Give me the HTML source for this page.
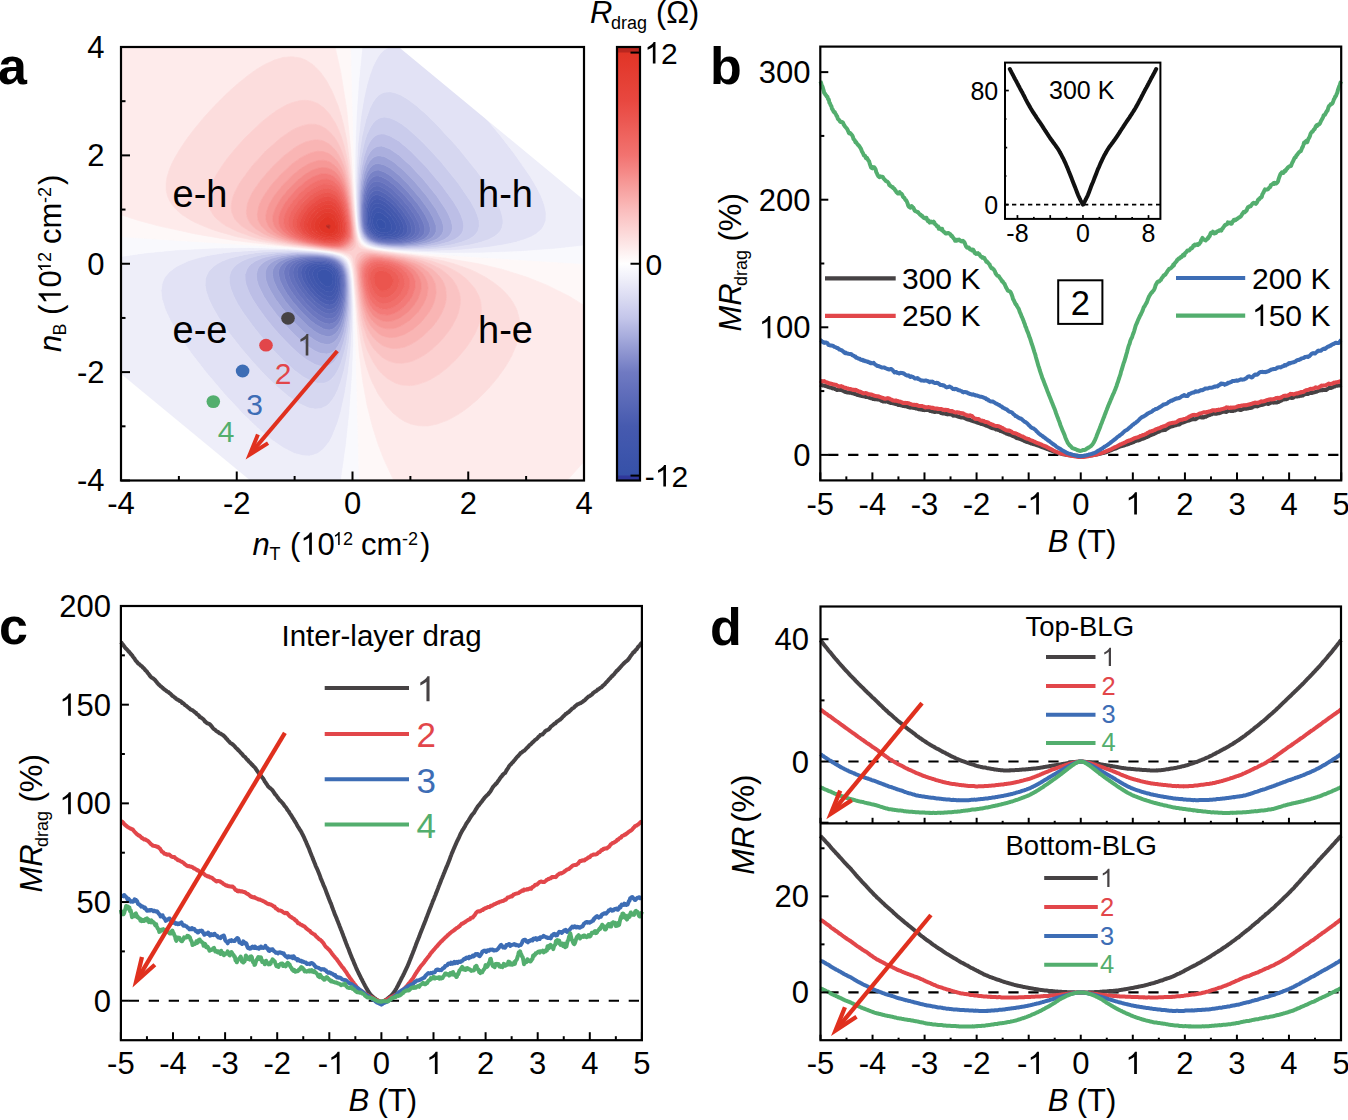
<!DOCTYPE html><html><head><meta charset="utf-8"><style>html,body{margin:0;padding:0;background:#fff;overflow:hidden;}svg{display:block;}</style></head><body>
<svg width="1348" height="1120" viewBox="0 0 1348 1120" font-family='"Liberation Sans", sans-serif'>
<defs><path id="g1" d="M763 0L583 0L583 1147C540 1106 483 1065 413 1024C343 983 280 952 223 931L223 1105C321 1151 407 1207 481 1273C555 1339 607 1403 638 1466L763 1466Z"/></defs>
<rect width="1348" height="1120" fill="#fff"/>
<g>
<path d="M381.4 228.9l3.2-.4 1.4-2.7-.7-2.7-1-1.4-2.9-2.5-2.9-.3-1.3 1.5-.6 2.7 .9 2.7 1 1.5 2 1.2z" fill="#3651a9" stroke="#3651a9" stroke-width=".7" fill-rule="evenodd"/>
<path d="M326.5 286.5l2.9 .1 2.8-2.7 .8-3.9-.1-2.7-.7-2.7-2.8-3.4-2.9-1.4-2.9-.5-2.9 .7-2.6 1.9-.7 2.7 .4 2.7 1.3 2.7 2 2.7 3.2 2.7zM378.5 231.6l2.9 .9 2.9 .3 2.9-.4 2.9-1.2 1.7-2.7 0-2.7-1.7-4.1-2.9-4.1-2.9-2.7-2.9-1.8-2.9-.8-2.8 .9-1.4 1.8-1.2 2.7-.4 2.7 .1 2.7 .8 2.7 2.1 3.5 2.3 1.9zM380.5 228.5l-2-1.2-1-1.5-.9-2.7 .6-2.7 1.3-1.5 2.9 .3 2.9 2.5 1 1.4 .7 2.7-1.4 2.7-3.2 .4z" fill="#3953aa" stroke="#3953aa" stroke-width=".7" fill-rule="evenodd"/>
<path d="M326.5 291.6l2.9 .4 2.8-1.1 2-2.8 .9-2.1 .6-3.3-.6-7.3-2.9-5.1-2.8-2.2-5.8-1.6-2.9 0-2.9 .8-3.3 1.9-1.6 2.7-.2 2.7 .6 2.7 2.8 5.4 4.6 5.3 4.1 2.8zM324.3 285.4l-3.2-2.7-2-2.7-1.3-2.7-.4-2.7 .7-2.7 2.6-1.9 2.9-.7 2.9 .5 2.9 1.4 2.8 3.4 .7 2.7 .1 2.7-.8 3.9-2.8 2.7-2.9-.1zM378.5 233.9l5.8 1.1 2.9 0 4.9-1.1 3.3-2.7 .9-2.7-.2-2.7-1-2.7-2.1-3.7-2.9-3.8-5.8-5.5-2.9-1.7-2.9-.9-2.8 .3-2.9 2.6-1.6 4.6-.6 5.4 .8 5.4 1.4 3.3 2.9 3.1 2.8 1.7zM378 231.2l-2.3-1.9-2.1-3.5-.8-2.7-.1-2.7 .4-2.7 1.2-2.7 1.4-1.8 2.8-.9 2.9 .8 2.9 1.8 2.9 2.7 2.9 4.1 1.7 4.1 0 2.7-1.7 2.7-2.9 1.2-2.9 .4-2.9-.3-2.9-.9z" fill="#3d55ac" stroke="#3d55ac" stroke-width=".7" fill-rule="evenodd"/>
<path d="M329.4 296.6l2.8-.7 2.4-2.3 2.3-5.5 .8-8.1-1-5.4-1-2.7-3.5-4.2-2.8-1.7-2.9-.9-5.8-.6-2.9 .3-5.2 1.7-2.9 2.7-1 2.7 0 2.7 1.7 5.4 3.4 5.4 4 4.7 5.8 4.6 3.8 1.6zM324.8 290.8l-4.1-2.8-4.6-5.3-2.8-5.4-.6-2.7 .2-2.7 1.6-2.7 3.3-1.9 2.9-.8 2.9 0 5.8 1.6 2.8 2.2 2.9 5.1 .6 7.3-.6 3.3-.9 2.1-2 2.8-2.8 1.1-2.9-.4zM384.3 236.8l6.1-.1 2.6-.7 4.6-2.1 2.1-2.7 .6-2.7-.4-2.7-1-2.7-3.1-5.4-6.9-8.1-4.6-3.8-2.9-1.7-2.9-.9-2.8 .1-2.9 1.8-2.9 5.7-1 6.9 .7 8.1 2.7 5.4 2.9 2.7 3.3 1.6 4.5 1.2zM378.5 233.9l-2.8-1.7-2.9-3.1-1.4-3.3-.8-5.4 .6-5.4 1.6-4.6 2.9-2.6 2.8-.3 2.9 .9 2.9 1.7 5.8 5.5 2.9 3.8 2.1 3.7 1 2.7 .2 2.7-.9 2.7-3.3 2.7-4.9 1.1-2.9 0-5.8-1.1z" fill="#4157ad" stroke="#4157ad" stroke-width=".7" fill-rule="evenodd"/>
<path d="M323.6 299l2.9 1.3 2.9 .6 2.8-.5 2.9-2.3 2.9-5.8 .8-4.2 .4-8.1-.8-5.4-1-2.7-2.3-3.6-2.9-2.5-2.8-1.5-2.9-.9-5.8-.5-7.7 .9-5.4 2.7-2.1 2.7-.7 2.7 .7 5.4 2.5 5.4 4 5.8 5.8 6.2 5.7 4.3zM327.4 296.3l-3.8-1.6-5.8-4.6-4-4.7-3.4-5.4-1.7-5.4 0-2.7 1-2.7 2.9-2.7 5.2-1.7 2.9-.3 5.8 .6 2.9 .9 2.8 1.7 3.5 4.2 1 2.7 1 5.4-.8 8.1-2.3 5.5-2.4 2.3-2.8 .7zM378.5 237l8.7 1.2 5.8-.4 4.9-1.1 4.2-2.8 1.6-2.7 .3-2.7-.4-2.7-2.3-5.4-3.5-5.4-4.8-5.8-5.3-5.1-3.4-2.5-2.9-1.6-2.9-1-2.8 0-2.9 1.4-2.9 4.1-2 7.8-.3 8.1 .7 5.4 2.3 5.4 2.3 2.7 4.7 2.8zM383 236.7l-4.5-1.2-3.3-1.6-2.9-2.7-2.7-5.4-.7-8.1 1-6.9 2.9-5.7 2.9-1.8 2.8-.1 2.9 .9 2.9 1.7 4.6 3.8 6.9 8.1 3.1 5.4 1 2.7 .4 2.7-.6 2.7-2.1 2.7-4.6 2.1-2.6 .7-6.1 .1z" fill="#4459ae" stroke="#4459ae" stroke-width=".7" fill-rule="evenodd"/>
<path d="M326.5 304.6l2.9 .5 2.8-.4 2.9-1.8 2.9-4.5 2-7.6 .7-8.1-1-8.1-1.7-4.5-2.7-3.6-3.1-2.3-5.7-2-8.7-.7-5.8 .7-5 1.6-3.8 2.7-1.7 2.7-.5 2.7 .1 2.7 1.7 5.4 4.8 8.1 6.9 8.2 6.2 5.2 5.3 2.9zM323.5 299l-5.7-4.3-5.8-6.2-4-5.8-2.5-5.4-.7-5.4 .7-2.7 2.1-2.7 5.4-2.7 7.7-.9 5.8 .5 2.9 .9 2.8 1.5 2.9 2.5 2.3 3.6 1 2.7 .8 5.4-.4 8.1-.8 4.2-2.9 5.8-2.9 2.3-2.8 .5-2.9-.6-2.9-1.3zM387.2 239.5l8.7-.6 7.1-2.2 3.3-2.8 1.3-2.7 .2-2.7-.5-2.7-2.2-5.4-3.4-5.4-4.2-5.4-5-5.5-8.2-6.7-5.8-2.5-2.8-.1-2.9 1.2-2.5 2.7-2.2 5.4-1.1 4.3-.6 6.6 .6 10.4 2.1 5.8 3.7 4.1 2.9 1.8 2.8 1.1 6 1.2zM377.6 236.7l-4.7-2.8-2.3-2.7-2.3-5.4-.7-5.4 .3-8.1 2-7.8 2.9-4.1 2.9-1.4 2.8 0 2.9 1 2.9 1.6 3.4 2.5 5.3 5.1 4.8 5.8 3.5 5.4 2.3 5.4 .4 2.7-.3 2.7-1.6 2.7-4.2 2.8-4.9 1.1-5.8 .4-8.7-1.2z" fill="#4a5db1" stroke="#4a5db1" stroke-width=".7" fill-rule="evenodd"/>
<path d="M323.6 307.8l2.9 1.1 2.9 .6 2.8-.4 2.9-1.7 2.9-3.8 2.6-7.3 1.1-8.2 0-8.1-.8-5.4-.8-2.7-2.1-4.1-2.9-3-5.7-3.1-5.8-1.2-5.8-.2-5.8 .3-5.8 1.4-4.1 1.8-3.1 2.7-1.5 2.7-.5 2.7 .8 5.4 3.9 8.1 5.8 8.2 7.4 7.8 7.6 5.7zM326 304.4l-5.3-2.9-6.2-5.2-6.9-8.2-4.8-8.1-1.7-5.4-.1-2.7 .5-2.7 1.7-2.7 3.8-2.7 5-1.6 5.8-.7 8.7 .7 5.7 2 3.1 2.3 2.7 3.6 1.7 4.5 1 8.1-.7 8.1-2 7.6-2.9 4.5-2.9 1.8-2.8 .4-2.9-.5zM381.4 239.9l5.8 .6 5.8 0 8.2-1.1 3.4-1.3 3.1-1.4 2.7-2.8 1.2-2.7 .1-2.7-1.4-5.4-2.9-5.4-5.7-8.1-5.8-6.7-5.8-5.6-5.8-4.3-5.8-2.4-2.8-.1-2.9 1-2.9 3-2.9 6.9-1.6 10.9 0 8.1 1.3 8.1 2.9 5.4 3.2 2.9 5.9 2.6zM384.5 239.4l-6-1.2-2.8-1.1-2.9-1.8-3.7-4.1-2.1-5.8-.6-10.4 .6-6.6 1.1-4.3 2.2-5.4 2.5-2.7 2.9-1.2 2.8 .1 5.8 2.5 8.2 6.7 5 5.5 4.2 5.4 3.4 5.4 2.2 5.4 .5 2.7-.2 2.7-1.3 2.7-3.3 2.8-7.1 2.2-8.7 .6z" fill="#5364b5" stroke="#5364b5" stroke-width=".7" fill-rule="evenodd"/>
<path d="M326.5 313.5l2.9 .5 2.8-.4 2.9-1.6 2.9-3.4 2.9-6.9 1.5-8.1 .5-8.2-.5-8.1-1.5-6.3-2.5-4.5-2.7-2.7-3.5-2.1-2.8-1.1-5.8-1.1-8.7-.3-5.8 .5-6.1 1.3-5.5 2.8-2.7 2.7-1.4 2.7-.4 2.7 .1 2.7 1.6 5.4 4.3 8.1 8.4 10.9 8.3 8.1 5 3.7 3.2 1.7zM322.5 307.1l-7.6-5.7-7.4-7.8-5.8-8.2-3.9-8.1-.8-5.4 .5-2.7 1.5-2.7 3.1-2.7 4.1-1.8 5.8-1.4 5.8-.3 5.8 .2 5.8 1.2 5.7 3.1 2.9 3 2.1 4.1 .8 2.7 .8 5.4 0 8.1-1.1 8.2-2.6 7.3-2.9 3.8-2.9 1.7-2.8 .4-2.9-.6-2.9-1.1zM378.5 240.2l5.8 1.1 8.7 .3 5.8-.5 8.2-1.7 5.2-2.7 2.5-2.8 1-2.7 .1-2.7-1.4-5.4-2.8-5.4-5.5-8.1-7.3-8.7-8.7-8.4-5.8-4.1-5.8-2.3-2.8-.1-2.9 1-2.9 2.7-2.9 5.9-1.9 8.5-.9 10.9 .5 8.1 2 8.1 3.2 4.4 2.9 2.3 2.9 1.5zM378.7 239.4l-5.9-2.6-3.2-2.9-2.9-5.4-1.3-8.1 0-8.1 1.6-10.9 2.9-6.9 2.9-3 2.9-1 2.8 .1 5.8 2.4 5.8 4.3 5.8 5.6 5.8 6.7 5.7 8.1 2.9 5.4 1.4 5.4-.1 2.7-1.2 2.7-2.7 2.8-3.1 1.4-3.4 1.3-8.2 1.1-5.8 0-5.8-.6z" fill="#5b6ab8" stroke="#5b6ab8" stroke-width=".7" fill-rule="evenodd"/>
<path d="M326.5 318.4l2.9 .4 2.8-.4 2.9-1.5 2.9-3.3 2.9-6.1 2.4-11.2 .7-10.9-.5-8.1-2.2-8.1-3.3-4.8-2.9-2.3-2.9-1.5-5.7-1.6-8.7-.9-8 .2-6.5 1.1-5.8 1.6-4.7 2.8-2.5 2.7-1.2 2.7-.3 5.4 .5 2.7 2.1 5.4 6.6 10.9 9.1 10.8 4.9 4.8 5.8 4.8 7.3 3.9zM323.9 312.5l-3.2-1.7-5-3.7-8.3-8.1-8.4-10.9-4.3-8.1-1.6-5.4-.1-2.7 .4-2.7 1.4-2.7 2.7-2.7 5.5-2.8 6.1-1.3 5.8-.5 8.7 .3 5.8 1.1 2.8 1.1 3.5 2.1 2.7 2.7 2.5 4.5 1.5 6.3 .5 8.1-.5 8.2-1.5 8.1-2.9 6.9-2.9 3.4-2.9 1.6-2.8 .4-2.9-.5zM384.3 242.2l8.7 .4 8.4-.5 10.9-2.7 4.5-2.7 2.3-2.8 .9-2.7 .1-2.7-1.3-5.4-4.3-8.1-5.7-8.1-9.4-10.9-8.6-8.1-6.5-4.5-5.8-2.1-2.8-.1-2.9 1.1-2.9 2.6-2.9 5.2-1 3.2-1.8 8.1-.6 5.5-.2 8.1 .4 8.1 2 8.1 1.4 2.7 2.3 2.8 3.3 2.3 2.9 1.3 7.6 1.8zM375.7 239.4l-2.9-1.5-2.9-2.3-3.2-4.4-2-8.1-.5-8.1 .9-10.9 1.9-8.5 2.9-5.9 2.9-2.7 2.9-1 2.8 .1 5.8 2.3 5.8 4.1 8.7 8.4 7.3 8.7 5.5 8.1 2.8 5.4 1.4 5.4-.1 2.7-1 2.7-2.5 2.8-5.2 2.7-8.2 1.7-5.8 .5-8.7-.3-5.8-1.1z" fill="#6370bc" stroke="#6370bc" stroke-width=".7" fill-rule="evenodd"/>
<path d="M326.5 323.8l2.9 .3 2.8-.5 2.9-1.6 2.9-3.1 2-3.7 2.7-8.1 1.8-10.8 .4-13.6-1.1-8.9-2.8-7.3-2.3-2.7-3.6-2.8-5.7-2.2-5.8-1.1-8.7-.5-8.7 .4-5.8 .8-8.3 2.6-4.2 2.8-2.3 2.7-1.3 2.7-.5 2.7 .6 5.4 3.3 8.1 3.2 5.4 5.9 8.2 9.4 10.7 5.8 5.5 5.8 4.5 2.9 1.8 4.5 1.9zM325.1 317.9l-7.3-3.9-5.8-4.8-4.9-4.8-9.1-10.8-6.6-10.9-2.1-5.4-.5-2.7 .3-5.4 1.2-2.7 2.5-2.7 4.7-2.8 5.8-1.6 6.5-1.1 8-.2 8.7 .9 5.7 1.6 2.9 1.5 2.9 2.3 3.3 4.8 2.2 8.1 .5 8.1-.7 10.9-2.4 11.2-2.9 6.1-2.9 3.3-2.9 1.5-2.8 .4-2.9-.4zM381.4 242.6l8.7 .8 8.7-.1 8.7-.9 5.8-1.5 4.3-1.5 4.1-2.7 2.2-2.8 .9-2.7 .1-2.7-1.3-5.4-4-8.1-7.6-10.9-9.3-10.8-8.4-8.1-7.1-5.5-5.8-3-2.9-.7-2.8 0-2.9 1.1-2.9 2.6-2.9 4.9-1.1 3.3-1.8 6.7-.9 6.8-.6 16.3 1.3 10.8 2.3 5.4 2.1 2.8 3.4 2.7 6.9 2.7zM383.3 242.1l-7.6-1.8-2.9-1.3-3.3-2.3-2.3-2.8-1.4-2.7-2-8.1-.4-8.1 .2-8.1 .6-5.5 1.8-8.1 1-3.2 2.9-5.2 2.9-2.6 2.9-1.1 2.8 .1 5.8 2.1 6.5 4.5 8.6 8.1 9.4 10.9 5.7 8.1 4.3 8.1 1.3 5.4-.1 2.7-.9 2.7-2.3 2.8-4.5 2.7-10.9 2.7-8.4 .5-8.7-.4z" fill="#6c77c0" stroke="#6c77c0" stroke-width=".7" fill-rule="evenodd"/>
<path d="M323.6 328.9l2.9 .8 2.9 .2 2.8-.6 2.9-1.7 2.9-3.1 2.2-3.9 2.9-8.1 2.3-13.5 .5-13.6-1-10.8-1.1-4.1-1.8-4-4-4.6-2.9-1.9-5.7-2.1-8.7-1.3-11.6-.3-8.7 .8-6.6 1.2-7.2 2.7-4 2.8-2.3 2.7-1.2 2.7-.6 2.7 .1 2.7 1.2 5.4 3.7 8.1 3.3 5.5 5.9 8.1 10.6 12.1 5.8 5.5 5.8 4.8 8.3 4.7zM325.2 323.4l-4.5-1.9-2.9-1.8-5.8-4.5-5.8-5.5-9.4-10.7-5.9-8.2-3.2-5.4-3.3-8.1-.6-5.4 .5-2.7 1.3-2.7 2.3-2.7 4.2-2.8 8.3-2.6 5.8-.8 8.7-.4 8.7 .5 5.8 1.1 5.7 2.2 3.6 2.8 2.3 2.7 2.8 7.3 1.1 8.9-.4 13.6-1.8 10.8-2.7 8.1-2 3.7-2.9 3.1-2.9 1.6-2.8 .5-2.9-.3zM378.5 242.8l8.7 1.3 8.7 .3 11.6-.8 8.4-1.5 7.3-2.7 3.8-2.7 2.1-2.8 1-2.7 .2-2.7-1.2-5.4-3.9-8.1-7.3-10.9-8.9-10.8-10.2-10.6-8.7-7.3-5.8-3.5-5.8-1.8-2.8 .2-2.9 1.2-2.9 2.6-2.9 4.8-3.5 11.7-1.7 16.3 .2 13.5 .6 5.4 1.5 5.8 2.9 5 2.9 2.6 5.8 2.9zM378.6 242.1l-6.9-2.7-3.4-2.7-2.1-2.8-2.3-5.4-1.3-10.8 .6-16.3 .9-6.8 1.8-6.7 1.1-3.3 2.9-4.9 2.9-2.6 2.9-1.1 2.8 0 2.9 .7 5.8 3 7.1 5.5 8.4 8.1 9.3 10.8 7.6 10.9 4 8.1 1.3 5.4-.1 2.7-.9 2.7-2.2 2.8-4.1 2.7-4.3 1.5-5.8 1.5-8.7 .9-8.7 .1-8.7-.8z" fill="#7882c6" stroke="#7882c6" stroke-width=".7" fill-rule="evenodd"/>
<path d="M320.7 334.8l5.8 1.7 2.9 0 2.8-.8 2.9-1.8 2.9-3.2 1.1-1.9 1.8-3.3 1.7-4.9 1.2-3.8 1.8-9.7 1.2-16.3-.6-13.5-1.1-5.4-2-5.4-1.8-2.7-2.8-2.8-3.4-1.9-5.7-2-8.7-1.3-11.6-.4-11.6 .8-10.5 2.1-6.5 2.7-3.8 2.8-2.3 2.7-1.3 2.7-.6 2.7-.1 2.7 1 5.4 3.5 8.1 8.7 13.6 11.3 13.5 12.2 11.9 5.8 4.4 4.6 2.7zM323.2 328.8l-8.3-4.7-5.8-4.8-5.8-5.5-10.6-12.1-5.9-8.1-3.3-5.5-3.7-8.1-1.2-5.4-.1-2.7 .6-2.7 1.2-2.7 2.3-2.7 4-2.8 7.2-2.7 6.6-1.2 8.7-.8 11.6 .3 8.7 1.3 5.7 2.1 2.9 1.9 4 4.6 1.8 4 1.1 4.1 1 10.8-.5 13.6-2.3 13.5-2.9 8.1-2.2 3.9-2.9 3.1-2.9 1.7-2.8 .6-2.9-.2-2.9-.8zM387.2 244.9l11.6 .4 9.2-.5 8.2-1.2 8.6-2.4 5.8-2.8 2.4-1.7 2.1-2.8 1-2.7 0-5.4-3-8.1-4.7-8.1-7.8-10.9-11.6-13.5-10.2-10.2-8.7-6.9-5.8-3.2-5.8-1.4-2.8 .3-2.9 1.3-2.9 2.8-2.9 4.8-2.9 8.2-1.8 9.7-1.1 9.8-.3 9.2 .3 10.8 .6 5.4 1.3 5.4 1.1 2.7 2.8 3.9 2.9 2.4 3.5 1.9 5.1 1.5 7.7 1.2zM375.7 242.1l-5.8-2.9-2.9-2.6-2.9-5-1.5-5.8-.6-5.4-.2-13.5 1.7-16.3 3.5-11.7 2.9-4.8 2.9-2.6 2.9-1.2 2.8-.2 5.8 1.8 5.8 3.5 8.7 7.3 10.2 10.6 8.9 10.8 7.3 10.9 3.9 8.1 1.2 5.4-.2 2.7-1 2.7-2.1 2.8-3.8 2.7-7.3 2.7-8.4 1.5-11.6 .8-8.7-.3-8.7-1.3z" fill="#8991ce" stroke="#8991ce" stroke-width=".7" fill-rule="evenodd"/>
<path d="M320.7 343.2l5.8 1.3 2.9-.2 2.8-1.1 2.9-2 2.9-3.4 2.9-5.3 2.9-8.3 2.9-15.3 1-18.1-.2-8.1-.9-8.1-1.4-5.4-1.4-3.3-3.9-4.9-4.8-2.9-8.6-2.3-8.7-.9-14.5-.3-11.8 1-11.7 2.7-6.1 2.7-3.8 2.8-2.4 2.7-1.4 2.7-.7 2.7-.2 2.7 .7 5.4 1.9 5.4 2.7 5.4 4.9 8.2 5.9 8.1 13.3 15.6 8.7 8.6 5.8 4.9 5.8 4.1 3.8 2zM319.5 334.2l-4.6-2.7-5.8-4.4-12.2-11.9-11.3-13.5-8.7-13.6-3.5-8.1-1-5.4 .1-2.7 .6-2.7 1.3-2.7 2.3-2.7 3.8-2.8 6.5-2.7 10.5-2.1 11.6-.8 11.6 .4 8.7 1.3 5.7 2 3.4 1.9 2.8 2.8 1.8 2.7 2 5.4 1.1 5.4 .6 13.5-1.2 16.3-1.8 9.7-1.2 3.8-1.7 4.9-1.8 3.3-1.1 1.9-2.9 3.2-2.9 1.8-2.8 .8-2.9 0-5.8-1.7zM381.4 244.9l11.6 1.1 11.6 0 13.6-1.2 9.5-2.1 8.5-3.3 3.7-2.7 2.2-2.8 1.1-2.7 .4-2.7-.2-2.7-1.5-5.4-5.6-10.8-9.6-13.6-11.3-13.5-10.8-11.3-11.6-9.8-8.7-4.8-5.8-.9-2.8 .5-2.9 1.6-2.9 3-2.9 4.8-2.9 8.1-3.1 16.9-.7 10.8-.1 10.9 .9 13.5 1.2 5.4 1.8 4.1 2.9 3.7 2.9 2.2 5.8 2.4 4.9 1.2zM386.2 244.8l-7.7-1.2-5.1-1.5-3.5-1.9-2.9-2.4-2.8-3.9-1.1-2.7-1.3-5.4-.6-5.4-.3-10.8 .3-9.2 1.1-9.8 1.8-9.7 2.9-8.2 2.9-4.8 2.9-2.8 2.9-1.3 2.8-.3 5.8 1.4 5.8 3.2 8.7 6.9 10.2 10.2 11.6 13.5 7.8 10.9 4.7 8.1 3 8.1 0 5.4-1 2.7-2.1 2.8-2.4 1.7-5.8 2.8-8.6 2.4-8.2 1.2-9.2 .5-11.6-.4z" fill="#9aa0d6" stroke="#9aa0d6" stroke-width=".7" fill-rule="evenodd"/>
<path d="M320.7 353.3l5.8 .8 2.9-.5 2.8-1.4 2.9-2.3 2.9-3.8 2.9-5.5 2.9-8.2 3.4-17.2 1-10.8 .4-10.8-.3-10.9-.9-8.1-1.2-5.4-2.4-5-2.6-3.2-3.2-2.3-5.8-2.4-8.6-1.6-11.6-.9-14.5 .1-14.4 1.5-11.5 2.9-6 2.7-3.9 2.8-2.5 2.7-1.6 2.7-1.3 5.4 .5 5.4 1.6 5.4 5.3 10.9 5.3 8.1 8.1 10.8 8.8 10.4 8.2 8.6 8.7 8.1 6.3 4.9 5.8 3.7 5.3 2.3zM318.7 342.3l-3.8-2-5.8-4.1-5.8-4.9-8.7-8.6-13.3-15.6-5.9-8.1-4.9-8.2-2.7-5.4-1.9-5.4-.7-5.4 .2-2.7 .7-2.7 1.4-2.7 2.4-2.7 3.8-2.8 6.1-2.7 11.7-2.7 11.8-1 14.5 .3 8.7 .9 8.6 2.3 4.8 2.9 3.9 4.9 1.4 3.3 1.4 5.4 .9 8.1 .2 8.1-1 18.1-2.9 15.3-2.9 8.3-2.9 5.3-2.9 3.4-2.9 2-2.8 1.1-2.9 .2-5.8-1.3zM378.5 245.1l11.6 1.5 11.6 .4 14.5-.7 11.5-1.5 10.5-2.7 6.2-2.7 3.9-2.7 2.3-2.8 1.3-2.7 .5-2.7 0-2.7-1.3-5.4-2.3-5.4-2.9-5.4-9.1-13.6-13.1-16.2-13.3-14.4-11.6-10.4-8.7-5.9-5.8-2.4-2.9-.6-2.9 .1-2.8 .9-2.9 1.9-2.9 3.3-2.9 5.1-2.9 8.1-2 8.8-1.3 8.2-1.2 13.5 .1 21.7 .7 8.1 1.2 5.4 2.3 5.5 3.1 3.4 2.9 2 7.1 2.7zM380.6 244.8l-4.9-1.2-5.8-2.4-2.9-2.2-2.9-3.7-1.8-4.1-1.2-5.4-.9-13.5 .1-10.9 .7-10.8 3.1-16.9 2.9-8.1 2.9-4.8 2.9-3 2.9-1.6 2.8-.5 5.8 .9 8.7 4.8 11.6 9.8 10.8 11.3 11.3 13.5 9.6 13.6 5.6 10.8 1.5 5.4 .2 2.7-.4 2.7-1.1 2.7-2.2 2.8-3.7 2.7-8.5 3.3-9.5 2.1-13.6 1.2-11.6 0-11.6-1.1z" fill="#abafde" stroke="#abafde" stroke-width=".7" fill-rule="evenodd"/>
<path d="M314.9 364.4l5.8 1.8 2.9 .3 2.9-.3 2.9-.9 2.8-1.8 2.9-2.8 2.9-4.2 2.9-6 2.9-8.4 2.9-12.6 1.3-8.9 1-10.8 .5-13.5-.2-10.9-1-10.8-1.2-5.4-2.5-5.4-2.1-2.8-3.4-2.7-6.7-2.7-8.8-1.6-14.5-1.1-17.4 .1-14.4 1.6-11.6 2.5-4.1 1.2-6.1 2.7-4.1 2.8-2.8 2.7-1.8 2.7-1.8 5.4 .1 5.4 1.2 5.4 3.3 8.2 2.9 5.4 5.2 8.1 7.8 10.8 8.8 10.9 9.8 10.8 8.1 8.1 8.2 7.3 5.8 4.4 7.9 4.6zM320.2 353.2l-5.3-2.3-5.8-3.7-6.3-4.9-8.7-8.1-8.2-8.6-8.8-10.4-8.1-10.8-5.3-8.1-5.3-10.9-1.6-5.4-.5-5.4 1.3-5.4 1.6-2.7 2.5-2.7 3.9-2.8 6-2.7 11.5-2.9 14.4-1.5 14.5-.1 11.6 .9 8.6 1.6 5.8 2.4 3.2 2.3 2.6 3.2 2.4 5 1.2 5.4 .9 8.1 .3 10.9-.4 10.8-1 10.8-3.4 17.2-2.9 8.2-2.9 5.5-2.9 3.8-2.9 2.3-2.8 1.4-2.9 .5-5.8-.8zM393 247.6l14.5 .3 14.4-.7 16.5-2.4 10-2.7 6.3-2.7 4.1-2.7 2.6-2.8 1.5-2.7 .9-5.4-.9-5.4-2-5.4-2.6-5.4-4.9-8.2-11.8-16.2-16-19-15.2-15.5-11.6-9.7-8.7-5.1-5.8-1.8-2.9-.2-2.9 .4-2.8 1.3-2.9 2.4-2.9 3.8-2.9 5.6-2.9 8.3-2.9 13.3-1.9 16.2-.7 18.9 .6 16.3 1 8.1 1.5 5.4 2.4 4.4 2.9 2.9 2.9 1.8 5.8 2.2 5.7 1.2 10.7 1.1zM377 244.8l-7.1-2.7-2.9-2-3.1-3.4-2.3-5.5-1.2-5.4-.7-8.1-.1-21.7 1.2-13.5 1.3-8.2 2-8.8 2.9-8.1 2.9-5.1 2.9-3.3 2.9-1.9 2.8-.9 2.9-.1 2.9 .6 5.8 2.4 8.7 5.9 11.6 10.4 13.3 14.4 13.1 16.2 9.1 13.6 2.9 5.4 2.3 5.4 1.3 5.4 0 2.7-.5 2.7-1.3 2.7-2.3 2.8-3.9 2.7-6.2 2.7-10.5 2.7-11.5 1.5-14.5 .7-11.6-.4-11.6-1.5z" fill="#bcbee6" stroke="#bcbee6" stroke-width=".7" fill-rule="evenodd"/>
<path d="M317.8 383.2l5.8 0 2.9-.8 2.9-1.5 2.8-2.5 2.9-3.5 2.9-4.9 2.9-6.6 3.9-13 1.9-8.8 2.3-15.5 .9-10.9 .5-13.5-.2-13.6-.7-10.8-1.6-8.1-2.2-5.4-2-2.8-3-2.7-2.7-1.4-5.8-2-14.4-2.2-20.3-.8-20.2 .8-17.4 2.5-11.4 3.1-6.4 2.7-4.5 2.8-3.2 2.7-2.2 2.7-1.6 2.7-1.4 5.4 .1 5.4 1.2 5.4 3.2 8.2 4.3 8.1 5.1 8.1 9.8 13.6 8.7 10.8 12 13.5 10.7 10.9 10.3 9.2 8.7 6.4 8.7 4.6 4.9 1.5zM314.1 364l-7.9-4.6-5.8-4.4-8.2-7.3-8.1-8.1-9.8-10.8-8.8-10.9-7.8-10.8-5.2-8.1-2.9-5.4-3.3-8.2-1.2-5.4-.1-5.4 1.8-5.4 1.8-2.7 2.8-2.7 4.1-2.8 6.1-2.7 4.1-1.2 11.6-2.5 14.4-1.6 17.4-.1 14.5 1.1 8.8 1.6 6.7 2.7 3.4 2.7 2.1 2.8 2.5 5.4 1.2 5.4 1 10.8 .2 10.9-.5 13.5-1 10.8-1.3 8.9-2.9 12.6-2.9 8.4-2.9 6-2.9 4.2-2.9 2.8-2.8 1.8-2.9 .9-2.9 .3-2.9-.3-5.8-1.8zM384.3 247.5l17.4 1.3 17.4-.1 15.9-1.2 16.8-2.7 10-2.7 6.7-2.7 4.5-2.7 3-2.8 1.9-2.7 1.5-5.4-.4-5.4-1.6-5.4-2.3-5.4-4.4-8.2-13-18.9-17.6-21.7-17.7-19-14.9-13.5-5.8-4.3-5.8-3.5-5.8-2.5-5.8-.9-2.9 .4-2.9 1-2.8 1.9-2.9 3-2.9 4.5-2.9 6.4-2.5 7.5-3.3 14.9-1.7 12.2-1.2 13.8-.5 18.7 1 21.7 1.3 8.1 2 5.5 2 2.9 2.9 2.7 2.9 1.6 5.8 2.1 8.6 1.5zM392.1 247.5l-10.7-1.1-5.7-1.2-5.8-2.2-2.9-1.8-2.9-2.9-2.4-4.4-1.5-5.4-1-8.1-.6-16.3 .7-18.9 1.9-16.2 2.9-13.3 2.9-8.3 2.9-5.6 2.9-3.8 2.9-2.4 2.8-1.3 2.9-.4 2.9 .2 5.8 1.8 8.7 5.1 11.6 9.7 15.2 15.5 16 19 11.8 16.2 4.9 8.2 2.6 5.4 2 5.4 .9 5.4-.9 5.4-1.5 2.7-2.6 2.8-4.1 2.7-6.3 2.7-10 2.7-16.5 2.4-14.4 .7-14.5-.3z" fill="#caccec" stroke="#caccec" stroke-width=".7" fill-rule="evenodd"/>
<path d="M309.1 408.1l5.8 1 5.8-.4 5.8-2.7 2.9-2.5 2.8-3.4 2.9-4.6 2.9-6.1 2.9-7.8 2.9-10.2 2.9-13.6 2.3-15.5 1.4-13.5 .9-16.3 0-16.2-.7-16.3-1.8-10.8-2.1-5.5-2.9-3.9-2.9-2.3-3.8-1.9-4.9-1.4-7.2-1.3-10.1-1-26.1-1-23.1 .9-10.8 1.1-9.5 1.5-15.9 3.9-7.1 2.7-5.2 2.8-3.9 2.7-5 5.4-2.5 5.4-.5 2.7-.2 5.4 .9 5.4 2.7 8.2 3.8 8.1 6.3 10.8 11.3 16.3 10.6 13.5 11.5 13.6 13.5 14.5 11.6 11.2 11.5 9.7 8.7 6 9.5 4.6zM316.9 383l-4.9-1.5-8.7-4.6-8.7-6.4-10.3-9.2-10.7-10.9-12-13.5-8.7-10.8-9.8-13.6-5.1-8.1-4.3-8.1-3.2-8.2-1.2-5.4-.1-5.4 1.4-5.4 1.6-2.7 2.2-2.7 3.2-2.7 4.5-2.8 6.4-2.7 11.4-3.1 17.4-2.5 20.2-.8 20.3 .8 14.4 2.2 5.8 2 2.7 1.4 3 2.7 2 2.8 2.2 5.4 1.6 8.1 .7 10.8 .2 13.6-.5 13.5-.9 10.9-2.3 15.5-1.9 8.8-3.9 13-2.9 6.6-2.9 4.9-2.9 3.5-2.8 2.5-2.9 1.5-2.9 .8-5.8 0zM381.4 247.8l20.3 1.8 23.1 .2 26.1-1.9 20-3.1 10.7-2.7 7.4-2.7 5.2-2.7 3.6-2.8 2.4-2.7 1.6-2.7 1.3-5.4-.3-5.4-2.3-8.1-3.7-8.2-4.6-8.1-7.1-10.8-7.9-10.9-19.6-24.4-22.4-24.3-10.4-10-8.6-7.5-8.7-6.4-5.8-3.5-5.8-2.5-5.8-1.3-5.8 .5-2.9 1.2-2.9 1.9-2.8 2.9-2.9 4.1-2.9 5.7-4.2 12.2-3.8 16.2-2.4 16.3-1.6 16.2-.8 16.3 0 18.9 .7 16.3 1.6 10.8 1.8 5.5 1.6 2.7 2.5 2.7 4.6 2.7 9.6 2.7zM384.3 247.5l-8.6-1.5-5.8-2.1-2.9-1.6-2.9-2.7-2-2.9-2-5.5-1.3-8.1-1-21.7 .5-18.7 1.2-13.8 1.7-12.2 3.3-14.9 2.5-7.5 2.9-6.4 2.9-4.5 2.9-3 2.8-1.9 2.9-1 2.9-.4 5.8 .9 5.8 2.5 5.8 3.5 5.8 4.3 14.9 13.5 17.7 19 17.6 21.7 13 18.9 4.4 8.2 2.3 5.4 1.6 5.4 .4 5.4-1.5 5.4-1.9 2.7-3 2.8-4.5 2.7-6.7 2.7-10 2.7-16.8 2.7-15.9 1.2-17.4 .1-17.4-1.3z" fill="#d6d7f0" stroke="#d6d7f0" stroke-width=".7" fill-rule="evenodd"/>
<path d="M294.6 453.5l8.7 2.3 5.8 .2 2.9-.4 5.8-2.2 5.8-4.3 5.8-7.4 2.8-5.2 5.8-14.7 2.9-10.1 3.9-17.9 3.5-21.7 2.4-21.7 1.4-21.6 .3-24.4-.8-21.7-1.9-13.5-1.8-5.4-1.2-2-3-3.5-4.5-2.7-7-2.1-5.7-1-11.6-1.3-17.4-1.1-17.3-.5-17.4 .2-28.9 1.9-10.4 1.2-15.9 2.7-11.2 2.7-8.4 2.7-11.6 5.5-7.3 5.4-4.4 5.4-2.5 5.4-1.2 8.1 .9 8.2 3.4 10.8 5 10.8 7.9 13.6 13 19 14.6 18.9 18.4 21.7 17.7 19 15.1 14.7 14.5 12.2 11.6 8 11.2 5.7zM307 407.3l-9.5-4.6-8.7-6-11.5-9.7-11.6-11.2-13.5-14.5-11.5-13.6-10.6-13.5-11.3-16.3-6.3-10.8-3.8-8.1-2.7-8.2-.9-5.4 .2-5.4 .5-2.7 2.5-5.4 5-5.4 3.9-2.7 5.2-2.8 7.1-2.7 15.9-3.9 9.5-1.5 10.8-1.1 23.1-.9 26.1 1 10.1 1 7.2 1.3 4.9 1.4 3.8 1.9 2.9 2.3 2.9 3.9 2.1 5.5 1.8 10.8 .7 16.3 0 16.2-.9 16.3-1.4 13.5-2.3 15.5-2.9 13.6-2.9 10.2-2.9 7.8-2.9 6.1-2.9 4.6-2.8 3.4-2.9 2.5-5.8 2.7-5.8 .4-5.8-1zM398.8 250.3l28.9 1 30.9-1.1 28.2-2.7 17.4-2.7 12.1-2.7 8.7-2.7 6.5-2.7 4.7-2.8 3.4-2.7 2.6-2.7 3-5.4 .7-2.7 .4-5.4-1.2-8.1-3.9-10.9-7.2-13.5-8.6-13.6-11.7-16.2-14.8-19-15.9-19-17.1-18.9-13.2-13.6-13.4-12.6-11.6-9.6-8.6-6.1-8.7-4.8-5.3-2.1-15.9 0-4.9 2.8-2.9 2.6-2.9 3.6-2.8 4.7-2.9 6.1-2.9 7.8-2.9 9.9-2.9 12.8-4.1 25.6-2.6 27.1-1.2 27 .2 29.9 .8 13.5 1.5 10.8 2.5 7.2 2.8 3.7 3 2.2 2.9 1.5 5.8 1.7 8.6 1.5 13 1.2zM379.5 247.5l-9.6-2.7-4.6-2.7-2.5-2.7-1.6-2.7-1.8-5.5-1.6-10.8-.7-16.3 0-18.9 .8-16.3 1.6-16.2 2.4-16.3 3.8-16.2 4.2-12.2 2.9-5.7 2.9-4.1 2.8-2.9 2.9-1.9 2.9-1.2 5.8-.5 5.8 1.3 5.8 2.5 5.8 3.5 8.7 6.4 8.6 7.5 10.4 10 22.4 24.3 19.6 24.4 7.9 10.9 7.1 10.8 4.6 8.1 3.7 8.2 2.3 8.1 .3 5.4-1.3 5.4-1.6 2.7-2.4 2.7-3.6 2.8-5.2 2.7-7.4 2.7-10.7 2.7-20 3.1-26.1 1.9-23.1-.2-20.3-1.8z" fill="#e2e2f5" stroke="#e2e2f5" stroke-width=".7" fill-rule="evenodd"/>
<path d="M141.3 478.7l1.6 1.8 198.2 0 5-35.2 3.5-33 2.7-37.5 1.3-32.5-.1-35.2-1.3-27.1-1-8.1-1.3-5.4-2.4-5.5-2.2-2.7-4-2.7-3.3-1.2-5.8-1.6-11.5-1.6-31.9-2.5-40.5-1.2-34.7 .5-37.6 1.9-31 3-24 3.6 0 198.4 19.5 22.9zM294.3 453.4l-11.2-5.7-11.6-8-14.5-12.2-15.1-14.7-17.7-19-18.4-21.7-14.6-18.9-13-19-7.9-13.6-5-10.8-3.4-10.8-.9-8.2 1.2-8.1 2.5-5.4 4.4-5.4 7.3-5.4 11.6-5.5 8.4-2.7 11.2-2.7 15.9-2.7 10.4-1.2 28.9-1.9 17.4-.2 17.3 .5 17.4 1.1 11.6 1.3 5.7 1 7 2.1 4.5 2.7 3 3.5 1.2 2 1.8 5.4 1.9 13.5 .8 21.7-.3 24.4-1.4 21.6-2.4 21.7-3.5 21.7-3.9 17.9-2.9 10.1-5.8 14.7-2.8 5.2-5.8 7.4-5.8 4.3-5.8 2.2-2.9 .4-5.8-.2-8.7-2.3zM433.5 253l37.6 .2 40.6-1.3 37.6-2.4 34.7-3.7 0-184.7-11.7-14.1-167.2 0 5.3 2.1 8.7 4.8 8.6 6.1 11.6 9.6 11.6 10.8 11.6 11.8 25.1 28 13.5 16.2 12.6 16.3 17 24.3 6.4 10.9 4.1 8.1 3.1 8.1 1.8 8.2-.2 8.1-1.9 5.4-1.8 2.7-2.6 2.7-3.4 2.7-4.7 2.8-6.5 2.7-8.7 2.7-12.1 2.7-17.4 2.7-28.2 2.7-30.9 1.1-28.9-1-14.5-1.3-8.6-1.5-5.8-1.7-2.9-1.5-2.9-2.1-2.9-3.8-1.8-4.5-1.6-8.1-1-10.8-.6-16.3-.1-18.9 1.7-35.3 3.4-30.4 2.9-16.8 2.9-12.8 2.9-9.9 2.9-7.8 2.9-6.1 2.8-4.7 2.9-3.6 2.9-2.6 4.9-2.8-27.1 0-2.8 27.1-2.1 27.1-1.4 27.1-.8 27.1 .1 29.8 .8 24.4 1.2 16.2 .9 5.4 1.5 5.5 1.7 3.5 2.9 3.3 5.8 3.2 5.8 1.6 8.6 1.4 14.5 1.5 32.8 1.7z" fill="#eeeef9" stroke="#eeeef9" stroke-width=".7" fill-rule="evenodd"/>
<path d="M123.9 480.5l19 0-21.9-25.6 0 25.6zM343.8 480.5l15.4 0-3.1-127.3-2.1-59.6-1-13.6-1.4-10.8-2-6.6-2.7-4.3-3.5-2.7-7.7-2.7-9.2-1.6-14.5-1.7-66.6-4.9-124.4-7.9 0 19.7 24-3.6 31-3 37.6-1.9 34.7-.5 40.5 1.2 31.9 2.5 11.5 1.6 5.8 1.6 3.3 1.2 4 2.7 2.2 2.7 2.4 5.5 1.3 5.4 1 8.1 1.3 27.1 .1 35.2-1.3 32.5-2.7 37.5-3.5 33-5 35.2zM575.3 263.9l8.7 .6 0-18.7-28.9 3.2-34.8 2.5-37.6 1.5-34.7 .3-34.7-1.2-26.1-2-14.4-2.5-5.8-2.2-2.9-1.9-2.9-3.3-1.7-3.5-2-8.2-1.6-18.9-.9-29.8 .2-32.6 1.2-32.5 2.2-32.5 3.5-35.2-11.6 0 3 121.9 2 46.1 1.4 13.5 1.4 7.1 1.3 3.8 1.6 2.6 2.8 2.8 5.5 2.7 6.2 1.6 23.1 2.9 60.8 4.6 113.4 7.2zM584 61.1l0-14.1-11.7 0 11.3 13.5z" fill="#f9f9fd" stroke="#f9f9fd" stroke-width=".7" fill-rule="evenodd"/>
<path d="M361.2 480.5l32.8 0-6.8-13.6-8.7-21.5-5.7-17.7-5.8-22.8-4.4-24.6-3.4-27.1-5.9-78.6-2-10.8-2.6-5.5-3-2.7-4.8-2-11.5-2.5-82.1-9-19.6-2.7-32.4-5.5-37.2-8.1-19.8-5.4-17.3-5.6 0 22 124.4 7.9 66.6 4.9 14.5 1.7 9.2 1.6 7.7 2.7 3.5 2.7 2.7 4.3 2 6.6 1.4 10.8 1 13.6 2.1 59.6 3.1 127.3zM569.5 480.5l14.5 0 0-19-16.9 19zM584 305.4l0-40.9-127.3-8.1-63.7-4.9-14.5-1.9-8.6-2-5.8-2.8-2.9-2.7-2.6-5.4-1.3-5.5-1.4-10.8-.9-13.5-1.8-51.5-2.7-108.4-15.4 0 5.8 25.9 5.8 36.7 4 40.4 4.9 73.1 2.1 13.6 2.2 5.4 1.3 1.9 2.9 2.3 2.4 1.2 9.2 2.4 11.5 1.7 59.2 6.7 32.2 5.5 23 5.4 25.7 8.1 20.2 8.1 16.8 8.2 18.3 10.8z" fill="#fef8f8" stroke="#fef8f8" stroke-width=".7" fill-rule="evenodd"/>
<path d="M393 478.8l1 1.7 173.1 0 16.9-19 0-156.1-14.7-9.1-21.8-10.9-20.2-8.1-25.7-8.1-23-5.4-32.2-5.5-59.2-6.7-11.5-1.7-9.2-2.4-2.4-1.2-2.9-2.3-1.3-1.9-2.2-5.4-2.1-13.6-4.9-73.1-4-40.4-5.8-36.7-5.8-25.9-214.1 0 0 167.8 17.3 5.6 19.8 5.4 37.2 8.1 32.4 5.5 19.6 2.7 82.1 9 11.5 2.5 5.8 2.8 2.9 3.3 1.7 4.1 2 10.8 5.9 78.6 3.4 27.1 4.4 24.6 5.8 22.8 5.7 17.7 5.8 14.9 8.2 17.5zM409.8 423.6l-5.2-2.2-5.8-3.6-5.8-4.8-5.8-6.2-8.7-12.3-5.7-11.1-2.9-6.9-2.9-8.3-2.9-10.5-2.9-14.2-2.9-21.3-4.8-53-1.6-8.2-1.1-2.7-2.3-2.7-6.4-2.7-9.9-2-50.4-6.1-27.7-4.5-17.3-3.6-19.5-5.5-7.9-2.7-12.9-5.4-5.3-2.7-8.6-5.4-3.4-2.7-5.5-5.4-3.8-5.5-2.4-5.4-1.3-5.4 0-8.1 .9-5.5 2.5-8.1 3.6-8.1 6.2-10.8 7.3-10.9 6.6-8.8 10.6-12.9 9.9-10.8 11.4-11.5 11.6-10.6 11.5-9.3 8.7-6.1 8.7-5.1 8.7-3.9 8.7-2.6 8.6-.8 8.7 1.3 5.8 2.3 5.8 3.7 2.9 2.4 5.8 6.1 5.8 8.2 5.7 10.7 5.8 14.2 2.9 9.2 2.9 11.1 2.9 14.3 3.8 28.7 5 59.6 2 10.9 1 2.7 2.7 4.1 2 1.3 3.8 1.5 8.7 1.8 37.3 4.8 17.4 2.7 13.2 2.7 10.3 2.8 15.5 5.4 6.1 2.7 10.1 5.4 8.3 5.4 6.8 5.4 5.6 5.5 4.5 5.4 3.4 5.4 2.6 5.4 2.3 8.1 .7 8.2-.7 8.1-2.8 10.8-4.6 10.9-6.2 10.8-7.7 10.8-9.3 11.1-10.6 10.6-9.7 8.2-8.6 6.2-11.6 6.5-11.6 4.2-8.7 1.6-8.6-.1-8.7-1.9z" fill="#feebeb" stroke="#feebeb" stroke-width=".7" fill-rule="evenodd"/>
<path d="M410.4 423.9l8.7 1.9 8.6 .1 8.7-1.6 11.6-4.2 11.6-6.5 8.6-6.2 9.7-8.2 10.6-10.6 9.3-11.1 7.7-10.8 6.2-10.8 4.6-10.9 2.8-10.8 .7-8.1-.7-8.2-2.3-8.1-2.6-5.4-3.4-5.4-4.5-5.4-5.6-5.5-6.8-5.4-8.3-5.4-10.1-5.4-6.1-2.7-15.5-5.4-10.3-2.8-13.2-2.7-17.4-2.7-37.3-4.8-8.7-1.8-3.8-1.5-2-1.3-2.7-4.1-1-2.7-2-10.9-5-59.6-3.8-28.7-2.9-14.3-2.9-11.1-2.9-9.2-5.8-14.2-5.7-10.7-5.8-8.2-5.8-6.1-2.9-2.4-5.8-3.7-5.8-2.3-8.7-1.3-8.7 .8-8.6 2.6-8.7 3.9-8.7 5.1-8.7 6.1-11.5 9.3-11.6 10.6-11.4 11.5-9.9 10.8-10.6 12.9-6.6 8.8-7.3 10.9-6.2 10.8-3.6 8.1-2.5 8.1-.9 5.5 0 8.1 1.3 5.4 2.4 5.4 3.8 5.5 5.5 5.4 3.4 2.7 8.6 5.4 5.3 2.7 12.9 5.4 7.9 2.7 19.5 5.5 17.3 3.6 27.7 4.5 50.4 6.1 9.9 2 6.4 2.7 2.3 2.7 1.1 2.7 1.6 8.2 4.8 53 2.9 21.3 2.9 14.2 2.9 10.5 2.9 8.3 2.9 6.9 5.7 11.1 8.7 12.3 5.8 6.2 5.8 4.8 5.8 3.6 5.2 2.2zM395.3 383l-8.1-4.6-5.8-5.2-2.9-3.2-5.7-8.4-5.8-12.2-2.9-8.8-3.7-17.2-2.1-15.4-4-41.5-1.2-8.2-1.1-2.7-2.4-1.9-5.8-1.5-14.4-2.3-46.3-6.3-21.4-4.2-9.9-2.7-15.2-5.5-10.7-5.4-4.1-2.7-6.3-5.4-2.2-2.7-3.2-5.4-1.6-5.5-.3-5.4 .6-5.4 1.5-5.4 2.1-5.4 4.2-8.2 5.2-8.1 5.8-8.1 6.6-8.1 9.6-10.9 16.8-16.2 8-6.6 8.7-6.2 8.6-4.9 5.8-2.5 8.7-2.2 5.8-.2 5.8 .9 5.8 2.4 5.8 4 5.8 6.2 5.7 8.8 2.9 5.8 2.9 7.2 2.9 9 3.7 16.2 3.1 21.7 4.6 48.7 1.8 10.9 1.3 4.2 .9 1.2 2 1.3 8.7 2 34.4 4.8 15.7 2.7 11.4 2.7 15.3 5.5 10.2 5.4 4.1 2.7 6.5 5.4 7.1 8.1 4.4 8.2 1.7 5.4 .8 8.1-.9 8.1-2.3 8.2-3.6 8.1-4.8 8.1-5.9 8.1-7.3 8.5-8.7 8.4-8.7 6.8-8.7 5.3-5.8 2.7-8.6 2.7-5.8 .8-8.7-.6-5.8-1.7z" fill="#fcdddd" stroke="#fcdddd" stroke-width=".7" fill-rule="evenodd"/>
<path d="M395.9 383.3l5.8 1.7 8.7 .6 5.8-.8 8.6-2.7 5.8-2.7 8.7-5.3 8.7-6.8 8.7-8.4 7.3-8.5 5.9-8.1 4.8-8.1 3.6-8.1 2.3-8.2 .9-8.1-.8-8.1-1.7-5.4-4.4-8.2-7.1-8.1-6.5-5.4-4.1-2.7-10.2-5.4-15.3-5.5-11.4-2.7-15.7-2.7-34.4-4.8-8.7-2-2-1.3-.9-1.2-1.3-4.2-1.8-10.9-4.6-48.7-3.1-21.7-3.7-16.2-2.9-9-2.9-7.2-2.9-5.8-5.7-8.8-5.8-6.2-5.8-4-5.8-2.4-5.8-.9-5.8 .2-8.7 2.2-5.8 2.5-8.6 4.9-8.7 6.2-8 6.6-16.8 16.2-9.6 10.9-6.6 8.1-5.8 8.1-5.2 8.1-4.2 8.2-2.1 5.4-1.5 5.4-.6 5.4 .3 5.4 1.6 5.5 3.2 5.4 2.2 2.7 6.3 5.4 4.1 2.7 10.7 5.4 15.2 5.5 9.9 2.7 21.4 4.2 46.3 6.3 14.4 2.3 5.8 1.5 2.4 1.9 1.1 2.7 1.2 8.2 4 41.5 2.1 15.4 3.7 17.2 2.9 8.8 5.8 12.2 5.7 8.4 2.9 3.2 5.8 5.2 8.1 4.6zM389.5 361.3l-5.2-2.6-2.9-2-5.7-5.5-2.9-3.7-2.9-4.7-2.9-6-3.6-10.7-2.2-9.3-2.2-15.1-3.7-37.9 .4-5.5 .9-2.7 1.7-2.1 2.9-1.4 2.9-.3 5.8 .2 26.9 3.6 15.1 2.7 10.5 2.7 7.7 2.8 10.6 5.4 3.9 2.7 6 5.4 2.3 2.7 3.6 5.4 3.1 8.2 .8 5.4-.2 5.4-1.7 8.1-2.1 5.4-4.2 8.2-3.6 5.4-6.4 7.9-5.4 5.6-6.2 5.5-5.8 4.2-5.7 3.4-5.8 2.7-5.8 1.7-5.8 .8-5.8-.3-5.8-1.4zM336.3 250.2l-44.6-6.2-17.3-3.7-12.3-3.6-12.6-5.5-8.4-5.4-5.3-5.4-1.8-2.7-2.2-5.4-.4-2.7 0-5.5 1-5.4 1.9-5.4 4.1-8.1 3.4-5.4 10.1-13.6 13.8-15.1 14.5-12.8 11.5-7.9 5.8-2.9 5.8-2.1 5.8-1.2 5.8 .1 5.8 1.5 5.8 3.2 5.7 5.5 2.9 3.8 2.9 4.7 2.9 6.1 2.9 7.9 2.9 10.7 2.9 16.3 5.8 55.4 .1 5.4-.7 2.7-2.5 2.7-5.6 1-8.7-.8z" fill="#fcd0d0" stroke="#fcd0d0" stroke-width=".7" fill-rule="evenodd"/>
<path d="M390.1 361.6l5.8 1.4 5.8 .3 5.8-.8 5.8-1.7 5.8-2.7 5.7-3.4 5.8-4.2 6.2-5.5 5.4-5.6 6.4-7.9 3.6-5.4 4.2-8.2 2.1-5.4 1.7-8.1 .2-5.4-.8-5.4-3.1-8.2-3.6-5.4-2.3-2.7-6-5.4-3.9-2.7-10.6-5.4-7.7-2.8-10.5-2.7-15.1-2.7-26.9-3.6-5.8-.2-2.9 .3-2.9 1.4-1.7 2.1-.9 2.7-.4 5.5 3.7 37.9 2.2 15.1 2.2 9.3 3.6 10.7 2.9 6 2.9 4.7 2.9 3.7 5.7 5.5 2.9 2 5.2 2.6zM388.8 347.7l-4.5-1.4-2.9-1.5-5.7-4.6-2.9-3.2-2.9-4.2-2.9-5.6-2.9-7.9-2.9-12.2-1.2-8.1-1.7-13.8-1.4-18.7 .2-2.7 1.2-4.4 2.9-3.6 2.9-1.7 2.9-.6 5.8 0 17 2.1 15 2.7 10.3 2.7 7.2 2.8 9.7 5.4 6.1 5.4 4.1 5.4 1.5 2.7 1.9 5.4 .8 8.2-.6 5.4-1.5 5.4-2.3 5.4-3 5.4-3.8 5.5-4.6 5.5-8.7 8.2-5.7 4.2-5.8 3.3-5.8 2.4-5.8 1.3-5.8 .2-2.9-.4zM338 250.4l8.7 .8 5.6-1 2.5-2.7 .7-2.7-.1-5.4-5.8-55.4-2.9-16.3-2.9-10.7-2.9-7.9-2.9-6.1-2.9-4.7-2.9-3.8-5.7-5.5-5.8-3.2-5.8-1.5-5.8-.1-5.8 1.2-5.8 2.1-5.8 2.9-11.5 7.9-14.5 12.8-13.8 15.1-10.1 13.6-3.4 5.4-4.1 8.1-1.9 5.4-1 5.4 0 5.5 .4 2.7 2.2 5.4 1.8 2.7 5.3 5.4 8.4 5.4 12.6 5.5 12.3 3.6 17.3 3.7 44.6 6.2zM320.6 247.5l-18.8-2.7-13.9-2.7-10.1-2.7-7.8-2.7-6.2-2.8-8.6-5.4-5.2-5.4-2.7-5.4-1-5.4 1.1-8.2 1.9-5.4 2.7-5.4 3.3-5.4 5.8-8.1 10.4-12.1 11.6-11.2 11.5-8.8 5.8-3.4 5.8-2.6 8.7-1.9 5.8 .4 2.9 .8 5.8 3.1 5.7 5.5 2.9 4.1 3.6 7.1 2.2 5.5 2.9 10.2 2.2 11.4 1.8 13.5 3.5 35.3-.2 5.4-.9 2.7-2.4 2.7-4 2-2.9 .4-5.8-.3-17.3-2.1z" fill="#fac3c3" stroke="#fac3c3" stroke-width=".7" fill-rule="evenodd"/>
<path d="M390.1 348.1l2.9 .4 5.8-.2 5.8-1.3 5.8-2.4 5.8-3.3 5.7-4.2 8.7-8.2 4.6-5.5 3.8-5.5 3-5.4 2.3-5.4 1.5-5.4 .6-5.4-.8-8.2-1.9-5.4-1.5-2.7-4.1-5.4-6.1-5.4-9.7-5.4-7.2-2.8-10.3-2.7-15-2.7-17-2.1-5.8 0-2.9 .6-2.9 1.7-2.9 3.6-1.2 4.4-.2 2.7 1.4 18.7 1.7 13.8 1.2 8.1 2.9 12.2 2.9 7.9 2.9 5.6 2.9 4.2 2.9 3.2 5.7 4.6 2.9 1.5 4.5 1.4zM386 336.9l-4.6-1.5-2.9-1.7-5.7-5.2-2.9-3.9-2.9-5.4-3.9-12.1-1.9-9.2-1.6-12.5-1.3-13.5 .1-5.4 .6-2.7 2.2-4.3 2.9-2.7 2.9-1.4 2.9-.5 5.8 0 14.4 2 14.5 3.1 11.1 3.8 5.2 2.7 7 5.4 4.3 5.4 2.6 5.4 .8 2.7 .5 8.2-1.8 8.1-2.2 5.4-3.2 5.4-7 8.9-8.6 7.8-8.7 5.2-8.7 2.8-5.8 .4-2.9-.4zM320.7 247.5l17.3 2.1 5.8 .3 2.9-.4 4-2 2.4-2.7 .9-2.7 .2-5.4-3.5-35.3-1.8-13.5-2.2-11.4-2.9-10.2-2.2-5.5-3.6-7.1-2.9-4.1-5.7-5.5-5.8-3.1-2.9-.8-5.8-.4-8.7 1.9-5.8 2.6-5.8 3.4-11.5 8.8-11.6 11.2-10.4 12.1-5.8 8.1-3.3 5.4-2.7 5.4-1.9 5.4-1.1 8.2 1 5.4 2.7 5.4 5.2 5.4 8.6 5.4 6.2 2.8 7.8 2.7 10.1 2.7 13.9 2.7 18.8 2.7zM325.3 247.5l-18.5-2.7-13.6-2.7-9.6-2.7-7.2-2.7-5.5-2.8-4.3-2.7-5.6-5.4-2.9-5.4-.8-5.4 1.3-8.1 2.1-5.5 3-5.4 7.5-10.8 9-10.2 11.5-10.8 8.7-6.3 8.7-4.5 5.8-1.7 2.9-.4 5.8 .3 5.8 2.2 5.7 4.7 2.9 3.6 2.9 4.9 2.9 6.8 3.7 14.1 2.1 12.1 3.2 28.5 .3 10.9-.7 2.7-2.8 3.8-2.9 1.8-2.9 .9-2.9 .3-14.4-1.3z" fill="#f9b5b4" stroke="#f9b5b4" stroke-width=".7" fill-rule="evenodd"/>
<path d="M387.2 337.2l2.9 .4 5.8-.4 8.7-2.8 8.7-5.2 8.6-7.8 7-8.9 3.2-5.4 2.2-5.4 1.8-8.1-.5-8.2-.8-2.7-2.6-5.4-4.3-5.4-7-5.4-5.2-2.7-11.1-3.8-14.5-3.1-14.4-2-5.8 0-2.9 .5-2.9 1.4-2.9 2.7-2.2 4.3-.6 2.7-.1 5.4 1.3 13.5 1.6 12.5 1.9 9.2 3.9 12.1 2.9 5.4 2.9 3.9 5.7 5.2 2.9 1.7 4.6 1.5zM386.9 328.8l-5.5-1.3-2.9-1.4-2.8-2-2.9-2.7-2.9-3.9-2.9-5.5-2.9-8.6-2.9-15.3-1.2-10.8-.2-8.1 1.3-5.4 1.7-2.8 3-2.7 4.1-1.6 2.9-.4 5.7 .2 12.9 1.8 11.1 2.7 7.3 2.8 5.1 2.7 6.6 5.4 3.8 5.4 2.1 5.4 .7 5.4-1.2 8.2-3.5 8.1-5.6 8.1-7.4 7.4-8.7 5.7-5.8 2.3-2.9 .7-5.8 .2zM326.5 247.6l14.4 1.3 2.9-.3 2.9-.9 2.9-1.8 2.8-3.8 .7-2.7-.3-10.9-3.2-28.5-2.1-12.1-3.7-14.1-2.9-6.8-2.9-4.9-2.9-3.6-5.7-4.7-5.8-2.2-5.8-.3-2.9 .4-5.8 1.7-8.7 4.5-8.7 6.3-11.5 10.8-9 10.2-7.5 10.8-3 5.4-2.1 5.5-1.3 8.1 .8 5.4 2.9 5.4 5.6 5.4 4.3 2.7 5.5 2.8 7.2 2.7 9.6 2.7 13.6 2.7 18.5 2.7zM330.5 247.5l-19-2.7-13.5-2.7-9.4-2.7-6.8-2.7-5.1-2.8-3.8-2.7-2.8-2.7-1.9-2.7-2.1-5.4-.3-2.7 .5-5.4 3-8.2 5.1-8.5 8.2-10.4 9.1-9.3 8.7-7.1 8.7-5.3 8.7-3 5.8-.3 5.8 1.5 5.7 4.1 2.9 3.3 2.9 4.6 2.9 6.6 2.9 10 2 11.1 3.5 29.8 .1 5.5-.5 2.7-1.1 2.7-2.3 2.7-4.6 2.6-5.8 .6-5.8-.3z" fill="#f8a6a5" stroke="#f8a6a5" stroke-width=".7" fill-rule="evenodd"/>
<path d="M387.2 328.8l5.8-.2 2.9-.7 5.8-2.3 8.7-5.7 7.4-7.4 5.6-8.1 3.5-8.1 1.2-8.2-.7-5.4-2.1-5.4-3.8-5.4-6.6-5.4-5.1-2.7-7.3-2.8-11.1-2.7-12.9-1.8-5.7-.2-2.9 .4-4.1 1.6-3 2.7-1.7 2.8-1.3 5.4 .2 8.1 1.2 10.8 2.9 15.3 2.9 8.6 2.9 5.5 2.9 3.9 2.9 2.7 2.8 2 2.9 1.4 5.5 1.3zM381.3 320.6l-5.6-3-2.9-2.7-2.9-3.9-2.9-5.8-2-6.2-2.7-13.6-1.1-10.8 .3-5.4 .7-2.7 1.3-2.7 2.4-2.8 4-2.4 2.9-.7 8.6 .2 8.7 1.5 8.7 2.2 8.7 3.7 5.6 3.7 2.7 2.7 3.5 5.4 1.7 5.4 .3 2.7-.5 5.4-2.8 8.2-4.7 7.3-5.8 6.2-7.6 5.4-6.9 2.9-5.8 .8-5.8-.9zM332.2 247.7l5.8 .3 5.8-.6 4.6-2.6 2.3-2.7 1.1-2.7 .5-2.7-.1-5.5-3.5-29.8-2-11.1-2.9-10-2.9-6.6-2.9-4.6-2.9-3.3-5.7-4.1-5.8-1.5-5.8 .3-8.7 3-8.7 5.3-8.7 7.1-9.1 9.3-8.2 10.4-5.1 8.5-3 8.2-.5 5.4 .3 2.7 2.1 5.4 1.9 2.7 2.8 2.7 3.8 2.7 5.1 2.8 6.8 2.7 9.4 2.7 13.5 2.7 19 2.7zM316 244.8l-13.6-2.7-9.3-2.7-6.5-2.7-4.8-2.8-3.4-2.7-2.5-2.7-1.6-2.7-1.6-5.4 .4-5.4 2.9-8.1 4.8-8.2 8-9.9 8.7-8.5 7.6-6 6.9-4 5.8-2.1 2.9-.6 5.8 .1 5.7 2.1 2.9 2.2 2.9 3.1 2.9 4.4 2.9 6.6 2.9 10.2 2.7 16 1.8 16.2 0 8.2-.7 2.7-1.5 2.7-2.9 2.7-2.3 1.3-2.9 .8-8.7 .1-14.4-1.9z" fill="#f69896" stroke="#f69896" stroke-width=".7" fill-rule="evenodd"/>
<path d="M381.4 320.7l5.8 .9 5.8-.8 6.9-2.9 7.6-5.4 5.8-6.2 4.7-7.3 2.8-8.2 .5-5.4-.3-2.7-1.7-5.4-3.5-5.4-2.7-2.7-5.6-3.7-8.7-3.7-8.7-2.2-8.7-1.5-8.6-.2-2.9 .7-4 2.4-2.4 2.8-1.3 2.7-.7 2.7-.3 5.4 1.1 10.8 2.7 13.6 2 6.2 2.9 5.8 2.9 3.9 2.9 2.7 5.6 3zM377 312.5l-4.2-3.6-2.9-4.1-3.5-8.5-2.3-9.8-1-9.2 0-5.4 1.4-5.4 2.5-3.4 2.9-2.2 2.9-1 5.7-.4 11.6 1.7 8.3 2.6 5.6 2.7 3.9 2.7 2.7 2.7 2 2.7 2.2 5.4 .4 2.7-.2 5.4-2.8 8.2-3.5 5.4-4.1 4.6-4.2 3.5-4.5 2.8-5.8 2.1-2.9 .4-5.8-.5-2.9-1.1zM317.8 245.1l14.4 1.9 8.7-.1 2.9-.8 2.3-1.3 2.9-2.7 1.5-2.7 .7-2.7 0-8.2-1.8-16.2-2.7-16-2.9-10.2-2.9-6.6-2.9-4.4-2.9-3.1-2.9-2.2-5.7-2.1-5.8-.1-2.9 .6-5.8 2.1-6.9 4-7.6 6-8.7 8.5-8 9.9-4.8 8.2-2.9 8.1-.4 5.4 1.6 5.4 1.6 2.7 2.5 2.7 3.4 2.7 4.8 2.8 6.5 2.7 9.3 2.7 13.6 2.7zM320.5 244.8l-14-2.7-9.2-2.7-6.4-2.7-4.5-2.8-3.2-2.7-2.2-2.7-1.4-2.7-.8-2.7-.1-5.4 1.5-5.4 4.2-8.2 6-8.1 7.6-8.1 8.2-6.9 6.4-4 8.1-3 5.8-.3 5.7 1.8 2.9 1.9 2.9 3 2.9 4.4 2.9 6.6 2.9 10.6 1.3 7.6 1.9 13.5 .6 10.8-.9 4.5-2.3 3.7-3.5 2.7-2.9 1-2.9 .5-5.8-.1-11.5-1.4z" fill="#f48987" stroke="#f48987" stroke-width=".7" fill-rule="evenodd"/>
<path d="M378.5 313.5l2.9 1.1 5.8 .5 2.9-.4 5.8-2.1 4.5-2.8 4.2-3.5 4.1-4.6 3.5-5.4 2.8-8.2 .2-5.4-.4-2.7-2.2-5.4-2-2.7-2.7-2.7-3.9-2.7-5.6-2.7-8.3-2.6-11.6-1.7-5.7 .4-2.9 1-2.9 2.2-2.5 3.4-1.4 5.4 0 5.4 1 9.2 2.3 9.8 3.5 8.5 2.9 4.1 4.2 3.6zM377.4 307.1l-1.7-1.1-3.9-4.3-1.9-3.2-2.9-7.9-1.6-7.9-.5-8.1 1-5.4 1.1-2.4 2.9-3 2.9-1.5 5.7-1 5.8 .6 5.8 1.3 8.5 3.3 4.1 2.7 2.8 2.7 3.3 5.4 .7 2.7 .2 5.4-.5 2.7-2.1 5.5-2.5 3.9-3.6 4.2-3.2 2.7-4.8 2.9-5.8 1.8-2.9 .1-2.9-.4-2.9-1zM320.7 244.8l11.5 1.4 5.8 .1 2.9-.5 2.9-1 3.5-2.7 2.3-3.7 .9-4.5-.6-10.8-1.9-13.5-1.3-7.6-2.9-10.6-2.9-6.6-2.9-4.4-2.9-3-2.9-1.9-5.7-1.8-5.8 .3-8.1 3-6.4 4-8.2 6.9-7.6 8.1-6 8.1-4.2 8.2-1.5 5.4 .1 5.4 .8 2.7 1.4 2.7 2.2 2.7 3.2 2.7 4.5 2.8 6.4 2.7 9.2 2.7 14 2.7zM325.4 244.8l-14.8-2.7-9.4-2.7-6.3-2.7-4.4-2.8-3-2.7-2-2.7-1.2-2.7-.6-5.4 1.1-5.4 4-8.1 5.8-8 5.8-6.2 8.7-7.2 5.8-3.5 5.8-2.3 5.8-.6 5.7 1.4 2.9 1.9 2.9 2.9 3.4 5.3 2.4 5.8 2.9 11.3 2.3 15.4 .7 8.1-.7 5.5-1.2 2.7-4 3.9-2.9 1.5-2.9 .6-5.8 .1-5.7-.6z" fill="#f37a78" stroke="#f37a78" stroke-width=".7" fill-rule="evenodd"/>
<path d="M378.5 307.8l2.9 1 2.9 .4 2.9-.1 5.8-1.8 4.8-2.9 3.2-2.7 3.6-4.2 2.5-3.9 2.1-5.5 .5-2.7-.2-5.4-.7-2.7-3.3-5.4-2.8-2.7-4.1-2.7-8.5-3.3-5.8-1.3-5.8-.6-5.7 1-2.9 1.5-2.9 3-1.1 2.4-1 5.4 .5 8.1 1.6 7.9 2.9 7.9 1.9 3.2 3.9 4.3 1.7 1.1zM377.7 301.7l-2-1.4-2.9-3.3-2.9-5.6-2.3-8.7-.4-8.1 1.6-5.4 2.2-2.7 4.7-2.5 5.7-.3 8.7 1.9 7.2 3.6 3.1 2.7 2.1 2.7 1.2 2.7 .9 5.4-.3 2.7-2 5.4-3.5 5.2-3.1 3-4.3 2.7-4.2 1.5-2.9 .3-2.9-.2-2.9-1.1zM326.5 244.9l5.7 .6 5.8-.1 2.9-.6 2.9-1.5 4-3.9 1.2-2.7 .7-5.5-.7-8.1-2.3-15.4-2.9-11.3-2.4-5.8-3.4-5.3-2.9-2.9-2.9-1.9-5.7-1.4-5.8 .6-5.8 2.3-5.8 3.5-8.7 7.2-5.8 6.2-5.8 8-4 8.1-1.1 5.4 .6 5.4 1.2 2.7 2 2.7 3 2.7 4.4 2.8 6.3 2.7 9.4 2.7 14.8 2.7zM314.7 242.1l-9.7-2.7-6.4-2.7-4.3-2.8-2.8-2.7-1.9-2.7-1-2.7-.4-2.7 .7-5.4 2.1-5.4 3.6-6 5.8-7.1 6.1-5.9 5.5-4.1 5.8-3.3 5.8-1.8 5.8 .1 2.8 .9 2.9 1.8 2.9 2.9 2.9 4.4 1.9 4.5 1.8 5.4 2.4 10.9 1.4 10.8 0 8.1-1.7 4.9-2.9 3.1-2.9 1.6-2.9 .9-2.9 .3-5.7-.2-14.5-2.4z" fill="#f16f6b" stroke="#f16f6b" stroke-width=".7" fill-rule="evenodd"/>
<path d="M378.5 302.2l2.9 1.1 2.9 .2 2.9-.3 4.2-1.5 4.3-2.7 3.1-3 3.5-5.2 2-5.4 .3-2.7-.9-5.4-1.2-2.7-2.1-2.7-3.1-2.7-7.2-3.6-8.7-1.9-5.7 .3-4.7 2.5-2.2 2.7-1.6 5.4 .4 8.1 2.3 8.7 2.9 5.6 2.9 3.3 2 1.4zM378.3 296.3l-3.1-2.7-3.2-5.5-2-8.1 .1-5.4 1-2.7 1.7-2.6 2.9-1.9 2.8-.8 5.8 .3 6.6 2.3 3.9 2.7 2.3 2.7 1.4 2.7 .6 2.7-.3 4.6-1.3 3.5-1.6 2.7-2.9 3.1-2.9 2-2.9 1.3-2.9 .5-2.9-.2-2.9-1.1zM314.9 242.1l14.5 2.4 5.7 .2 2.9-.3 2.9-.9 2.9-1.6 2.9-3.1 1.7-4.9 0-8.1-1.4-10.8-2.4-10.9-1.8-5.4-1.9-4.5-2.9-4.4-2.9-2.9-2.9-1.8-2.8-.9-5.8-.1-5.8 1.8-5.8 3.3-5.5 4.1-6.1 5.9-5.8 7.1-3.6 6-2.1 5.4-.7 5.4 .4 2.7 1 2.7 1.9 2.7 2.8 2.7 4.3 2.8 6.4 2.7 9.7 2.7zM319 242.1l-10.3-2.7-6.5-2.7-4.3-2.8-2.7-2.7-1.7-2.7-.9-2.7 0-5.4 1.7-5.4 3.2-5.6 5.8-7.3 5.8-5.5 5.8-4.2 5.8-2.8 5.8-1.2 2.9 .2 2.8 .8 2.9 1.7 2.9 2.9 2.9 4.7 1.2 2.7 1.9 5.5 2.7 12.7 .9 8.9-.3 5.4-.8 2.8-2.7 3.6-2.9 2-2.9 1-5.8 .5-11.5-1.4z" fill="#ef6662" stroke="#ef6662" stroke-width=".7" fill-rule="evenodd"/>
<path d="M378.5 296.4l2.9 1.1 2.9 .2 2.9-.5 2.9-1.3 2.9-2 2.9-3.1 1.6-2.7 1.3-3.5 .3-4.6-.6-2.7-1.4-2.7-2.3-2.7-3.9-2.7-6.6-2.3-5.8-.3-2.8 .8-2.9 1.9-1.7 2.6-1 2.7-.1 5.4 2 8.1 3.2 5.5 3.1 2.7zM381.3 290.8l-2.8-1.4-2.8-3.4-1.2-3.3-.5-5.4 .7-2.7 1-1.6 2.8-1.9 2.9-.5 5.6 1.3 3.1 2.2 2.3 3.2 .7 2.7-.2 2.7-1 2.7-2 2.7-2.7 2-2.1 .7-3.7 .1zM320.7 242.4l11.5 1.4 5.8-.5 2.9-1 2.9-2 2.7-3.6 .8-2.8 .3-5.4-.9-8.9-2.7-12.7-1.9-5.5-1.2-2.7-2.9-4.7-2.9-2.9-2.9-1.7-2.8-.8-2.9-.2-5.8 1.2-5.8 2.8-5.8 4.2-5.8 5.5-5.8 7.3-3.2 5.6-1.7 5.4 0 5.4 .9 2.7 1.7 2.7 2.7 2.7 4.3 2.8 6.5 2.7 10.3 2.7zM323.8 242.1l-11.3-2.7-6.8-2.7-4.3-2.8-2.7-2.7-1.6-2.7-.8-2.7-.1-2.7 1.2-5.4 2.8-5.4 3.9-5.4 5-5.2 5.8-4.6 5.8-3.1 5.8-1.4 2.9 .1 2.8 .8 2.9 1.7 2.9 3 2.9 4.9 2.9 8.2 1.4 6.4 1.3 8.1 .1 5.4-1.6 5.5-2.1 2.7-2 1.5-2.9 1.3-2.9 .6-8.6-.4z" fill="#ed5e58" stroke="#ed5e58" stroke-width=".7" fill-rule="evenodd"/>
<path d="M381.4 290.9l3.7-.1 2.1-.7 2.7-2 2-2.7 1-2.7 .2-2.7-.7-2.7-2.3-3.2-3.1-2.2-5.6-1.3-2.9 .5-2.8 1.9-1 1.6-.7 2.7 .5 5.4 1.2 3.3 2.8 3.4 2.8 1.4zM326.5 242.4l8.6 .4 2.9-.6 2.9-1.3 2-1.5 2.1-2.7 1.6-5.5-.1-5.4-1.3-8.1-1.4-6.4-2.9-8.2-2.9-4.9-2.9-3-2.9-1.7-2.8-.8-2.9-.1-5.8 1.4-5.8 3.1-5.8 4.6-5 5.2-3.9 5.4-2.8 5.4-1.2 5.4 .1 2.7 .8 2.7 1.6 2.7 2.7 2.7 4.3 2.8 6.8 2.7 11.3 2.7zM316.5 239.4l-7.2-2.7-4.4-2.8-2.7-2.7-1.6-2.7-.7-2.7 0-2.7 1.5-5.4 3.1-5.4 4.4-5.4 3.1-3 5.8-4.2 5.8-2.6 2.9-.5 2.9 0 2.8 .8 2.9 1.8 2.9 3.1 3.6 7.3 2.2 7.2 1.1 6.3 .5 5.4-.7 5.4-1.2 2.8-2.5 2.7-3 1.5-2.9 .8-5.7 .1-11.6-2.1z" fill="#eb554e" stroke="#eb554e" stroke-width=".7" fill-rule="evenodd"/>
<path d="M317.8 239.7l11.6 2.1 5.7-.1 2.9-.8 3-1.5 2.5-2.7 1.2-2.8 .7-5.4-.5-5.4-1.1-6.3-2.2-7.2-3.6-7.3-2.9-3.1-2.9-1.8-2.8-.8-2.9 0-2.9 .5-5.8 2.6-5.8 4.2-3.1 3-4.4 5.4-3.1 5.4-1.5 5.4 0 2.7 .7 2.7 1.6 2.7 2.7 2.7 4.4 2.8 7.2 2.7zM320.9 239.4l-7.9-2.7-4.7-2.8-2.7-2.7-1.6-2.7-.6-2.7 .1-2.7 .7-2.7 2.6-5.4 2.3-3.2 4.8-4.9 6.8-4.7 5.8-1.8 2.9 .1 2.8 .8 2.9 1.8 2.9 3.3 1.7 3.2 2.1 5.4 1.9 8.1 .3 8.1-.7 2.7-1.6 2.8-3.7 2.9-5.8 1.1-8.6-.8z" fill="#e94c45" stroke="#e94c45" stroke-width=".7" fill-rule="evenodd"/>
<path d="M323.6 239.9l8.6 .8 5.8-1.1 3.7-2.9 1.6-2.8 .7-2.7-.3-8.1-1.9-8.1-2.1-5.4-1.7-3.2-2.9-3.3-2.9-1.8-2.8-.8-2.9-.1-5.8 1.8-6.8 4.7-4.8 4.9-2.3 3.2-2.6 5.4-.7 2.7-.1 2.7 .6 2.7 1.6 2.7 2.7 2.7 4.7 2.8 7.9 2.7zM327.4 239.4l-10.5-2.7-5-2.8-2.9-2.7-1.5-2.7-.6-2.7 .2-2.7 2.1-5.4 2.8-4.1 2.9-3.1 4.8-3.6 3.9-1.9 2.9-.7 2.9 0 2.8 .8 2.9 2 2.9 3.7 3 6.9 1.2 5.4 .5 5.4-1.2 5.4-2 2.8-4.4 2.4-5.7 .4z" fill="#e7463d" stroke="#e7463d" stroke-width=".7" fill-rule="evenodd"/>
<path d="M329.4 239.5l5.7-.4 4.4-2.4 2-2.8 1.2-5.4-.5-5.4-1.2-5.4-3-6.9-2.9-3.7-2.9-2-2.8-.8-2.9 0-2.9 .7-3.9 1.9-4.8 3.6-2.9 3.1-2.8 4.1-2.1 5.4-.2 2.7 .6 2.7 1.5 2.7 2.9 2.7 5 2.8 10.5 2.7zM321.6 236.7l-5.9-2.8-3.1-2.7-1.6-2.7-.5-2.7 .3-2.7 2.4-5.4 4.6-5.1 5.8-3.6 2.9-.8 2.9 0 2.8 .9 2.9 2.2 2.9 4.3 1.8 4.8 1.1 5-.2 5.8-1.3 2.7-1.4 1.7-2.9 1.7-5.7 .7-5.8-.8z" fill="#e64137" stroke="#e64137" stroke-width=".7" fill-rule="evenodd"/>
<path d="M323.6 237.2l5.8 .8 5.7-.7 2.9-1.7 1.4-1.7 1.3-2.7 .2-5.8-1.1-5-1.8-4.8-2.9-4.3-2.9-2.2-2.8-.9-2.9 0-2.9 .8-5.8 3.6-4.6 5.1-2.4 5.4-.3 2.7 .5 2.7 1.6 2.7 3.1 2.7 5.9 2.8zM320.2 233.9l-3.6-2.7-1.8-2.7-.5-2.7 .4-2.7 1.2-2.7 1.9-2.7 2.9-2.7 2.9-1.7 2.9-1 2.9 0 2.8 1.1 2.9 2.6 2.9 5.8 .9 6.7-.9 3.5-1.4 1.9-1.5 1.1-2.9 1.1-2.8 .2-2.9-.3-5.8-1.9z" fill="#e43d32" stroke="#e43d32" stroke-width=".7" fill-rule="evenodd"/>
<path d="M320.7 234.1l5.8 1.9 2.9 .3 2.8-.2 2.9-1.1 1.5-1.1 1.4-1.9 .9-3.5-.9-6.7-2.9-5.8-2.9-2.6-2.8-1.1-2.9 0-2.9 1-2.9 1.7-2.9 2.7-1.9 2.7-1.2 2.7-.4 2.7 .5 2.7 1.8 2.7 3.6 2.7zM329.1 233.9l-2.6-.4-5-2.3-2.2-2.7-.5-2.7 .6-2.7 1.7-2.7 2.5-2.1 2.9-1.2 2.9-.1 2.8 1.4 2.9 3.9 .9 3.5 0 2.7-.9 2.8-2.9 2.1-2.8 .6z" fill="#e2392c" stroke="#e2392c" stroke-width=".7" fill-rule="evenodd"/>
<path d="M329.4 234l2.8-.6 2.9-2.1 .9-2.8 0-2.7-.9-3.5-2.9-3.9-2.8-1.4-2.9 .1-2.9 1.2-2.5 2.1-1.7 2.7-.6 2.7 .5 2.7 2.2 2.7 5 2.3 2.6 .4zM328.9 228.5l-2.4-1.7 0-1.4 2.9-.5 .6 .9-.6 2.8z" fill="#e13426" stroke="#e13426" stroke-width=".7" fill-rule="evenodd"/>
<path d="M329.4 228.6l.6-2.8-.6-.9-2.9 .5 0 1.4 2.4 1.7z" fill="#b92620" stroke="#b92620" stroke-width=".7" fill-rule="evenodd"/>
</g>
<polygon points="397.5,46 585,46 585,201" fill="#fff"/>
<polygon points="120,373 120,481.5 251.5,481.5" fill="#fff"/>
<rect x="121" y="47" width="463" height="433.5" fill="none" stroke="#000" stroke-width="2.2"/>
<line x1="121" y1="480.5" x2="121" y2="471.5" stroke="#000" stroke-width="2"/>
<line x1="236.75" y1="480.5" x2="236.75" y2="471.5" stroke="#000" stroke-width="2"/>
<line x1="352.5" y1="480.5" x2="352.5" y2="471.5" stroke="#000" stroke-width="2"/>
<line x1="468.25" y1="480.5" x2="468.25" y2="471.5" stroke="#000" stroke-width="2"/>
<line x1="584" y1="480.5" x2="584" y2="471.5" stroke="#000" stroke-width="2"/>
<line x1="178.88" y1="480.5" x2="178.88" y2="476" stroke="#000" stroke-width="2"/>
<line x1="294.62" y1="480.5" x2="294.62" y2="476" stroke="#000" stroke-width="2"/>
<line x1="410.38" y1="480.5" x2="410.38" y2="476" stroke="#000" stroke-width="2"/>
<line x1="526.12" y1="480.5" x2="526.12" y2="476" stroke="#000" stroke-width="2"/>
<line x1="121" y1="47" x2="130" y2="47" stroke="#000" stroke-width="2"/>
<line x1="121" y1="155.38" x2="130" y2="155.38" stroke="#000" stroke-width="2"/>
<line x1="121" y1="263.75" x2="130" y2="263.75" stroke="#000" stroke-width="2"/>
<line x1="121" y1="372.12" x2="130" y2="372.12" stroke="#000" stroke-width="2"/>
<line x1="121" y1="480.5" x2="130" y2="480.5" stroke="#000" stroke-width="2"/>
<line x1="121" y1="101.19" x2="125.5" y2="101.19" stroke="#000" stroke-width="2"/>
<line x1="121" y1="209.56" x2="125.5" y2="209.56" stroke="#000" stroke-width="2"/>
<line x1="121" y1="317.94" x2="125.5" y2="317.94" stroke="#000" stroke-width="2"/>
<line x1="121" y1="426.31" x2="125.5" y2="426.31" stroke="#000" stroke-width="2"/>
<text x="121" y="513.5" font-size="31" text-anchor="middle">-4</text>
<text x="236.75" y="513.5" font-size="31" text-anchor="middle">-2</text>
<text x="352.5" y="513.5" font-size="31" text-anchor="middle">0</text>
<text x="468.25" y="513.5" font-size="31" text-anchor="middle">2</text>
<text x="584" y="513.5" font-size="31" text-anchor="middle">4</text>
<text x="104.5" y="57.8" font-size="31" text-anchor="end">4</text>
<text x="104.5" y="166.18" font-size="31" text-anchor="end">2</text>
<text x="104.5" y="274.55" font-size="31" text-anchor="end">0</text>
<text x="104.5" y="382.93" font-size="31" text-anchor="end">-2</text>
<text x="104.5" y="491.3" font-size="31" text-anchor="end">-4</text>
<text x="252.5" y="554.8" font-size="31" font-style="italic">n</text>
<text x="269.5" y="560" font-size="18">T</text>
<text x="290" y="554.8" font-size="31">(</text>
<use href="#g1" transform="translate(300.32 554.8) scale(0.01514 -0.01514)"/>
<text x="317.56" y="554.8" font-size="31">0</text>
<use href="#g1" transform="translate(333 545) scale(0.00879 -0.00879)"/>
<text x="343.01" y="545" font-size="18">2</text>
<text x="361" y="554.8" font-size="31">cm</text>
<text x="402" y="545" font-size="18">-2</text>
<text x="420" y="554.8" font-size="31">)</text>
<g transform="translate(60.8 352) rotate(-90)">
<text x="0" y="0" font-size="31" font-style="italic">n</text>
<text x="16.5" y="5.5" font-size="18">B</text>
<text x="37" y="0" font-size="31">(</text>
<use href="#g1" transform="translate(47.32 0) scale(0.01514 -0.01514)"/>
<text x="64.56" y="0" font-size="31">0</text>
<use href="#g1" transform="translate(80 -10) scale(0.00879 -0.00879)"/>
<text x="90.01" y="-10" font-size="18">2</text>
<text x="108" y="0" font-size="31">cm</text>
<text x="149" y="-10" font-size="18">-2</text>
<text x="167" y="0" font-size="31">)</text>
</g>
<text x="172.5" y="207" font-size="38">e-h</text>
<text x="478" y="207" font-size="38">h-h</text>
<text x="172.5" y="342.5" font-size="38">e-e</text>
<text x="478" y="342.5" font-size="38">h-e</text>
<ellipse cx="288" cy="318.3" rx="6.8" ry="6.4" fill="#464244"/>
<ellipse cx="266" cy="345.2" rx="6.8" ry="6.4" fill="#e2464a"/>
<ellipse cx="242.6" cy="371" rx="6.8" ry="6.4" fill="#3d6db5"/>
<ellipse cx="213.3" cy="401.6" rx="6.8" ry="6.4" fill="#53ae6e"/>
<use href="#g1" transform="translate(297.16 355.5) scale(0.01465 -0.01465)" fill="#464244"/>
<text x="283" y="384" font-size="30" text-anchor="middle" fill="#e2464a">2</text>
<text x="254.5" y="415" font-size="30" text-anchor="middle" fill="#3d6db5">3</text>
<text x="226" y="441.5" font-size="30" text-anchor="middle" fill="#53ae6e">4</text>
<line x1="337.3" y1="351" x2="251.07" y2="452.93" stroke="#e0301e" stroke-width="4"/>
<polyline points="257.91,434.56 249.78,454.46 268.06,443.14" fill="none" stroke="#e0301e" stroke-width="4" stroke-linejoin="miter" stroke-miterlimit="10"/>
<defs><linearGradient id="cbg" x1="0" y1="0" x2="0" y2="1">
<stop offset="0.0000" stop-color="#e03223"/>
<stop offset="0.0208" stop-color="#e13628"/>
<stop offset="0.0417" stop-color="#e3392d"/>
<stop offset="0.0625" stop-color="#e43d32"/>
<stop offset="0.0833" stop-color="#e54136"/>
<stop offset="0.1042" stop-color="#e7443b"/>
<stop offset="0.1250" stop-color="#e84840"/>
<stop offset="0.1458" stop-color="#ea4f48"/>
<stop offset="0.1667" stop-color="#eb5650"/>
<stop offset="0.1875" stop-color="#ed5e58"/>
<stop offset="0.2083" stop-color="#ef6560"/>
<stop offset="0.2292" stop-color="#f06c68"/>
<stop offset="0.2500" stop-color="#f27370"/>
<stop offset="0.2708" stop-color="#f37f7d"/>
<stop offset="0.2917" stop-color="#f58b89"/>
<stop offset="0.3125" stop-color="#f69896"/>
<stop offset="0.3333" stop-color="#f7a4a3"/>
<stop offset="0.3542" stop-color="#f9b0af"/>
<stop offset="0.3750" stop-color="#fabcbc"/>
<stop offset="0.3958" stop-color="#fbc7c7"/>
<stop offset="0.4167" stop-color="#fcd2d2"/>
<stop offset="0.4375" stop-color="#fcdddd"/>
<stop offset="0.4583" stop-color="#fde8e8"/>
<stop offset="0.4792" stop-color="#fef4f4"/>
<stop offset="0.5000" stop-color="#ffffff"/>
<stop offset="0.5208" stop-color="#f5f5fc"/>
<stop offset="0.5417" stop-color="#ececf8"/>
<stop offset="0.5625" stop-color="#e2e2f5"/>
<stop offset="0.5833" stop-color="#d8d9f1"/>
<stop offset="0.6042" stop-color="#cecfee"/>
<stop offset="0.6250" stop-color="#c4c6ea"/>
<stop offset="0.6458" stop-color="#b6b9e3"/>
<stop offset="0.6667" stop-color="#a8addd"/>
<stop offset="0.6875" stop-color="#9aa0d6"/>
<stop offset="0.7083" stop-color="#8c93cf"/>
<stop offset="0.7292" stop-color="#7e87c9"/>
<stop offset="0.7500" stop-color="#707ac2"/>
<stop offset="0.7708" stop-color="#6975bf"/>
<stop offset="0.7917" stop-color="#626fbc"/>
<stop offset="0.8125" stop-color="#5b6ab8"/>
<stop offset="0.8333" stop-color="#5465b5"/>
<stop offset="0.8542" stop-color="#4d5fb2"/>
<stop offset="0.8750" stop-color="#465aaf"/>
<stop offset="0.8958" stop-color="#4358ae"/>
<stop offset="0.9167" stop-color="#4057ad"/>
<stop offset="0.9375" stop-color="#3d55ac"/>
<stop offset="0.9583" stop-color="#3a53aa"/>
<stop offset="0.9792" stop-color="#3752a9"/>
<stop offset="1.0000" stop-color="#3450a8"/>
</linearGradient></defs>
<rect x="617" y="47" width="23" height="433.5" fill="url(#cbg)"/>
<rect x="617" y="47" width="23" height="5.5" fill="#b9261f"/>
<rect x="617" y="475.5" width="23" height="5" fill="#30389b"/>
<rect x="617" y="47" width="23" height="433.5" fill="none" stroke="#000" stroke-width="2.2"/>
<line x1="640" y1="52.6" x2="630.5" y2="52.6" stroke="#000" stroke-width="2"/>
<line x1="640" y1="263.75" x2="630.5" y2="263.75" stroke="#000" stroke-width="2"/>
<line x1="640" y1="475.6" x2="630.5" y2="475.6" stroke="#000" stroke-width="2"/>
<use href="#g1" transform="translate(644.3 63.5) scale(0.01465 -0.01465)"/>
<text x="660.98" y="63.5" font-size="30">2</text>
<text x="645.5" y="274.5" font-size="30">0</text>
<text x="644.8" y="486.5" font-size="30">-</text>
<use href="#g1" transform="translate(654.79 486.5) scale(0.01465 -0.01465)"/>
<text x="671.47" y="486.5" font-size="30">2</text>
<text x="590" y="23.2" font-size="31" font-style="italic">R</text>
<text x="611" y="29" font-size="18">drag</text>
<text x="656" y="23.2" font-size="30.5">(Ω)</text>
<text x="-2" y="84.3" font-size="52" font-weight="bold">a</text>
<line x1="820.3" y1="454.88" x2="1341.2" y2="454.88" stroke="#000" stroke-width="2.1" stroke-dasharray="10.3 9.7" stroke-dashoffset="12.2"/>
<path d="M820.3 384.5l0.7 0.4 0.6 0 0.7 0.2 0.6 0.4 0.7 0.1 0.6-0.1 0.7 0.3 0.6 0.2 0.7 0.1 0.6 0.3 0.7 0.3 0.6 0.3 0.7 0.1 0.6 0.2 0.7 0.2 0.6 0.2 0.7 0.2 0.6 0.2 0.7 0.3 0.6-0.1 0.7-0.1 0.6 0.6 0.7 0.4 0.6 0.2 0.7 0.4 0.6 0.3 0.7-0.3 0.6-0.4 0.7 0.3 0.6 0.2 0.7-0.1 0.6 0.1 0.7 0.4 0.6 0.1 0.7 0.3 0.6 0.5 0.7 0.2 0.6 0.5 0.7 0.2 0.6-0.1 0.7 0.4 0.6 0.2 0.7-0.1 0.6 0.1 0.7 0.2 0.7 0 0.6 0 0.7 0.1 0.6 0.3 0.7 0 0.6 0.3 0.7 0.2 0.6 0.4 0.7-0.1 0.6 0.3 0.7 0.3 0.6 0.3 0.7 0 0.6 0.3 0.7 0.3 0.6 0.1 0.7 0.1 0.6 0.2 0.7 0.2 0.6-0.1 0.7 0.3 0.6 0.1 0.7-0.1 0.6 0.3 0.7 0.4 0.6-0.2 0.7 0.1 0.6 0.2 0.7 0.2 0.6 0.3 0.7 0.3 0.6 0.2 0.7 0.2 0.6 0.1 0.7 0.2 0.6 0.3 0.7-0.1 0.6 0.2 0.7 0.3 0.6-0.1 0.7-0.1 0.6 0.2 0.7 0.2 0.7 0 0.6 0.2 0.7 0.2 0.6 0.1 0.7 0.6 0.6 0.2 0.7 0.2 0.6 0.3 0.7 0.3 0.6-0.1 0.7 0 0.6 0.2 0.7-0.2 0.6 0 0.7 0 0.6 0.4 0.7 0.4 0.6 0 0.7 0.4 0.6 0.3 0.7 0 0.6-0.1 0.7 0.3 0.6 0.1 0.7 0.1 0.6 0.3 0.7 0 0.6 0.4 0.7 0.1 0.6-0.1 0.7 0.3 0.6 0.6 0.7-0.1 0.6-0.2 0.7 0.6 0.6 0.1 0.7-0.3 0.6 0.3 0.7 0.6 0.6 0.1 0.7-0.2 0.6 0.3 0.7 0 0.6 0.1 0.7 0.2 0.7 0.3 0.6 0.2 0.7 0.2 0.6 0.3 0.7 0.2 0.6-0.2 0.7 0 0.6 0.2 0.7-0.1 0.6 0 0.7 0.4 0.6 0 0.7 0.1 0.6 0.4 0.7-0.1 0.6 0.2 0.7 0.4 0.6 0.3 0.7 0 0.6 0 0.7 0.2 0.6-0.1 0.7 0.3 0.6 0.1 0.7 0.2 0.6 0 0.7 0.2 0.6-0.2 0.7 0 0.6 0.1 0.7-0.2 0.6 0 0.7 0.2 0.6 0.2 0.7 0.3 0.6 0.4 0.7 0.1 0.6 0 0.7 0.4 0.6-0.1 0.7 0.3 0.6 0.2 0.7 0.1 0.6-0.4 0.7 0.2 0.7 0 0.6 0.1 0.7-0.2 0.6 0.1 0.7 0.4 0.6 0.3 0.7-0.1 0.6 0.8 0.7 0.2 0.6 0.1 0.7-0.2 0.6 0 0.7 0.3 0.6 0.1 0.7 0.3 0.6 0.2 0.7 0.2 0.6-0.4 0.7 0.3 0.6-0.4 0.7 0 0.6 0.4 0.7 0.1 0.6 0.1 0.7 0.4 0.6 0.7 0.7-0.3 0.6 0.3 0.7 0.1 0.6 0.1 0.7 0 0.6 0.5 0.7 0.1 0.6 0.1 0.7 0.4 0.6 0.2 0.7 0.1 0.6 0.2 0.7 0.1 0.6 0 0.7 0 0.6 0.2 0.7 0.2 0.6 0.3 0.7 0.2 0.7 0.6 0.6 0 0.7 0.4 0.6 0.2 0.7 0.1 0.6-0.1 0.7 0.4 0.6 0.4 0.7 0 0.6 0.2 0.7 0.5 0.6 0.1 0.7 0 0.6 0.5 0.7 0.2 0.6 0.1 0.7 0.3 0.6 0.4 0.7-0.3 0.6 0.4 0.7 0.4 0.6 0.2 0.7 0 0.6 0.5 0.7 0.1 0.6 0.1 0.7 0.2 0.6 0.3 0.7 0.2 0.6 0.3 0.7 0.3 0.6 0.3 0.7 0 0.6 0.4 0.7 0.3 0.6 0 0.7 0.5 0.6 0.5 0.7 0.2 0.6 0.3 0.7 0.3 0.6 0 0.7 0 0.7 0.4 0.6 0.1 0.7 0.2 0.6 0.6 0.7 0 0.6 0.2 0.7 0.3 0.6 0.1 0.7 0 0.6 0.8 0.7 0.1 0.6 0.1 0.7 0.4 0.6 0.3 0.7 0 0.6 0.5 0.7 0.3 0.6 0.2 0.7 0.3 0.6 0.5 0.7 0.2 0.6 0.4 0.7 0.2 0.6 0.2 0.7 0.1 0.6 0.2 0.7 0.2 0.6 0.4 0.7 0.3 0.6 0.2 0.7 0.3 0.6 0.4 0.7 0.2 0.6 0.4 0.7 0.5 0.6 0.2 0.7 0.3 0.6 0.1 0.7 0.2 0.6 0.2 0.7 0.2 0.6 0.3 0.7 0.2 0.6 0.3 0.7 0.4 0.7 0.3 0.6 0.3 0.7 0.4 0.6 0.2 0.7 0.3 0.6 0.1 0.7 0.3 0.6 0.1 0.7 0.3 0.6 0.2 0.7 0.3 0.6 0.3 0.7 0.2 0.6 0.2 0.7 0.2 0.6 0.2 0.7 0.1 0.6 0.1 0.7 0.2 0.6 0.3 0.7 0.2 0.6 0.3 0.7 0.2 0.6 0.2 0.7 0.2 0.6 0.3 0.7 0.3 0.6 0.2 0.7 0.4 0.6 0.1 0.7 0.3 0.6 0.1 0.7 0.3 0.6 0.2 0.7 0.3 0.6 0.2 0.7 0.3 0.6 0.3 0.7 0.2 0.6 0.2 0.7 0.3 0.6 0.3 0.7 0.1 0.6 0.4 0.7 0.2 0.7 0.3 0.6 0.2 0.7 0.3 0.6 0.2 0.7 0.2 0.6 0.2 0.7 0.2 0.6 0.2 0.7 0.2 0.6 0.2 0.7 0.1 0.6 0.1 0.7 0.3 0.6 0.1 0.7 0.1 0.6 0.2 0.7 0.3 0.6 0.1 0.7 0 0.6 0.2 0.7 0.1 0.6 0.1 0.7 0.1 0.6 0.1 0.7 0.1 0.6 0.1 0.7 0.1 0.6 0.1 0.7 0 0.6 0.1 0.7 0.1 0.6 0 0.7 0 0.6 0.1 0.7 0.1 0.6 0.1 0.7 0.1 0.6 0.1 0.7 0 0.6 0 0.7 0 0.6 0.1 0.7 0 0.7 0 0.6-0.1 0.7 0.1 0.6-0.1 0.7-0.1 0.6 0 0.7-0.1 0.6 0 0.7 0 0.6 0 0.7 0 0.6-0.1 0.7 0 0.6-0.2 0.7 0 0.6-0.1 0.7-0.1 0.6-0.1 0.7-0.1 0.6-0.1 0.7-0.1 0.6-0.1 0.7-0.1 0.6-0.1 0.7-0.2 0.6-0.1 0.7-0.1 0.6-0.1 0.7-0.2 0.6-0.1 0.7-0.3 0.6-0.1 0.7-0.2 0.6-0.1 0.7-0.2 0.6-0.1 0.7-0.1 0.6-0.2 0.7-0.2 0.6-0.1 0.7-0.3 0.6-0.3 0.7-0.3 0.6-0.3 0.7-0.3 0.7-0.2 0.6-0.2 0.7-0.4 0.6-0.2 0.7-0.3 0.6-0.3 0.7-0.2 0.6-0.1 0.7-0.2 0.6-0.3 0.7-0.3 0.6-0.3 0.7-0.4 0.6-0.3 0.7-0.3 0.6-0.2 0.7-0.3 0.6-0.1 0.7-0.1 0.6-0.3 0.7-0.1 0.6-0.1 0.7-0.3 0.6-0.2 0.7-0.2 0.6-0.2 0.7-0.2 0.6-0.2 0.7-0.2 0.6-0.3 0.7-0.3 0.6-0.4 0.7-0.1 0.6-0.2 0.7-0.2 0.6-0.3 0.7-0.2 0.6-0.5 0.7-0.3 0.6-0.2 0.7-0.3 0.6-0.2 0.7 0 0.6-0.1 0.7-0.2 0.7-0.2 0.6-0.3 0.7-0.4 0.6-0.3 0.7-0.3 0.6 0 0.7-0.3 0.6-0.2 0.7-0.2 0.6-0.4 0.7-0.4 0.6-0.1 0.7-0.2 0.6-0.5 0.7 0 0.6-0.5 0.7-0.4 0.6-0.5 0.7 0 0.6-0.3 0.7-0.4 0.6-0.1 0.7-0.2 0.6-0.4 0.7-0.4 0.6-0.1 0.7-0.5 0.6-0.3 0.7-0.4 0.6-0.2 0.7-0.1 0.6-0.3 0.7-0.7 0.6 0 0.7-0.2 0.6-0.6 0.7 0.1 0.6 0.2 0.7-0.2 0.6-0.1 0.7 0 0.6-0.5 0.7-0.6 0.6-0.2 0.7-0.4 0.7-0.6 0.6-0.3 0.7-0.3 0.6-0.5 0.7-0.3 0.6 0.2 0.7-0.2 0.6-0.1 0.7-0.4 0.6-0.2 0.7-0.2 0.6-0.1 0.7-0.4 0.6 0 0.7 0 0.6-0.3 0.7 0 0.6-0.2 0.7-0.6 0.6-0.4 0.7-0.4 0.6-0.4 0.7-0.2 0.6 0.1 0.7-0.2 0.6-0.4 0.7-0.4 0.6-0.1 0.7-0.3 0.6-0.1 0.7-0.3 0.6-0.1 0.7-0.1 0.6-0.2 0.7-0.6 0.6 0 0.7-0.3 0.6-0.6 0.7 0.2 0.6 0.4 0.7 0 0.6 0 0.7-0.3 0.7-0.6 0.6-0.4 0.7-0.5 0.6-0.2 0.7 0 0.6-0.2 0.7-0.1 0.6 0.4 0.7 0 0.6-0.3 0.7 0.4 0.6-0.2 0.7-0.5 0.6-0.1 0.7 0.1 0.6-0.6 0.7-0.1 0.6-0.4 0.7-0.4 0.6-0.1 0.7-0.1 0.6-0.4 0.7-0.2 0.6-0.1 0.7-0.4 0.6-0.6 0.7 0 0.6 0.2 0.7 0.1 0.6 0 0.7-0.1 0.6 0.1 0.7-0.2 0.6-0.1 0.7-0.2 0.6 0 0.7-0.3 0.6-0.2 0.7-0.4 0.6-0.2 0.7-0.2 0.6-0.3 0.7 0 0.6 0.1 0.7 0.1 0.7 0.1 0.6 0 0.7-0.5 0.6-0.5 0.7-0.2 0.6 0 0.7-0.5 0.6 0.6 0.7 0.3 0.6-0.3 0.7 0 0.6 0.2 0.7-0.4 0.6-0.2 0.7 0 0.6-0.3 0.7-0.3 0.6-0.2 0.7-0.2 0.6 0 0.7 0.2 0.6 0.2 0.7 0.2 0.6 0.1 0.7-0.4 0.6-0.3 0.7-0.3 0.6-0.3 0.7-0.1 0.6 0.1 0.7 0 0.6 0 0.7-0.2 0.6-0.4 0.7 0.2 0.6-0.2 0.7-0.1 0.6-0.2 0.7 0.1 0.6-0.1 0.7-0.2 0.6-0.7 0.7-0.2 0.6-0.4 0.7-0.4 0.7 0.2 0.6 0 0.7 0 0.6 0.2 0.7-0.3 0.6-0.5 0.7 0 0.6-0.3 0.7-0.2 0.6-0.2 0.7 0.1 0.6-0.3 0.7 0.1 0.6-0.5 0.7-0.1 0.6-0.5 0.7 0.1 0.6-0.3 0.7 0 0.6 0.3 0.7 0.2 0.6-0.4 0.7-0.3 0.6-0.2 0.7-0.5 0.6-0.4 0.7 0.1 0.6 0.1 0.7 0.3 0.6-0.1 0.7 0 0.6-0.2 0.7 0.2 0.6-0.1 0.7-0.2 0.6-0.3 0.7-0.1 0.6-0.6 0.7-0.1 0.6-0.5 0.7 0 0.6-0.5 0.7-0.5 0.6-0.6 0.7 0.3 0.7-0.4 0.6 0.3 0.7 0 0.6-0.1 0.7-0.3 0.6-0.3 0.7-0.6 0.6-0.1 0.7-0.3 0.6 0.1 0.7 0.1 0.6 0.2 0.7-0.1 0.6-0.1 0.7-0.5 0.6-0.5 0.7-0.2 0.6-0.4 0.7 0.1 0.6 0.2 0.7-0.1 0.6-0.2 0.7 0.1 0.6-0.4 0.7 0 0.6-0.1 0.7 0 0.6-0.3 0.7 0.1 0.6-0.6 0.7-0.3 0.6-0.4 0.7-0.3 0.6-0.1 0.7 0 0.6 0.1 0.7 0 0.6-0.3 0.7-0.5 0.6-0.1 0.7-0.3 0.6-0.1 0.7 0.2 0.7-0.1 0.6-0.3 0.7-0.2 0.6 0 0.7-0.4 0.6-0.1 0.7 0 0.6-0.4 0.7-0.2 0.6-0.4 0.7-0.2 0.6 0 0.7-0.2 0.6-0.3 0.7 0.2 0.6-0.1 0.7-0.4 0.6 0.2 0.7 0 0.6 0.1 0.7-0.4 0.6 0.2 0.7-0.4 0.6-0.5 0.7-0.5 0.6-0.3 0.7-0.4 0.6-0.1 0.7 0.3 0.6-0.4 0.7 0 0.6-0.5 0.7-0.2 0.6-0.4 0.7 0 0.6-0.4 0.7-0.2 0.6-0.3 0.7 0 0.6 0.1 0.7-0.2 0.6 0.1 0.7-0.1 0.6-0.4 0.7-0.5" fill="none" stroke="#464244" stroke-width="4" stroke-linejoin="round"/>
<path d="M820.3 380.6l0.7 0.6 0.6-0.1 0.7 0.1 0.6 0.1 0.7 0 0.6-0.2 0.7 0.6 0.6 0.2 0.7 0.2 0.6 0.3 0.7 0.4 0.6 0 0.7 0.4 0.6 0.1 0.7 0.2 0.6 0 0.7 0.4 0.6 0.1 0.7 0.2 0.6 0.1 0.7 0.1 0.6 0.2 0.7 0.2 0.6-0.1 0.7 0.5 0.6 0.5 0.7 0.3 0.6 0.2 0.7 0.4 0.6-0.2 0.7-0.2 0.6-0.1 0.7 0.3 0.6 0.2 0.7 0.3 0.6 0.4 0.7 0.3 0.6 0.2 0.7-0.1 0.6 0.4 0.7 0.2 0.6 0.2 0.7 0.1 0.6 0.4 0.7-0.1 0.7 0.3 0.6-0.1 0.7 0.2 0.6 0.4 0.7 0.3 0.6-0.3 0.7 0.3 0.6 0.2 0.7-0.4 0.6 0.2 0.7 0.4 0.6 0.3 0.7 0.2 0.6 0.6 0.7 0.2 0.6 0.2 0.7-0.1 0.6 0.5 0.7 0.3 0.6 0.6 0.7-0.1 0.6 0.3 0.7-0.2 0.6-0.1 0.7-0.1 0.6 0.3 0.7 0.2 0.6 0.6 0.7 0.3 0.6-0.2 0.7 0.1 0.6 0.1 0.7 0 0.6 0.2 0.7 0.3 0.6 0.2 0.7 0.4 0.6 0.1 0.7 0.2 0.6 0.3 0.7 0 0.6 0.1 0.7 0 0.7 0.1 0.6 0.2 0.7 0.4 0.6 0.1 0.7 0.4 0.6 0.1 0.7 0.3 0.6 0.1 0.7 0.3 0.6 0.4 0.7 0.1 0.6 0 0.7-0.1 0.6 0 0.7-0.5 0.6 0.1 0.7 0.3 0.6 0 0.7 0.4 0.6 0.4 0.7 0.3 0.6 0.1 0.7 0.7 0.6-0.1 0.7 0.3 0.6 0.1 0.7 0 0.6-0.3 0.7 0.3 0.6 0.2 0.7 0.1 0.6 0.4 0.7 0.1 0.6 0.1 0.7 0.1 0.6 0.2 0.7 0.2 0.6 0.5 0.7 0.4 0.6 0 0.7 0 0.6-0.2 0.7 0.1 0.6 0 0.7 0.1 0.7 0 0.6 0.3 0.7 0 0.6 0.3 0.7 0.2 0.6 0.4 0.7 0.2 0.6 0.2 0.7 0.2 0.6-0.1 0.7 0.3 0.6-0.2 0.7 0.2 0.6-0.2 0.7 0.4 0.6-0.1 0.7 0.5 0.6 0.2 0.7 0.2 0.6 0 0.7 0.1 0.6-0.1 0.7-0.1 0.6 0.2 0.7 0.2 0.6 0.3 0.7 0.3 0.6 0.5 0.7 0 0.6-0.1 0.7 0 0.6 0 0.7-0.4 0.6 0.2 0.7 0.2 0.6 0.1 0.7 0.2 0.6 0.3 0.7 0 0.6-0.2 0.7 0.5 0.6 0.1 0.7 0.2 0.6 0.1 0.7 0 0.7 0 0.6 0.3 0.7-0.1 0.6 0.3 0.7 0 0.6-0.2 0.7 0 0.6 0.1 0.7 0.4 0.6 0.3 0.7 0 0.6 0.1 0.7 0.4 0.6-0.3 0.7-0.2 0.6 0.3 0.7 0.2 0.6-0.2 0.7 0.5 0.6 0.4 0.7 0.2 0.6-0.2 0.7 0.5 0.6-0.4 0.7 0.2 0.6 0.3 0.7 0.6 0.6 0 0.7 0.2 0.6 0.2 0.7-0.2 0.6-0.1 0.7 0 0.6 0.3 0.7 0.1 0.6 0.3 0.7 0 0.6 0.1 0.7 0.4 0.6-0.1 0.7-0.1 0.6 0.4 0.7 0.7 0.6-0.1 0.7 0.5 0.7 0.4 0.6 0.4 0.7-0.3 0.6 0.4 0.7 0.4 0.6-0.3 0.7-0.4 0.6 0.3 0.7 0.2 0.6 0.1 0.7 1 0.6 0.5 0.7 0.5 0.6 0.4 0.7 0.6 0.6-0.2 0.7 0.2 0.6 0.1 0.7-0.1 0.6 0.1 0.7 0.5 0.6 0.5 0.7 0.3 0.6 0.3 0.7 0.1 0.6-0.1 0.7 0.2 0.6 0.2 0.7 0.5 0.6 0.4 0.7 0 0.6 0 0.7 0.3 0.6 0.2 0.7 0.1 0.6 0.7 0.7 0.3 0.6 0.3 0.7 0.2 0.6 0.3 0.7 0.1 0.6 0.5 0.7 0.3 0.7 0.3 0.6 0.2 0.7 0.2 0.6 0.1 0.7-0.1 0.6 0 0.7 0.2 0.6 0.1 0.7 0.4 0.6 0.2 0.7 0.3 0.6 0.4 0.7 0.3 0.6 0.1 0.7 0.7 0.6 0.4 0.7 0.2 0.6 0.5 0.7 0.5 0.6 0.1 0.7 0.1 0.6 0.2 0.7-0.2 0.6 0.2 0.7 0.1 0.6 0.3 0.7 0.3 0.6 0.6 0.7 0.5 0.6 0.4 0.7 0.2 0.6 0.2 0.7 0.1 0.6 0 0.7 0.3 0.6 0.2 0.7 0.4 0.6 0.3 0.7 0.4 0.6 0.3 0.7 0.3 0.6 0.3 0.7 0.3 0.6 0.2 0.7 0.2 0.7 0.4 0.6 0.4 0.7 0.4 0.6 0.4 0.7 0.3 0.6 0.1 0.7 0.3 0.6 0.1 0.7 0.1 0.6 0.4 0.7 0.4 0.6 0.3 0.7 0.2 0.6 0.3 0.7 0.2 0.6 0.3 0.7 0.2 0.6 0.5 0.7 0.2 0.6 0.3 0.7 0.3 0.6 0.2 0.7 0.3 0.6 0.2 0.7 0.3 0.6 0.3 0.7 0.2 0.6 0.2 0.7 0.4 0.6 0.4 0.7 0.2 0.6 0.4 0.7 0.2 0.6 0.3 0.7 0.1 0.6 0.3 0.7 0.4 0.6 0.4 0.7 0.3 0.6 0.4 0.7 0.4 0.6 0.2 0.7 0.3 0.6 0.4 0.7 0.3 0.7 0.4 0.6 0.4 0.7 0.3 0.6 0.3 0.7 0.3 0.6 0.2 0.7 0.3 0.6 0.2 0.7 0.2 0.6 0.3 0.7 0.3 0.6 0.2 0.7 0.2 0.6 0.2 0.7 0.2 0.6 0.1 0.7 0.2 0.6 0.1 0.7 0.2 0.6 0.1 0.7 0.2 0.6 0.2 0.7 0.2 0.6 0.1 0.7 0.2 0.6 0.1 0.7 0.2 0.6 0 0.7 0.1 0.6 0.1 0.7 0.1 0.6 0.1 0.7 0.2 0.6 0 0.7 0.1 0.6 0.2 0.7 0.1 0.6 0.1 0.7 0.2 0.6 0.1 0.7 0 0.6 0.1 0.7 0 0.7 0 0.6 0 0.7-0.1 0.6-0.1 0.7 0 0.6 0 0.7-0.1 0.6-0.1 0.7 0 0.6-0.2 0.7-0.1 0.6-0.1 0.7-0.1 0.6-0.2 0.7-0.1 0.6-0.1 0.7-0.2 0.6 0 0.7-0.2 0.6-0.1 0.7-0.2 0.6-0.1 0.7-0.1 0.6-0.1 0.7-0.2 0.6-0.2 0.7-0.2 0.6-0.3 0.7-0.2 0.6-0.2 0.7-0.1 0.6-0.3 0.7-0.1 0.6-0.2 0.7-0.3 0.6-0.2 0.7-0.3 0.6-0.2 0.7-0.3 0.6-0.3 0.7-0.2 0.6-0.3 0.7-0.2 0.6-0.3 0.7-0.2 0.7-0.3 0.6-0.3 0.7-0.3 0.6-0.4 0.7-0.4 0.6-0.3 0.7-0.4 0.6-0.3 0.7-0.3 0.6-0.2 0.7-0.3 0.6-0.4 0.7-0.3 0.6-0.4 0.7-0.4 0.6-0.3 0.7-0.2 0.6-0.4 0.7-0.2 0.6-0.3 0.7-0.3 0.6-0.3 0.7-0.2 0.6-0.4 0.7-0.2 0.6-0.5 0.7-0.3 0.6-0.4 0.7-0.1 0.6-0.3 0.7-0.1 0.6-0.3 0.7-0.2 0.6-0.3 0.7-0.3 0.6-0.2 0.7-0.5 0.6-0.3 0.7-0.3 0.6-0.2 0.7-0.2 0.6-0.1 0.7-0.2 0.6-0.3 0.7-0.2 0.7-0.3 0.6-0.4 0.7-0.3 0.6-0.1 0.7-0.3 0.6-0.4 0.7 0 0.6-0.3 0.7-0.3 0.6-0.3 0.7-0.2 0.6-0.4 0.7-0.5 0.6-0.3 0.7-0.3 0.6-0.5 0.7-0.3 0.6-0.2 0.7-0.2 0.6-0.2 0.7-0.1 0.6-0.4 0.7-0.2 0.6-0.2 0.7-0.2 0.6-0.6 0.7-0.3 0.6-0.3 0.7-0.2 0.6-0.2 0.7-0.1 0.6-0.2 0.7-0.1 0.6-0.5 0.7-0.5 0.6-0.1 0.7-0.2 0.6-0.4 0.7-0.1 0.6-0.1 0.7-0.2 0.6-0.5 0.7-0.3 0.6-0.4 0.7-0.5 0.7-0.4 0.6-0.1 0.7-0.3 0.6-0.2 0.7 0 0.6-0.2 0.7-0.2 0.6-0.1 0.7 0 0.6 0 0.7-0.3 0.6-0.1 0.7-0.3 0.6-0.3 0.7-0.5 0.6-0.5 0.7-0.4 0.6-0.1 0.7-0.3 0.6-0.1 0.7 0 0.6-0.1 0.7-0.3 0.6-0.2 0.7-0.2 0.6 0.1 0.7-0.2 0.6-0.4 0.7-0.5 0.6-0.3 0.7-0.4 0.6-0.4 0.7-0.4 0.6-0.2 0.7-0.4 0.6-0.3 0.7-0.3 0.6-0.4 0.7 0.1 0.6-0.2 0.7 0.1 0.6 0 0.7 0.2 0.7-0.2 0.6-0.1 0.7-0.5 0.6-0.2 0.7-0.4 0.6-0.2 0.7-0.2 0.6 0 0.7-0.3 0.6-0.3 0.7-0.1 0.6-0.3 0.7-0.1 0.6 0.2 0.7 0.2 0.6-0.5 0.7 0.1 0.6-0.2 0.7-0.6 0.6 0.1 0.7 0 0.6-0.4 0.7-0.2 0.6 0.1 0.7-0.8 0.6 0.1 0.7 0 0.6-0.1 0.7 0 0.6 0.5 0.7-0.5 0.6-0.2 0.7 0.1 0.6-0.1 0.7-0.4 0.6 0.1 0.7 0.1 0.6-0.4 0.7-0.2 0.6-0.1 0.7-0.1 0.6-0.1 0.7-0.4 0.6-0.1 0.7-0.3 0.7-0.5 0.6-0.3 0.7 0.3 0.6-0.2 0.7 0.2 0.6 0.4 0.7 0 0.6-0.5 0.7 0.1 0.6 0.1 0.7-0.1 0.6-0.1 0.7 0.1 0.6-0.1 0.7-0.2 0.6-0.2 0.7-0.2 0.6-0.2 0.7-0.4 0.6-0.2 0.7 0.1 0.6-0.2 0.7-0.2 0.6 0.1 0.7-0.2 0.6-0.2 0.7-0.1 0.6-0.1 0.7 0 0.6 0 0.7-0.2 0.6 0.1 0.7-0.1 0.6-0.3 0.7-0.2 0.6 0 0.7-0.1 0.6-0.4 0.7-0.2 0.6 0 0.7-0.1 0.6-0.5 0.7-0.1 0.6 0 0.7-0.5 0.7-0.1 0.6 0.2 0.7-0.1 0.6 0.2 0.7 0.2 0.6-0.5 0.7-0.4 0.6 0.1 0.7-0.5 0.6-0.5 0.7 0.1 0.6 0.2 0.7-0.3 0.6 0 0.7-0.1 0.6-0.2 0.7-0.3 0.6-0.5 0.7-0.1 0.6-0.1 0.7-0.2 0.6-0.4 0.7 0.2 0.6-0.3 0.7-0.1 0.6 0.2 0.7 0 0.6-0.1 0.7-0.1 0.6-0.2 0.7-0.2 0.6-0.4 0.7-0.5 0.6 0.2 0.7-0.2 0.6-0.1 0.7 0.4 0.6 0 0.7-0.4 0.6-0.1 0.7-0.1 0.6-0.8 0.7-0.3 0.6-0.3 0.7-0.3 0.7-0.2 0.6-0.1 0.7 0.2 0.6-0.1 0.7 0 0.6-0.2 0.7-0.3 0.6-0.3 0.7-0.4 0.6-0.7 0.7 0.2 0.6 0 0.7 0 0.6 0.1 0.7 0.4 0.6-0.5 0.7-0.1 0.6-0.2 0.7-0.2 0.6-0.3 0.7 0.2 0.6-0.3 0.7-0.3 0.6 0 0.7-0.3 0.6-0.5 0.7 0.4 0.6-0.4 0.7-0.1 0.6 0 0.7-0.3 0.6-0.8 0.7-0.2 0.6-0.4 0.7-0.1 0.6-0.1 0.7-0.2 0.6-0.2 0.7-0.3 0.6-0.2 0.7-0.4 0.6 0.1 0.7 0.1 0.7 0 0.6-0.4 0.7 0 0.6-0.4 0.7-0.5 0.6-0.3 0.7 0.3 0.6 0.1 0.7 0 0.6 0 0.7-0.5 0.6-0.5 0.7-0.4 0.6-0.3 0.7-0.4 0.6 0.2 0.7-0.3 0.6 0 0.7 0.1 0.6-0.2 0.7 0 0.6-0.3 0.7-0.4 0.6-0.5 0.7-0.1 0.6-0.5 0.7 0.3 0.6 0 0.7 0 0.6-0.1 0.7 0 0.6-0.4 0.7-0.3 0.6-0.5 0.7 0.2 0.6-0.2 0.7-0.4 0.6 0.1 0.7 0 0.6-0.4 0.7-0.1 0.6-0.1 0.7-0.3 0.6-0.2 0.7-0.2" fill="none" stroke="#e2464a" stroke-width="4" stroke-linejoin="round"/>
<path d="M820.3 340.1l0.7 0.4 0.6 0.5 0.7 0.8 0.6 0.2 0.7 0.5 0.6 0.4 0.7-0.5 0.6 0.2 0.7 0 0.6 0.3 0.7 0.3 0.6 1.3 0.7 0.5 0.6 0.1 0.7 0.3 0.6 0 0.7 0.1 0.6 0.2 0.7 0.1 0.6 0.1 0.7 0.7 0.6 0.3 0.7 0.2 0.6 0.2 0.7 0.5 0.6 0.3 0.7 0 0.6 0.6 0.7 0.8 0.6 0.1 0.7 0.1 0.6 0.5 0.7 0 0.6 0.8 0.7 0.3 0.6 0.7 0.7 0.7 0.6 0.4 0.7-0.6 0.6 0.7 0.7 0.3 0.6-0.1 0.7 0.4 0.6 0.1 0.7 0 0.7 0 0.6 0.1 0.7 0.3 0.6 0.8 0.7 0.3 0.6 0.2 0.7 0.6 0.6 0.4 0.7 0 0.6 1 0.7 0.3 0.6 0.1 0.7 0.4 0.6 0.3 0.7 0 0.6 0.2 0.7 0.9 0.6 0.1 0.7 0.1 0.6-0.2 0.7 0.9 0.6-0.1 0.7 0 0.6 0.6 0.7 0.1 0.6 0 0.7 0.1 0.6 0.6 0.7-0.2 0.6 0.6 0.7 0.1 0.6 0.7 0.7-0.4 0.6 0.4 0.7 0.1 0.6-0.1 0.7-0.3 0.6 0.8 0.7 0.6 0.6 0.6 0.7 0.2 0.6 0.7 0.7 0.2 0.7 0.1 0.6 0 0.7 0.5 0.6 0.1 0.7 0.5 0.6 0.2 0.7 0 0.6 0.2 0.7-0.1 0.6-0.1 0.7 0.2 0.6 0.5 0.7 0.2 0.6 0.5 0.7 0.1 0.6 0.3 0.7 0.1 0.6 0.3 0.7-0.5 0.6-0.1 0.7-0.1 0.6 0.8 0.7 0.3 0.6 1 0.7 0.4 0.6 1.1 0.7-0.5 0.6-0.1 0.7 0.3 0.6 0.6 0.7-0.1 0.6 0.5 0.7 0.3 0.6-0.6 0.7 0 0.6-0.1 0.7 0.2 0.6-0.1 0.7 0.5 0.6-0.1 0.7 0.6 0.6 0.3 0.7 0.8 0.6 0 0.7 0.4 0.7 0 0.6 0.3 0.7-0.1 0.6 0.7 0.7 0.6 0.6 0 0.7-0.5 0.6 0.4 0.7 0.1 0.6 0.3 0.7 0.6 0.6 0.6 0.7 0 0.6 0 0.7-0.1 0.6-0.2 0.7 0.3 0.6 0.8 0.7 0.2 0.6 0.3 0.7 0.4 0.6 0.3 0.7 0 0.6 0.2 0.7 0 0.6 0.1 0.7 0.1 0.6-0.2 0.7-0.1 0.6 0 0.7 0.6 0.6-0.1 0.7 0.5 0.6 0.3 0.7 0.4 0.6-0.6 0.7 0.2 0.6 0 0.7-0.2 0.6 0.5 0.7 0.4 0.6 0.2 0.7 0.4 0.6 0 0.7-0.1 0.7-0.3 0.6 0.3 0.7 0.2 0.6 0.6 0.7 0.3 0.6 0.8 0.7 0.1 0.6 0.1 0.7-0.2 0.6 0.5 0.7-0.2 0.6 0.4 0.7 0.4 0.6 0.7 0.7 0.3 0.6 0.4 0.7-0.2 0.6-0.1 0.7-0.1 0.6-0.5 0.7 0.2 0.6 0.3 0.7 0.3 0.6 0.7 0.7 0.4 0.6 0.6 0.7 0.1 0.6 0.1 0.7-0.4 0.6 0.3 0.7 0 0.6 0.3 0.7 0.3 0.6 0.5 0.7 0.1 0.6 0.1 0.7 0.3 0.6 0.2 0.7 0.2 0.6 0.7 0.7 0.2 0.6 0.4 0.7-0.2 0.6-0.2 0.7 0.2 0.7 0.1 0.6-0.1 0.7 0.7 0.6 0.4 0.7-0.1 0.6 0.6 0.7 0.2 0.6 0 0.7 0.3 0.6 0.4 0.7-0.3 0.6-0.1 0.7 0.5 0.6 0.4 0.7-0.1 0.6 0.5 0.7 0 0.6-0.1 0.7 0.3 0.6 0.4 0.7 0.2 0.6 0.1 0.7 0.3 0.6 0 0.7 0 0.6 0.2 0.7 0.3 0.6 0.4 0.7 0.1 0.6 0.4 0.7 0.1 0.6 1 0.7-0.2 0.6 0.5 0.7 0.3 0.6 0.7 0.7 0.2 0.6 0.5 0.7 0.1 0.6 0.2 0.7-0.1 0.6 0 0.7 0.5 0.7 0.3 0.6 0.4 0.7 0.6 0.6 0.3 0.7 0.1 0.6 0.5 0.7 0.5 0.6 0.2 0.7 0.1 0.6 0.7 0.7 0.4 0.6 0.3 0.7 0.3 0.6 1 0.7 0.2 0.6 0.2 0.7 0.4 0.6 0.4 0.7 0 0.6 0.5 0.7 0.5 0.6 0.5 0.7 0.7 0.6 0.2 0.7 0.5 0.6 0.1 0.7 0.2 0.6 0.2 0.7 0.6 0.6 0.7 0.7 0.7 0.6 0.4 0.7 0.7 0.6 0.7 0.7 0 0.6 0.4 0.7 0.7 0.6 0.4 0.7 0.1 0.6 0.6 0.7 0.2 0.6 0 0.7 0.4 0.6 0.7 0.7 0.6 0.7 0.6 0.6 0.5 0.7 0.5 0.6 0.3 0.7 0.4 0.6 0.5 0.7 0.6 0.6 0.6 0.7 0.8 0.6 0.6 0.7 0.6 0.6 0.6 0.7 0.7 0.6 0.3 0.7 0.4 0.6 0.2 0.7 0.3 0.6 0.5 0.7 0.6 0.6 0.5 0.7 0.9 0.6 0.5 0.7 0.6 0.6 0.9 0.7 0.5 0.6 0.5 0.7 0.5 0.6 0.5 0.7 0.3 0.6 0.5 0.7 0.5 0.6 0.6 0.7 0.3 0.6 0.4 0.7 0.7 0.6 0.4 0.7 0.4 0.6 0.7 0.7 0.4 0.6 0.5 0.7 0.3 0.6 0.6 0.7 0.5 0.6 0.5 0.7 0.5 0.7 0.6 0.6 0.5 0.7 0.3 0.6 0.5 0.7 0.5 0.6 0.6 0.7 0.5 0.6 0.4 0.7 0.4 0.6 0.4 0.7 0.4 0.6 0.3 0.7 0.5 0.6 0.5 0.7 0.3 0.6 0.4 0.7 0.4 0.6 0.4 0.7 0.3 0.6 0.4 0.7 0.3 0.6 0.4 0.7 0.3 0.6 0.3 0.7 0.3 0.6 0.1 0.7 0.2 0.6 0.1 0.7 0.2 0.6 0.2 0.7 0.3 0.6 0.2 0.7 0.2 0.6 0.2 0.7 0.2 0.6 0 0.7 0.2 0.6 0.2 0.7 0.1 0.6 0.1 0.7 0 0.6 0.1 0.7 0.1 0.7 0 0.6-0.1 0.7 0 0.6-0.2 0.7-0.1 0.6-0.1 0.7-0.1 0.6-0.2 0.7-0.1 0.6-0.1 0.7-0.1 0.6-0.2 0.7-0.2 0.6-0.2 0.7-0.1 0.6-0.2 0.7-0.2 0.6-0.2 0.7-0.1 0.6-0.3 0.7-0.3 0.6-0.2 0.7-0.3 0.6-0.3 0.7-0.4 0.6-0.4 0.7-0.4 0.6-0.4 0.7-0.4 0.6-0.3 0.7-0.4 0.6-0.4 0.7-0.4 0.6-0.3 0.7-0.5 0.6-0.5 0.7-0.4 0.6-0.5 0.7-0.4 0.6-0.4 0.7-0.4 0.6-0.4 0.7-0.4 0.6-0.6 0.7-0.4 0.7-0.5 0.6-0.6 0.7-0.5 0.6-0.5 0.7-0.6 0.6-0.5 0.7-0.4 0.6-0.5 0.7-0.5 0.6-0.5 0.7-0.7 0.6-0.5 0.7-0.6 0.6-0.4 0.7-0.4 0.6-0.5 0.7-0.6 0.6-0.4 0.7-0.5 0.6-0.5 0.7-0.7 0.6-0.7 0.7-0.6 0.6-0.6 0.7-0.3 0.6-0.4 0.7-0.3 0.6-0.4 0.7-0.6 0.6-0.7 0.7-0.5 0.6-0.5 0.7-0.5 0.6-0.6 0.7-0.8 0.6-0.4 0.7-0.4 0.6-0.7 0.7-0.4 0.6-0.3 0.7-0.6 0.6-0.6 0.7-0.4 0.6-0.6 0.7-0.7 0.7-0.7 0.6-0.7 0.7-0.5 0.6-0.5 0.7-0.6 0.6-0.3 0.7-0.1 0.6-0.5 0.7-0.3 0.6-0.4 0.7-0.4 0.6-0.7 0.7-0.3 0.6-0.7 0.7-0.2 0.6-0.3 0.7-0.4 0.6-0.3 0.7-0.2 0.6-0.3 0.7-0.5 0.6-0.7 0.7-0.4 0.6-0.3 0.7-0.4 0.6-0.4 0.7 0.1 0.6-0.3 0.7-0.4 0.6-0.4 0.7-0.3 0.6-0.5 0.7-0.3 0.6-0.4 0.7-0.5 0.6-0.4 0.7-0.5 0.6-0.6 0.7-0.1 0.6 0 0.7-0.2 0.6-0.4 0.7-0.2 0.6-0.3 0.7-0.6 0.7-0.7 0.6-0.2 0.7-0.4 0.6-0.6 0.7-0.3 0.6 0.3 0.7-0.7 0.6-0.1 0.7-0.5 0.6-0.1 0.7-0.6 0.6 0.1 0.7-0.6 0.6 0.2 0.7-0.2 0.6-0.2 0.7 0.1 0.6-0.4 0.7-0.5 0.6-0.4 0.7-0.6 0.6-0.4 0.7 0.1 0.6-0.5 0.7-0.5 0.6 0.6 0.7 0.3 0.6 0 0.7-0.1 0.6 0.2 0.7-0.7 0.6-1.1 0.7-0.3 0.6 0 0.7-0.5 0.6-0.3 0.7-0.2 0.6-0.3 0.7-0.2 0.6 0.1 0.7-0.4 0.6-0.7 0.7-0.2 0.7 0.5 0.6-0.2 0.7 0 0.6 0.1 0.7-0.6 0.6-0.5 0.7-0.1 0.6-0.4 0.7 0.3 0.6-0.2 0.7-0.3 0.6-0.5 0.7-0.1 0.6-0.6 0.7-0.1 0.6 0 0.7-0.1 0.6 0 0.7-0.1 0.6-0.3 0.7-0.3 0.6 0 0.7 0 0.6 0 0.7-0.1 0.6 0 0.7-0.6 0.6-0.4 0.7-0.2 0.6 0.3 0.7-0.5 0.6 0 0.7 0.3 0.6-0.5 0.7-0.9 0.6-0.2 0.7-0.1 0.6-1.2 0.7-0.2 0.6 0.5 0.7-0.1 0.6-0.1 0.7 0.4 0.6 0.7 0.7-0.6 0.7 0 0.6-0.3 0.7-0.1 0.6-1 0.7 0.1 0.6-0.1 0.7-0.3 0.6-0.5 0.7 0.1 0.6-0.6 0.7-0.4 0.6 0 0.7-0.2 0.6 0 0.7-0.1 0.6 0 0.7-0.4 0.6 0.4 0.7-0.1 0.6-0.2 0.7-0.4 0.6-0.1 0.7-0.3 0.6-0.5 0.7 0.4 0.6 0.1 0.7-0.1 0.6-0.1 0.7 0 0.6-0.5 0.7-0.4 0.6-0.1 0.7-0.8 0.6-0.6 0.7-0.5 0.6-0.2 0.7-0.1 0.6 0.5 0.7 0.1 0.6 0.5 0.7 0 0.6-0.5 0.7-0.9 0.6-0.5 0.7-0.5 0.7-0.5 0.6 0.2 0.7 0 0.6 0 0.7-0.6 0.6-0.7 0.7-0.6 0.6-0.5 0.7-0.3 0.6 0 0.7 0.1 0.6-0.4 0.7 0.5 0.6-0.2 0.7 0 0.6 0.2 0.7-0.1 0.6-0.3 0.7-0.1 0.6-0.2 0.7-0.3 0.6-0.2 0.7-0.4 0.6-0.4 0.7-0.3 0.6-0.5 0.7 0 0.6-0.1 0.7-0.3 0.6-0.1 0.7 0.2 0.6-0.2 0.7-0.3 0.6-0.4 0.7-0.8 0.6 0.1 0.7-0.1 0.6-0.2 0.7 0 0.6 0.2 0.7-0.3 0.6-0.4 0.7-0.3 0.6-0.2 0.7-0.1 0.7-1.1 0.6 0.6 0.7-0.1 0.6-0.7 0.7-0.6 0.6 0.1 0.7-0.7 0.6-0.6 0.7 0.5 0.6-0.3 0.7-0.3 0.6-0.2 0.7-0.2 0.6-0.2 0.7 0 0.6-0.3 0.7-0.4 0.6-0.1 0.7-0.8 0.6-0.4 0.7-0.1 0.6-0.2 0.7-0.1 0.6-0.3 0.7-0.2 0.6-0.5 0.7-0.4 0.6-0.2 0.7-0.2 0.6-0.1 0.7-0.2 0.6-0.6 0.7-0.3 0.6 0 0.7-0.2 0.6-0.1 0.7 0.4 0.6-0.5 0.7-0.2 0.6-0.6 0.7-0.8 0.6-0.7 0.7-0.5 0.7-0.4 0.6-0.2 0.7 0.2 0.6 0.2 0.7-0.1 0.6-0.7 0.7-0.5 0.6-0.4 0.7-1 0.6-0.2 0.7 0.2 0.6 0.1 0.7-0.2 0.6 0.1 0.7-0.9 0.6-0.4 0.7-0.3 0.6-0.4 0.7-0.3 0.6 0.5 0.7-0.4 0.6-0.7 0.7-0.5 0.6-0.5 0.7-0.4 0.6 0.1 0.7-0.5 0.6-0.5 0.7 0.2 0.6-0.7 0.7-0.7 0.6-0.1 0.7-0.2 0.6-0.5 0.7-0.3 0.6-0.4 0.7-0.2 0.6 0.2 0.7 0.2 0.6-0.1 0.7 0.1 0.6-0.4 0.7-1 0.6-1 0.7-0.5" fill="none" stroke="#3d6db5" stroke-width="4" stroke-linejoin="round"/>
<path d="M820.3 81.3l0.7 1.2 0.6 2.5 0.7 1.2 0.6 1.8 0.7 2.3 0.6 2.7 0.7 0.6 0.6 1.3 0.7 0.4 0.6 1.3 0.7 0.3 0.6 2.3 0.7 0.3 0.6 3.2 0.7 0.9 0.6 1.7 0.7 0.9 0.6 2.7 0.7 0.6 0.6 1.5 0.7 1 0.6-0.1 0.7 1.6 0.6 0.7 0.7 1.7 0.6 0.5 0.7 2.7 0.6 0.2 0.7 0.8 0.6 1.1 0.7 0.8 0.6-0.4 0.7 0.2 0.6 0.4 0.7 0.6 0.6 1.7 0.7 1 0.6 1 0.7 0.8 0.6 0.7 0.7 0.8 0.6 1.1 0.7 1.6 0.6 1.4 0.7 0.6 0.7-0.4 0.6 0.8 0.7 0.8 0.6 0.6 0.7 1.5 0.6 2.2 0.7 0.8 0.6 0.5 0.7 2 0.6-0.2 0.7 1.1 0.6 1 0.7 1 0.6 0.1 0.7 1.2 0.6 0.8 0.7 1.1 0.6 1.3 0.7 1.9 0.6 0.9 0.7 1.4 0.6 1.6 0.7 0.1 0.6 0.4 0.7 2.2 0.6-0.5 0.7 0.5 0.6 1.4 0.7 1.2 0.6 0.4 0.7 2.7 0.6 1.7 0.7 1.9 0.6 0.4 0.7 0.4 0.6-1.3 0.7 0.4 0.6-0.2 0.7 1.1 0.6 1.2 0.7 2.8 0.6 1 0.7 1.7 0.7 1.1 0.6 0.7 0.7 0.3 0.6-0.7 0.7 0.3 0.6 0 0.7 0.1 0.6 0.1 0.7 1.3 0.6 0.8 0.7 0.8 0.6 0.7 0.7 0.5 0.6 0.4 0.7 0.2 0.6 0.8 0.7 0.9 0.6 1.8 0.7 0.1 0.6 1 0.7 0.2 0.6 0.6 0.7-0.1 0.6 1.4 0.7 0.1 0.6 0.6 0.7 1.4 0.6 0.5 0.7 1.3 0.6 0.5 0.7 0.8 0.6 0.1 0.7-0.2 0.6-1.3 0.7 1.4 0.6 0.3 0.7 0.2 0.6 0.9 0.7 1.9 0.6 0.7 0.7 0.3 0.6 1.1 0.7 1.2 0.6 0.3 0.7 1.3 0.7 1.7 0.6 2.2 0.7 1.2 0.6 0.2 0.7 0.7 0.6-0.5 0.7-1.2 0.6 0.5 0.7 1.3 0.6-0.1 0.7 1.7 0.6 1.2 0.7 0.5 0.6 0.3 0.7 0.2 0.6 0.4 0.7 0 0.6 0.9 0.7 0.9 0.6 0.7 0.7 0.2 0.6 1 0.7-0.1 0.6 0.7 0.7 1 0.6 0.6 0.7-0.1 0.6 0.7 0.7-0.8 0.6 0 0.7 1.9 0.6 1.2 0.7-0.4 0.6 1.4 0.7 0.8 0.6-0.6 0.7-0.5 0.6 0.8 0.7 0.1 0.6 0 0.7-0.7 0.6 0.7 0.7 1.6 0.6 0.4 0.7 0.6 0.7 1.2 0.6 0.5 0.7-0.2 0.6 2.3 0.7-0.2 0.6-0.2 0.7 0.9 0.6 0.6 0.7-1.1 0.6 1.9 0.7 0.8 0.6 0.4 0.7 0.4 0.6 1 0.7 0.2 0.6 0 0.7-0.4 0.6-0.1 0.7 0 0.6 0.5 0.7 0.6 0.6 0.3 0.7 1.5 0.6-0.2 0.7 1 0.6 1 0.7 1 0.6 0.3 0.7 1.8 0.6-0.8 0.7-0.2 0.6 0.9 0.7-0.9 0.6 0 0.7-0.3 0.6 0.8 0.7 0.1 0.6 0.8 0.7-0.1 0.6 0.4 0.7-0.6 0.6 0.3 0.7 0.8 0.6 1.2 0.7 1.8 0.7 1.6 0.6 0.8 0.7 0.4 0.6-0.2 0.7-0.1 0.6 1.1 0.7 0.9 0.6-0.1 0.7 0.1 0.6 1 0.7-0.9 0.6 0.3 0.7 1.2 0.6 1.9 0.7-0.2 0.6 1.1 0.7-0.3 0.6 0 0.7-0.4 0.6 0.9 0.7-0.1 0.6 1.2 0.7 1 0.6 0.6 0.7 0.2 0.6 0.8 0.7-0.4 0.6 0.6 0.7 0.1 0.6 1.3 0.7 0.8 0.6 1.5 0.7-0.2 0.6 1 0.7 0.6 0.6 0.7 0.7 0.7 0.6 1.6 0.7 1.1 0.6 1 0.7-0.2 0.6 0.9 0.7 0.2 0.7 1.1 0.6 0.9 0.7 2 0.6 1 0.7 0.9 0.6 0.7 0.7 0.2 0.6 0.2 0.7 1.2 0.6 0.8 0.7 0.9 0.6 0.9 0.7 1.4 0.6-0.1 0.7 1.5 0.6 0.5 0.7 0.7 0.6 1.5 0.7 1.7 0.6 1 0.7 1.3 0.6 1.2 0.7 0.3 0.6 0.2 0.7 0.3 0.6 0.4 0.7 1.4 0.6 1.4 0.7 2 0.6 2.4 0.7 1 0.6 1.4 0.7 1.5 0.6 1.4 0.7 0.2 0.6 1.4 0.7 1.2 0.6 0.9 0.7 1.2 0.6 2 0.7 1.7 0.6 1.3 0.7 2 0.6 1.1 0.7 1.8 0.7 1.6 0.6 1.9 0.7 1.5 0.6 2.3 0.7 1.2 0.6 2.2 0.7 1.6 0.6 1.3 0.7 1.9 0.6 2.1 0.7 1.4 0.6 2.1 0.7 2.2 0.6 1.9 0.7 1.8 0.6 2.1 0.7 2.2 0.6 1.9 0.7 2 0.6 2.4 0.7 2.5 0.6 2.1 0.7 2.5 0.6 2.1 0.7 1.9 0.6 2.2 0.7 2.1 0.6 1.8 0.7 2 0.6 2.1 0.7 1.3 0.6 1.7 0.7 1.9 0.6 1.7 0.7 1.5 0.6 1.7 0.7 1.8 0.6 1.6 0.7 1.7 0.6 1.7 0.7 1.6 0.6 1.5 0.7 1.7 0.6 1.7 0.7 1.6 0.7 1.8 0.6 1.6 0.7 1.6 0.6 1.5 0.7 2 0.6 1.8 0.7 1.9 0.6 1.6 0.7 1.7 0.6 1.8 0.7 1.6 0.6 1.9 0.7 2 0.6 1.6 0.7 1.7 0.6 1.6 0.7 1.4 0.6 1.6 0.7 1.5 0.6 1.8 0.7 1.8 0.6 1.4 0.7 1.4 0.6 1.5 0.7 0.9 0.6 0.8 0.7 0.9 0.6 0.5 0.7 0.6 0.6 0.8 0.7 0.7 0.6 0.2 0.7 0.4 0.6 0.1 0.7 0.3 0.6 0.2 0.7 0.3 0.6 0.3 0.7 0.4 0.6 0 0.7 0.2 0.6 0.4 0.7 0.1 0.7-0.1 0.6-0.1 0.7-0.2 0.6-0.3 0.7-0.3 0.6 0.1 0.7-0.2 0.6-0.1 0.7-0.4 0.6-0.6 0.7-0.3 0.6-0.5 0.7-0.3 0.6-0.5 0.7-0.2 0.6-0.6 0.7-0.4 0.6-0.9 0.7-0.6 0.6-0.9 0.7-1.1 0.6-1.3 0.7-1.2 0.6-1.6 0.7-1.6 0.6-1.8 0.7-1.6 0.6-1.7 0.7-1.7 0.6-1.4 0.7-1.7 0.6-2 0.7-1.6 0.6-1.6 0.7-1.8 0.6-1.7 0.7-1.5 0.6-1.9 0.7-1.6 0.6-1.8 0.7-1.6 0.6-1.7 0.7-1.6 0.6-1.7 0.7-1.6 0.7-1.6 0.6-1.7 0.7-1.3 0.6-1.6 0.7-1.6 0.6-1.4 0.7-1.3 0.6-1.8 0.7-1.4 0.6-1.8 0.7-1.7 0.6-2.1 0.7-1.7 0.6-2.1 0.7-2 0.6-1.9 0.7-2 0.6-2.7 0.7-1.9 0.6-2.1 0.7-2.4 0.6-2 0.7-1.7 0.6-2.2 0.7-2.2 0.6-2.4 0.7-2.2 0.6-2.5 0.7-2.5 0.6-2 0.7-1.6 0.6-2.4 0.7-1.9 0.6-1.1 0.7-1.5 0.6-2 0.7-1.7 0.6-1.8 0.7-2.4 0.6-2.2 0.7-2.1 0.6-1.1 0.7-1.6 0.6-1.7 0.7-1.6 0.7-1.3 0.6-1.6 0.7-0.9 0.6-1.5 0.7-1.4 0.6-1.3 0.7-2 0.6-1.5 0.7-0.9 0.6-1.1 0.7-1.3 0.6-0.9 0.7-1.7 0.6-1.7 0.7-1.7 0.6-1.4 0.7-1.1 0.6-1.1 0.7-0.9 0.6-0.8 0.7-0.5 0.6-1.1 0.7-0.6 0.6-1.2 0.7-1.6 0.6-2.2 0.7-1.3 0.6-1.1 0.7-1.1 0.6-0.4 0.7 0.2 0.6-0.5 0.7-0.8 0.6-0.3 0.7-1.4 0.6-0.9 0.7-0.6 0.6-1.3 0.7-0.8 0.6 0.2 0.7-0.7 0.6-1.2 0.7-0.7 0.6-1.2 0.7-1 0.7-0.8 0.6-0.9 0.7 0 0.6-0.5 0.7-0.4 0.6-0.9 0.7-0.2 0.6-1.9 0.7 0.5 0.6-1.9 0.7-0.5 0.6-0.9 0.7-0.4 0.6-1.6 0.7 0 0.6-1.3 0.7-0.4 0.6 0.2 0.7-1.1 0.6-0.7 0.7 0.4 0.6-1.3 0.7-1 0.6 0.8 0.7-0.1 0.6-2.1 0.7-0.7 0.6-0.5 0.7-0.9 0.6-0.8 0.7-0.1 0.6 0.1 0.7-0.2 0.6-1 0.7-1 0.6 0.2 0.7-0.4 0.6-0.9 0.7-1.7 0.6-0.1 0.7-0.7 0.6 0.6 0.7-0.8 0.7 0 0.6-0.4 0.7 0.9 0.6-1.1 0.7 0.1 0.6-1.1 0.7-0.8 0.6-2 0.7-1.1 0.6-1.1 0.7 1.2 0.6 0.3 0.7 0.6 0.6 0.1 0.7 0.4 0.6-1 0.7-0.3 0.6-1.1 0.7-0.1 0.6-1.7 0.7-0.1 0.6-2.2 0.7-1.2 0.6-0.3 0.7 0.2 0.6-1 0.7 1.7 0.6 0.1 0.7-1 0.6-0.1 0.7 0.4 0.6-1.2 0.7-0.3 0.6-0.4 0.7 0.1 0.6-0.8 0.7 0 0.6-0.4 0.7 0.8 0.6-1.5 0.7-0.6 0.6-1.2 0.7-0.7 0.6-1.1 0.7-0.8 0.7 0.1 0.6-0.4 0.7-0.2 0.6-1.8 0.7 0.8 0.6-0.3 0.7-0.4 0.6 1 0.7 0.3 0.6-0.2 0.7-2 0.6-0.2 0.7-1.5 0.6-0.1 0.7-0.3 0.6 0.6 0.7-0.9 0.6 0 0.7-0.8 0.6-0.2 0.7-0.7 0.6-0.2 0.7-0.6 0.6-0.3 0.7-1.3 0.6-1 0.7-0.9 0.6-1.1 0.7-0.3 0.6 0.4 0.7-0.6 0.6-0.7 0.7-0.8 0.6-1.9 0.7-1.2 0.6 0 0.7-0.7 0.6 0.1 0.7-0.1 0.6-1 0.7-1 0.6-0.7 0.7-0.7 0.6-0.1 0.7 0.6 0.7-0.1 0.6 0.5 0.7-0.9 0.6-0.8 0.7-1.9 0.6-0.9 0.7 0 0.6-0.9 0.7-1 0.6 0.1 0.7-0.7 0.6-2.6 0.7-1.1 0.6-1 0.7-1.6 0.6-1.1 0.7 0.5 0.6-0.4 0.7 0 0.6 0 0.7-0.6 0.6-0.8 0.7-0.8 0.6-0.2 0.7-2.1 0.6-0.1 0.7-0.5 0.6-0.6 0.7-0.7 0.6 0.9 0.7-1.2 0.6 0.7 0.7 0.1 0.6-0.6 0.7-0.7 0.6-0.9 0.7-2.6 0.6-1.7 0.7-1.9 0.6-1.4 0.7-0.4 0.6-1 0.7 0.6 0.6 0 0.7-1 0.7-1.2 0.6 0.5 0.7-1 0.6-1.3 0.7-0.4 0.6-1 0.7-0.6 0.6-0.5 0.7-0.3 0.6 0 0.7-0.3 0.6-1.8 0.7-1.7 0.6-0.9 0.7-1.7 0.6-1.3 0.7-1 0.6-0.1 0.7-1.6 0.6-0.8 0.7-0.7 0.6-1 0.7-0.8 0.6-0.6 0.7-0.6 0.6-0.2 0.7-1.6 0.6-1.7 0.7-0.9 0.6-1.9 0.7-2.5 0.6 0.6 0.7-0.9 0.6-1.2 0.7-0.3 0.6 1.5 0.7-2.1 0.6-1.5 0.7-1.1 0.6-1.4 0.7-2.4 0.6-1 0.7-0.8 0.7-0.3 0.6-0.9 0.7-1.2 0.6-0.3 0.7-1.3 0.6-1.6 0.7-1 0.6 0.7 0.7-1.4 0.6-0.2 0.7 0.1 0.6-0.7 0.7-1.4 0.6-1.4 0.7-1.2 0.6-1.1 0.7-1.3 0.6-1.9 0.7-0.5 0.6-0.1 0.7-1.5 0.6-1 0.7-1.4 0.6-0.3 0.7-2.5 0.6-1.7 0.7-0.9 0.6-0.4 0.7-1.2 0.6 0 0.7-0.2 0.6-1.1 0.7-1.8 0.6-1.8 0.7-1 0.6-1.5 0.7-0.6 0.6-1.9 0.7-1.3 0.6-2.6 0.7-2.1 0.6-1.8 0.7-1.4 0.6-2.2 0.7-1.4" fill="none" stroke="#53ae6e" stroke-width="4" stroke-linejoin="round"/>
<rect x="820.3" y="46.6" width="520.9" height="433.8" fill="none" stroke="#000" stroke-width="2.2"/>
<line x1="820.3" y1="480.4" x2="820.3" y2="472.4" stroke="#000" stroke-width="2"/>
<line x1="872.39" y1="480.4" x2="872.39" y2="472.4" stroke="#000" stroke-width="2"/>
<line x1="924.48" y1="480.4" x2="924.48" y2="472.4" stroke="#000" stroke-width="2"/>
<line x1="976.57" y1="480.4" x2="976.57" y2="472.4" stroke="#000" stroke-width="2"/>
<line x1="1028.66" y1="480.4" x2="1028.66" y2="472.4" stroke="#000" stroke-width="2"/>
<line x1="1080.75" y1="480.4" x2="1080.75" y2="472.4" stroke="#000" stroke-width="2"/>
<line x1="1132.84" y1="480.4" x2="1132.84" y2="472.4" stroke="#000" stroke-width="2"/>
<line x1="1184.93" y1="480.4" x2="1184.93" y2="472.4" stroke="#000" stroke-width="2"/>
<line x1="1237.02" y1="480.4" x2="1237.02" y2="472.4" stroke="#000" stroke-width="2"/>
<line x1="1289.11" y1="480.4" x2="1289.11" y2="472.4" stroke="#000" stroke-width="2"/>
<line x1="1341.2" y1="480.4" x2="1341.2" y2="472.4" stroke="#000" stroke-width="2"/>
<line x1="846.34" y1="480.4" x2="846.34" y2="476.4" stroke="#000" stroke-width="2"/>
<line x1="898.43" y1="480.4" x2="898.43" y2="476.4" stroke="#000" stroke-width="2"/>
<line x1="950.52" y1="480.4" x2="950.52" y2="476.4" stroke="#000" stroke-width="2"/>
<line x1="1002.62" y1="480.4" x2="1002.62" y2="476.4" stroke="#000" stroke-width="2"/>
<line x1="1054.7" y1="480.4" x2="1054.7" y2="476.4" stroke="#000" stroke-width="2"/>
<line x1="1106.8" y1="480.4" x2="1106.8" y2="476.4" stroke="#000" stroke-width="2"/>
<line x1="1158.88" y1="480.4" x2="1158.88" y2="476.4" stroke="#000" stroke-width="2"/>
<line x1="1210.97" y1="480.4" x2="1210.97" y2="476.4" stroke="#000" stroke-width="2"/>
<line x1="1263.07" y1="480.4" x2="1263.07" y2="476.4" stroke="#000" stroke-width="2"/>
<line x1="1315.15" y1="480.4" x2="1315.15" y2="476.4" stroke="#000" stroke-width="2"/>
<line x1="820.3" y1="454.88" x2="828.3" y2="454.88" stroke="#000" stroke-width="2"/>
<line x1="820.3" y1="327.29" x2="828.3" y2="327.29" stroke="#000" stroke-width="2"/>
<line x1="820.3" y1="199.71" x2="828.3" y2="199.71" stroke="#000" stroke-width="2"/>
<line x1="820.3" y1="72.12" x2="828.3" y2="72.12" stroke="#000" stroke-width="2"/>
<line x1="820.3" y1="391.09" x2="824.3" y2="391.09" stroke="#000" stroke-width="2"/>
<line x1="820.3" y1="263.5" x2="824.3" y2="263.5" stroke="#000" stroke-width="2"/>
<line x1="820.3" y1="135.91" x2="824.3" y2="135.91" stroke="#000" stroke-width="2"/>
<text x="820.3" y="514.5" font-size="31" text-anchor="middle">-5</text>
<text x="872.39" y="514.5" font-size="31" text-anchor="middle">-4</text>
<text x="924.48" y="514.5" font-size="31" text-anchor="middle">-3</text>
<text x="976.57" y="514.5" font-size="31" text-anchor="middle">-2</text>
<text x="1017.05" y="514.5" font-size="31">-</text>
<use href="#g1" transform="translate(1027.37 514.5) scale(0.01514 -0.01514)"/>
<text x="1080.75" y="514.5" font-size="31" text-anchor="middle">0</text>
<use href="#g1" transform="translate(1125.37 514.5) scale(0.01514 -0.01514)"/>
<text x="1184.93" y="514.5" font-size="31" text-anchor="middle">2</text>
<text x="1237.02" y="514.5" font-size="31" text-anchor="middle">3</text>
<text x="1289.11" y="514.5" font-size="31" text-anchor="middle">4</text>
<text x="1341.2" y="514.5" font-size="31" text-anchor="middle">5</text>
<text x="810.5" y="465.88" font-size="31" text-anchor="end">0</text>
<use href="#g1" transform="translate(758.79 338.29) scale(0.01514 -0.01514)"/>
<text x="776.03" y="338.29" font-size="31">00</text>
<text x="810.5" y="210.71" font-size="31" text-anchor="end">200</text>
<text x="810.5" y="83.12" font-size="31" text-anchor="end">300</text>
<text x="1047.7" y="552.1" font-size="31" font-style="italic">B</text>
<text x="1076.7" y="552.1" font-size="31">(T)</text>
<g transform="translate(740.6 331.5) rotate(-90)">
<text x="0" y="0" font-size="31" font-style="italic">MR</text>
<text x="45.5" y="6.5" font-size="18">drag</text>
<text x="90" y="0" font-size="31">(%)</text>
</g>
<line x1="825" y1="278.3" x2="895.7" y2="278.3" stroke="#464244" stroke-width="4.2"/>
<text x="902" y="288.5" font-size="30">300 K</text>
<line x1="825" y1="315.8" x2="895.7" y2="315.8" stroke="#e2464a" stroke-width="4.2"/>
<text x="902" y="326" font-size="30">250 K</text>
<line x1="1176" y1="278" x2="1245.2" y2="278" stroke="#3d6db5" stroke-width="4.2"/>
<text x="1252" y="288.5" font-size="30">200 K</text>
<line x1="1176" y1="315.6" x2="1245.2" y2="315.6" stroke="#53ae6e" stroke-width="4.2"/>
<use href="#g1" transform="translate(1252 326) scale(0.01465 -0.01465)"/>
<text x="1268.68" y="326" font-size="30">50 K</text>
<rect x="1058.2" y="280.3" width="44.2" height="43.6" fill="none" stroke="#000" stroke-width="2"/>
<text x="1080.3" y="315" font-size="34.5" text-anchor="middle">2</text>
<rect x="1005" y="62.6" width="155.4" height="156.3" fill="#fff" stroke="none"/>
<line x1="1005" y1="204.6" x2="1160.4" y2="204.6" stroke="#000" stroke-width="1.7" stroke-dasharray="4.3 3.7" stroke-dashoffset="1"/>
<path d="M1009.8 69l0.6 1.2 0.6 1.1 0.6 1.2 0.6 1.1 0.6 1.2 0.6 1.1 0.6 1.2 0.6 1.2 0.6 1.1 0.7 1.2 0.6 1.1 0.6 1.2 0.6 1.1 0.6 1.2 0.6 1.1 0.6 1.1 0.6 1.2 0.6 1.1 0.6 1.2 0.7 1.1 0.6 1.2 0.6 1.2 0.6 1.1 0.6 1.2 0.6 1.2 0.6 1.2 0.6 1.1 0.6 1.2 0.6 1.1 0.7 1.2 0.6 1.1 0.6 1.1 0.6 1 0.6 1.1 0.6 1 0.6 1 0.6 1 0.6 1 0.7 0.9 0.6 1 0.6 0.9 0.6 0.9 0.6 0.9 0.6 1 0.6 0.9 0.6 0.9 0.6 0.9 0.6 0.9 0.7 0.9 0.6 0.9 0.6 0.9 0.6 0.9 0.6 0.9 0.6 1 0.6 0.9 0.6 1 0.6 0.9 0.6 1 0.7 0.9 0.6 1 0.6 0.9 0.6 0.9 0.6 1 0.6 0.9 0.6 0.9 0.6 0.9 0.6 0.9 0.7 0.9 0.6 0.8 0.6 0.8 0.6 0.9 0.6 0.8 0.6 0.8 0.6 0.8 0.6 0.8 0.6 0.9 0.6 0.9 0.7 0.9 0.6 0.9 0.6 1 0.6 1 0.6 1.1 0.6 1 0.6 1.2 0.6 1.1 0.6 1.2 0.6 1.2 0.7 1.2 0.6 1.3 0.6 1.3 0.6 1.3 0.6 1.4 0.6 1.4 0.6 1.4 0.6 1.5 0.6 1.5 0.6 1.5 0.7 1.6 0.6 1.5 0.6 1.6 0.6 1.5 0.6 1.6 0.6 1.6 0.6 1.5 0.6 1.5 0.6 1.6 0.7 1.5 0.6 1.7 0.6 1.6 0.6 1.6 0.6 1.5 0.6 1.5 0.6 1.4 0.6 1.3 0.6 1.3 0.6 1.2 0.7 1.2 0.6 1.1 0.6 1.1 0.6 1 0.6-1 0.6-1.1 0.6-1.1 0.6-1.2 0.6-1.2 0.6-1.3 0.7-1.3 0.6-1.4 0.6-1.5 0.6-1.5 0.6-1.6 0.6-1.6 0.6-1.7 0.6-1.5 0.6-1.6 0.7-1.5 0.6-1.5 0.6-1.6 0.6-1.6 0.6-1.5 0.6-1.6 0.6-1.5 0.6-1.6 0.6-1.5 0.6-1.5 0.7-1.5 0.6-1.4 0.6-1.4 0.6-1.4 0.6-1.3 0.6-1.3 0.6-1.3 0.6-1.2 0.6-1.2 0.6-1.2 0.7-1.1 0.6-1.2 0.6-1 0.6-1.1 0.6-1 0.6-1 0.6-0.9 0.6-0.9 0.6-0.9 0.7-0.9 0.6-0.8 0.6-0.8 0.6-0.8 0.6-0.8 0.6-0.9 0.6-0.8 0.6-0.8 0.6-0.9 0.6-0.9 0.7-0.9 0.6-0.9 0.6-0.9 0.6-1 0.6-0.9 0.6-0.9 0.6-1 0.6-0.9 0.6-1 0.6-0.9 0.7-1 0.6-0.9 0.6-1 0.6-0.9 0.6-0.9 0.6-0.9 0.6-0.9 0.6-0.9 0.6-0.9 0.6-0.9 0.7-0.9 0.6-0.9 0.6-1 0.6-0.9 0.6-0.9 0.6-0.9 0.6-1 0.6-0.9 0.6-1 0.7-1 0.6-1 0.6-1 0.6-1.1 0.6-1 0.6-1.1 0.6-1.1 0.6-1.2 0.6-1.1 0.6-1.2 0.7-1.1 0.6-1.2 0.6-1.2 0.6-1.2 0.6-1.1 0.6-1.2 0.6-1.2 0.6-1.1 0.6-1.2 0.6-1.1 0.7-1.2 0.6-1.1 0.6-1.1 0.6-1.2 0.6-1.1 0.6-1.2 0.6-1.1 0.6-1.2 0.6-1.1 0.7-1.2 0.6-1.2 0.6-1.1 0.6-1.2 0.6-1.1 0.6-1.2 0.6-1.1 0.6-1.2" fill="none" stroke="#111" stroke-width="4" stroke-linejoin="round" stroke-linecap="round"/>
<rect x="1005" y="62.6" width="155.4" height="156.3" fill="none" stroke="#000" stroke-width="2"/>
<line x1="1017.45" y1="218.9" x2="1017.45" y2="215.1" stroke="#000" stroke-width="1.7"/>
<line x1="1050.22" y1="218.9" x2="1050.22" y2="215.1" stroke="#000" stroke-width="1.7"/>
<line x1="1082.99" y1="218.9" x2="1082.99" y2="215.1" stroke="#000" stroke-width="1.7"/>
<line x1="1115.75" y1="218.9" x2="1115.75" y2="215.1" stroke="#000" stroke-width="1.7"/>
<line x1="1148.52" y1="218.9" x2="1148.52" y2="215.1" stroke="#000" stroke-width="1.7"/>
<line x1="1033.84" y1="218.9" x2="1033.84" y2="216.9" stroke="#000" stroke-width="1.7"/>
<line x1="1066.6" y1="218.9" x2="1066.6" y2="216.9" stroke="#000" stroke-width="1.7"/>
<line x1="1099.37" y1="218.9" x2="1099.37" y2="216.9" stroke="#000" stroke-width="1.7"/>
<line x1="1132.14" y1="218.9" x2="1132.14" y2="216.9" stroke="#000" stroke-width="1.7"/>
<line x1="1005" y1="204.64" x2="1008.8" y2="204.64" stroke="#000" stroke-width="1.7"/>
<line x1="1005" y1="90.55" x2="1008.8" y2="90.55" stroke="#000" stroke-width="1.7"/>
<line x1="1005" y1="147.6" x2="1007.2" y2="147.6" stroke="#000" stroke-width="1.7"/>
<line x1="1005" y1="176.12" x2="1006.5" y2="176.12" stroke="#000" stroke-width="1.5"/>
<line x1="1005" y1="119.07" x2="1006.5" y2="119.07" stroke="#000" stroke-width="1.5"/>
<text x="1017.45" y="242.3" font-size="25" text-anchor="middle">-8</text>
<text x="1082.99" y="242.3" font-size="25" text-anchor="middle">0</text>
<text x="1148.52" y="242.3" font-size="25" text-anchor="middle">8</text>
<text x="998.2" y="213.64" font-size="25" text-anchor="end">0</text>
<text x="998.2" y="99.55" font-size="25" text-anchor="end">80</text>
<text x="1049" y="99.2" font-size="25">300 K</text>
<text x="710" y="83.8" font-size="52" font-weight="bold">b</text>
<line x1="120.9" y1="1000.73" x2="641.9" y2="1000.73" stroke="#000" stroke-width="2.1" stroke-dasharray="10.3 9.7" stroke-dashoffset="12.2"/>
<path d="M120.9 642.1l0.7 0.8 0.6 0.9 0.7 0.8 0.6 0.7 0.7 1 0.6 0.9 0.7 0.9 0.6 0.5 0.7 0.7 0.6 0.7 0.7 0.8 0.6 0.9 0.7 0.4 0.6 0.9 0.7 0.8 0.6 0.8 0.7 0.6 0.6 0.9 0.7 1 0.6 0.8 0.7 0.9 0.6 1 0.7 1 0.6 0.6 0.7 0.7 0.6 1 0.7 0.6 0.6 0.3 0.7 0.6 0.6 0.8 0.7 0.4 0.6 0.4 0.7 0.7 0.6 0.8 0.7 0.5 0.6 0.6 0.7 0.9 0.6 0.8 0.7 0.6 0.7 0.6 0.6 1.1 0.7 0.8 0.6 0.7 0.7 1.1 0.6 0.7 0.7 0.8 0.6 0.6 0.7 0.3 0.6 0.5 0.7 0.3 0.6 0.6 0.7 0.6 0.6 0.8 0.7 0.8 0.6 0.6 0.7 1.1 0.6 0.6 0.7 0.9 0.6 0.3 0.7 0.7 0.6 0.8 0.7 0.2 0.6 0.8 0.7 0.4 0.6 0.8 0.7 0.4 0.6 0.6 0.7 0.4 0.6 0.3 0.7 0.7 0.6 0.4 0.7 0.4 0.6 0.1 0.7 1 0.6 0.4 0.7 0.4 0.6 0.6 0.7 0.9 0.6 0.6 0.7 0.4 0.7 0.5 0.6 0.4 0.7 0.7 0.6 0.3 0.7 0.9 0.6 0.3 0.7 0.3 0.6 0.3 0.7 0.5 0.6 0.5 0.7 0.1 0.6 0.3 0.7 0.6 0.6 1 0.7 0.1 0.6 0.4 0.7 0.6 0.6 0.8 0.7 0.5 0.6 0.3 0.7 0.6 0.6 0.5 0.7 0.7 0.6 0.4 0.7 0.4 0.6 0.6 0.7 0.7 0.6 0.3 0.7 0.2 0.6 0.1 0.7 0.7 0.6 0.6 0.7 0.5 0.6 0.5 0.7 0.2 0.6 1 0.7 0.7 0.6 0.3 0.7 0.5 0.7 0.8 0.6 1 0.7 0.4 0.6 0.2 0.7 0.7 0.6 0.2 0.7 0.6 0.6 0.5 0.7 0.9 0.6 1 0.7 0.4 0.6 0.8 0.7 0.4 0.6 0.5 0.7 0 0.6 0.1 0.7 0.5 0.6 0.5 0.7 0.8 0.6 0.7 0.7 0.9 0.6 0.8 0.7 0.8 0.6 0.6 0.7 0.3 0.6 0.5 0.7 0.8 0.6 0.4 0.7 0.4 0.6 0.3 0.7 0.5 0.6 0.6 0.7 0.4 0.6 0.2 0.7 0.4 0.6 0.5 0.7 0.3 0.6 0.5 0.7 0.4 0.6 0.8 0.7 0.6 0.7 0.8 0.6 0.9 0.7 0.4 0.6 0.9 0.7 0.7 0.6 0.7 0.7 0.7 0.6 0.7 0.7 0.5 0.6 0.2 0.7 0.5 0.6 0.5 0.7 0.6 0.6 0.6 0.7 0.7 0.6 0.9 0.7 0.6 0.6 0.7 0.7 0.5 0.6 0.8 0.7 0.5 0.6 0.7 0.7 0.8 0.6 0.7 0.7 0.8 0.6 0.4 0.7 1 0.6 0.7 0.7 0.7 0.6 0.4 0.7 0.6 0.6 1 0.7 0.6 0.6 0.8 0.7 0.2 0.6 1.2 0.7 0.7 0.6 0.4 0.7 1 0.7 0.5 0.6 0.8 0.7 0.5 0.6 0.8 0.7 0.7 0.6 0.5 0.7 0.8 0.6 1 0.7 0.9 0.6 1 0.7 0.9 0.6 0.9 0.7 1.1 0.6 0.8 0.7 0.7 0.6 0.6 0.7 1 0.6 0.7 0.7 0.8 0.6 0.9 0.7 1.1 0.6 1.4 0.7 0.7 0.6 1.1 0.7 0.9 0.6 1 0.7 1.1 0.6 0.5 0.7 0.7 0.6 0.4 0.7 0.7 0.6 0.4 0.7 0.6 0.6 0.9 0.7 0.9 0.6 1 0.7 0.9 0.6 1 0.7 0.6 0.6 0.7 0.7 1.1 0.7 1 0.6 0.8 0.7 0.9 0.6 0.9 0.7 0.4 0.6 0.7 0.7 0.8 0.6 0.7 0.7 0.7 0.6 0.8 0.7 1.2 0.6 0.7 0.7 0.7 0.6 0.9 0.7 1.1 0.6 1 0.7 0.7 0.6 0.9 0.7 1.3 0.6 0.9 0.7 1 0.6 0.9 0.7 1.2 0.6 1.2 0.7 0.7 0.6 1.2 0.7 1 0.6 1 0.7 1.1 0.6 1.2 0.7 1.3 0.6 1.1 0.7 0.9 0.6 1.2 0.7 1.1 0.6 0.8 0.7 1.2 0.6 1.2 0.7 1.3 0.6 1.3 0.7 1.3 0.7 1.6 0.6 1.5 0.7 1.4 0.6 1.5 0.7 1.5 0.6 1.6 0.7 1.4 0.6 1.5 0.7 1.8 0.6 1.6 0.7 1.7 0.6 1.5 0.7 1.6 0.6 1.8 0.7 1.6 0.6 1.7 0.7 1.4 0.6 1.9 0.7 1.6 0.6 1.1 0.7 1.7 0.6 1.5 0.7 1.7 0.6 1.5 0.7 1.8 0.6 2 0.7 1.4 0.6 1.7 0.7 1.4 0.6 1.8 0.7 1.4 0.6 1.3 0.7 1.8 0.6 1.7 0.7 1.9 0.6 1.6 0.7 1.6 0.6 1.9 0.7 1.7 0.7 1.6 0.6 1.5 0.7 1.6 0.6 2 0.7 1.7 0.6 1.7 0.7 1.7 0.6 1.9 0.7 1.6 0.6 1.4 0.7 1.6 0.6 1.6 0.7 1.7 0.6 1.6 0.7 1.7 0.6 1.7 0.7 1.7 0.6 1.6 0.7 1.6 0.6 1.7 0.7 1.8 0.6 1.7 0.7 1.7 0.6 1.9 0.7 1.7 0.6 1.6 0.7 1.7 0.6 1.6 0.7 1.6 0.6 1.5 0.7 1.9 0.6 1.7 0.7 1.6 0.6 1.6 0.7 1.6 0.6 1.5 0.7 1.5 0.6 1.7 0.7 1.5 0.7 1.6 0.6 1.5 0.7 1.6 0.6 1.3 0.7 1.4 0.6 1.4 0.7 1.3 0.6 1.3 0.7 1.3 0.6 1.3 0.7 1.2 0.6 1.3 0.7 1.3 0.6 1.2 0.7 1.3 0.6 1.2 0.7 1.2 0.6 1.2 0.7 1.1 0.6 1 0.7 1.1 0.6 0.9 0.7 1 0.6 0.8 0.7 0.8 0.6 0.7 0.7 0.6 0.6 0.5 0.7 0.5 0.6 0.6 0.7 0.6 0.6 0.4 0.7 0.5 0.6 0.4 0.7 0.5 0.6 0.2 0.7 0.3 0.6 0.3 0.7 0.2 0.6 0.2 0.7 0.1 0.7 0 0.6-0.2 0.7-0.2 0.6-0.3 0.7-0.3 0.6-0.4 0.7-0.4 0.6-0.5 0.7-0.5 0.6-0.5 0.7-0.6 0.6-0.5 0.7-0.5 0.6-0.5 0.7-0.6 0.6-0.7 0.7-0.6 0.6-0.9 0.7-0.8 0.6-1 0.7-1 0.6-1 0.7-1.2 0.6-1.1 0.7-1.2 0.6-1.3 0.7-1.3 0.6-1.3 0.7-1.3 0.6-1.3 0.7-1.3 0.6-1.3 0.7-1.1 0.6-1.4 0.7-1.3 0.6-1.3 0.7-1.5 0.6-1.3 0.7-1.5 0.7-1.5 0.6-1.4 0.7-1.6 0.6-1.6 0.7-1.7 0.6-1.6 0.7-1.6 0.6-1.7 0.7-1.7 0.6-1.6 0.7-1.6 0.6-1.7 0.7-1.8 0.6-1.7 0.7-1.7 0.6-1.7 0.7-1.6 0.6-1.6 0.7-1.6 0.6-1.8 0.7-1.7 0.6-1.6 0.7-1.8 0.6-1.4 0.7-1.8 0.6-1.6 0.7-1.5 0.6-1.7 0.7-1.7 0.6-1.8 0.7-1.7 0.6-1.6 0.7-1.8 0.6-1.6 0.7-1.7 0.6-1.7 0.7-1.6 0.6-1.7 0.7-1.6 0.6-1.8 0.7-1.5 0.7-1.7 0.6-1.7 0.7-1.5 0.6-1.8 0.7-1.5 0.6-1.8 0.7-1.7 0.6-1.7 0.7-1.7 0.6-1.6 0.7-1.8 0.6-1.6 0.7-1.6 0.6-1.5 0.7-1.7 0.6-1.7 0.7-1.5 0.6-1.6 0.7-1.6 0.6-1.6 0.7-1.4 0.6-1.6 0.7-1.7 0.6-1.5 0.7-1.8 0.6-1.9 0.7-1.7 0.6-1.7 0.7-1.5 0.6-1.6 0.7-1.6 0.6-1.4 0.7-1.6 0.6-1.3 0.7-1.7 0.6-1.4 0.7-1.3 0.6-1.3 0.7-1.4 0.7-1.6 0.6-1.3 0.7-1.5 0.6-1.1 0.7-1.3 0.6-1.1 0.7-0.9 0.6-1.1 0.7-1 0.6-1.3 0.7-1.3 0.6-1 0.7-1 0.6-0.8 0.7-1 0.6-1.1 0.7-1 0.6-1.2 0.7-0.9 0.6-1 0.7-0.9 0.6-0.7 0.7-0.7 0.6-0.9 0.7-1.3 0.6-1.1 0.7-0.9 0.6-1.1 0.7-1.1 0.6-0.7 0.7-0.7 0.6-1 0.7-0.8 0.6-0.8 0.7-0.7 0.6-1 0.7-0.9 0.6-0.7 0.7-1 0.6-0.7 0.7-0.7 0.7-0.8 0.6-0.6 0.7-0.6 0.6-0.5 0.7-0.9 0.6-0.9 0.7-0.6 0.6-1 0.7-1.3 0.6-1 0.7-1.2 0.6-0.8 0.7-0.8 0.6-0.7 0.7-0.4 0.6-1 0.7-0.4 0.6-1 0.7-1.1 0.6-0.5 0.7-1.2 0.6-1 0.7-0.9 0.6-0.8 0.7-0.5 0.6-1.2 0.7-0.5 0.6-0.7 0.7-0.6 0.6-0.3 0.7-1.2 0.6-1.2 0.7-1 0.6-0.9 0.7-1.1 0.6-1.2 0.7-0.8 0.6-0.7 0.7-0.6 0.6-0.8 0.7-0.7 0.7-0.6 0.6-0.9 0.7-0.8 0.6-0.7 0.7-0.9 0.6-0.7 0.7-0.9 0.6-0.7 0.7-0.4 0.6-0.9 0.7-0.6 0.6-0.9 0.7-0.9 0.6-0.2 0.7-0.3 0.6-0.8 0.7-0.3 0.6-0.4 0.7-0.4 0.6-0.8 0.7-0.7 0.6-0.7 0.7-0.6 0.6-0.6 0.7-0.7 0.6-0.9 0.7-0.6 0.6-0.3 0.7-0.7 0.6-0.7 0.7-0.7 0.6-0.3 0.7-0.9 0.6-0.5 0.7-0.7 0.6-0.5 0.7-0.3 0.6-0.7 0.7-0.6 0.7-1 0.6-0.4 0.7-0.6 0.6-0.9 0.7-0.2 0.6-0.2 0.7 0 0.6-0.6 0.7-0.9 0.6-0.4 0.7-1.1 0.6-0.7 0.7-0.4 0.6-0.2 0.7-0.3 0.6-0.5 0.7-0.1 0.6-0.8 0.7-0.7 0.6-1.1 0.7-0.6 0.6-0.4 0.7-0.6 0.6-0.5 0.7-0.6 0.6-0.5 0.7-0.1 0.6-0.8 0.7-0.8 0.6-0.3 0.7-0.6 0.6-0.4 0.7-0.5 0.6-0.3 0.7-0.5 0.6-0.7 0.7-0.5 0.6-0.8 0.7-0.8 0.7-0.4 0.6-0.8 0.7-0.7 0.6-0.7 0.7-0.2 0.6-0.5 0.7-0.6 0.6-0.3 0.7-0.5 0.6-0.6 0.7-0.7 0.6-0.6 0.7-0.6 0.6-0.7 0.7-0.4 0.6-0.4 0.7-0.5 0.6-0.8 0.7-0.6 0.6-0.3 0.7-0.7 0.6-0.5 0.7-0.3 0.6-0.2 0.7-0.3 0.6-0.4 0.7-0.2 0.6-0.4 0.7-0.5 0.6-0.3 0.7-0.5 0.6-0.7 0.7-0.3 0.6-0.4 0.7-1 0.6-0.4 0.7-0.8 0.6-0.5 0.7-0.6 0.6-0.3 0.7-0.2 0.7-0.7 0.6-0.4 0.7-0.3 0.6-0.7 0.7-1 0.6-0.3 0.7-0.6 0.6-0.4 0.7-0.4 0.6-0.3 0.7-0.6 0.6-0.8 0.7-0.1 0.6-0.5 0.7-0.6 0.6-0.6 0.7-0.2 0.6-0.2 0.7-1 0.6-0.5 0.7-0.6 0.6-0.5 0.7-0.6 0.6-1 0.7-0.6 0.6-0.7 0.7-0.6 0.6-0.7 0.7-0.9 0.6-0.6 0.7-0.6 0.6-0.8 0.7-0.8 0.6-0.8 0.7-0.3 0.6-0.9 0.7-0.5 0.6-0.7 0.7-1 0.7-0.7 0.6-1 0.7-0.4 0.6-0.5 0.7-0.9 0.6-0.7 0.7-0.5 0.6-0.9 0.7-0.6 0.6-0.9 0.7-0.7 0.6-0.6 0.7-0.9 0.6-0.4 0.7-0.7 0.6-0.6 0.7-0.4 0.6-0.6 0.7-0.4 0.6-0.9 0.7-0.8 0.6-0.7 0.7-1.3 0.6-0.8 0.7-0.8 0.6-0.9 0.7-1 0.6-0.9 0.7-0.1 0.6-0.7 0.7-1.2 0.6-0.5 0.7-0.4 0.6-1 0.7-1.2 0.6-0.7 0.7-0.5 0.6-0.6 0.7-1.3 0.6-0.7 0.7-0.6" fill="none" stroke="#464244" stroke-width="4" stroke-linejoin="round"/>
<path d="M120.9 821.1l0.7 0.3 0.6 0.2 0.7 0.7 0.6 0.7 0.7 1 0.6 0.7 0.7 0.4 0.6 0.9 0.7 0.1 0.6 0.8 0.7 0.2 0.6 0.6 0.7 0.3 0.6 0.3 0.7 0.4 0.6 0.1 0.7 0.3 0.6 0.2 0.7 0.9 0.6 0.8 0.7 0.8 0.6 0.6 0.7 0.7 0.6 0.7 0.7 0.6 0.6 0.2 0.7 0.8 0.6 0.1 0.7 0.5 0.6 0.6 0.7 0.6 0.6 0.7 0.7 0.1 0.6 0.7 0.7 0.4 0.6 0.4 0.7-0.3 0.6 0.4 0.7 0.5 0.7 0.3 0.6 0.4 0.7 0.4 0.6 0.7 0.7 0.7 0.6 0.8 0.7 0.7 0.6 0.4 0.7 0.6 0.6 0.5 0.7 0.2 0.6 0.1 0.7 0.1 0.6 0.2 0.7 0.1 0.6 0.3 0.7 0.4 0.6-0.2 0.7 0.6 0.6 0.8 0.7 0.5 0.6 0.9 0.7 1 0.6 1.1 0.7 0.3 0.6 0.3 0.7 0.9 0.6 0.6 0.7 0 0.6 0.2 0.7 0.5 0.6 0.3 0.7-0.3 0.6-0.1 0.7 0.1 0.6 0.6 0.7 0.6 0.6 0.4 0.7 0.5 0.6 0.2 0.7 0.3 0.7-0.1 0.6-0.1 0.7 0.8 0.6 0.7 0.7 0.4 0.6 0.3 0.7 0.9 0.6 0.3 0.7 0 0.6 0.3 0.7 0.4 0.6 0.3 0.7 0.3 0.6 0.4 0.7 0.3 0.6 0.5 0.7 0.5 0.6 1 0.7 0.2 0.6 0.5 0.7 0.6 0.6 0.3 0.7 0.3 0.6-0.1 0.7-0.1 0.6 0.5 0.7 0.2 0.6 0.2 0.7-0.1 0.6 0.4 0.7 0.5 0.6 0.7 0.7 0 0.6 0.3 0.7 0.6 0.6 0.3 0.7 0.7 0.6-0.2 0.7 0.5 0.7 0.7 0.6 1 0.7 0.2 0.6 0.1 0.7 0 0.6 0.6 0.7 0.3 0.6 0 0.7 0.8 0.6 0.5 0.7 0.6 0.6 0.2 0.7 0.4 0.6 0.5 0.7-0.1 0.6-0.1 0.7 0.7 0.6 0.4 0.7 0.1 0.6-0.1 0.7 0.6 0.6 0.4 0.7 0.8 0.6 0.5 0.7 0.5 0.6 0.4 0.7 0.5 0.6 0.3 0.7-0.4 0.6-0.1 0.7 0.2 0.6 0.1 0.7 0 0.6 0.6 0.7 0.6 0.6 0.1 0.7 0.6 0.6 0.5 0.7 0.5 0.6 0.2 0.7 0.5 0.7 0.6 0.6-0.1 0.7 0.2 0.6 0.6 0.7 0.1 0.6 0 0.7 0.1 0.6 0.2 0.7 0.2 0.6-0.3 0.7 0 0.6 0.5 0.7 0.5 0.6 0.6 0.7 1.1 0.6 0.9 0.7 0 0.6 0.3 0.7 0.9 0.6 0.2 0.7-0.6 0.6-0.1 0.7 0.7 0.6 0.1 0.7-0.2 0.6-0.1 0.7 0.4 0.6 0.3 0.7 0.2 0.6 0 0.7 0.3 0.6 0.6 0.7 0.4 0.6 0.4 0.7 0.2 0.6 0.6 0.7 0.4 0.6 0.7 0.7 0.7 0.7-0.2 0.6 0.8 0.7 0.2 0.6 0.2 0.7-0.2 0.6-0.1 0.7 0.8 0.6 0.1 0.7 0.4 0.6 0.2 0.7 0.4 0.6 0.5 0.7 0 0.6 0 0.7 0.2 0.6 0.5 0.7 0.2 0.6 0.2 0.7 0.4 0.6 0.1 0.7 0.5 0.6 0.2 0.7 0.6 0.6 0.3 0.7 0.6 0.6 0.4 0.7 0.1 0.6 0.5 0.7-0.3 0.6 0.5 0.7 0 0.6 0.4 0.7 0.3 0.6 0.3 0.7 0.8 0.6 0.1 0.7 0.3 0.6 1.1 0.7 0.6 0.6 0.3 0.7 0.4 0.7 0.7 0.6 0.6 0.7 0 0.6 0.1 0.7 0.1 0.6 0.2 0.7 0.4 0.6 0.4 0.7 0.5 0.6 0.4 0.7 0.4 0.6 0.3 0.7-0.4 0.6 0.1 0.7 0.1 0.6 0.8 0.7 0.7 0.6 0.8 0.7 0.7 0.6 0.7 0.7 0.3 0.6 0.2 0.7 0.9 0.6 0 0.7 0.5 0.6 0.2 0.7 0.9 0.6 0.7 0.7 0.1 0.6 0.8 0.7 0.9 0.6 1 0.7-0.1 0.6 0.4 0.7 0.7 0.6 0.4 0.7 0.2 0.6 0.1 0.7 0.7 0.6 0.3 0.7 0.3 0.7 0.4 0.6 0.6 0.7 0.9 0.6 0.4 0.7 0.7 0.6 0.3 0.7 0.6 0.6 0.4 0.7 0.3 0.6 1 0.7 0.5 0.6 0.6 0.7 0.4 0.6 0.4 0.7 0.4 0.6 0.3 0.7 0.5 0.6 0.9 0.7 0.8 0.6 0.4 0.7 0.8 0.6 0.5 0.7 0.6 0.6 0.5 0.7 0.2 0.6 0.8 0.7 0.5 0.6 0.7 0.7 0.7 0.6 0.9 0.7 1 0.6 1 0.7 1.1 0.6 0.7 0.7 0.6 0.6 0.4 0.7 0.8 0.6 0.6 0.7 0.5 0.7 0.9 0.6 0.9 0.7 0.8 0.6 1.1 0.7 0.7 0.6 0.9 0.7 0.8 0.6 0.7 0.7 1 0.6 0.5 0.7 0.8 0.6 0.8 0.7 1 0.6 0.9 0.7 1 0.6 0.9 0.7 0.9 0.6 0.8 0.7 0.9 0.6 1 0.7 0.5 0.6 0.8 0.7 1 0.6 0.9 0.7 0.9 0.6 0.9 0.7 1.1 0.6 1.1 0.7 0.9 0.6 0.9 0.7 1.1 0.6 0.9 0.7 0.9 0.6 0.8 0.7 1 0.6 0.9 0.7 0.6 0.6 1.1 0.7 0.8 0.7 0.9 0.6 0.8 0.7 1 0.6 0.8 0.7 0.5 0.6 0.7 0.7 0.6 0.6 0.5 0.7 0.3 0.6 0.5 0.7 0.4 0.6 0.5 0.7 0.4 0.6 0.4 0.7 0.5 0.6 0.4 0.7 0.5 0.6 0.4 0.7 0.4 0.6 0.5 0.7 0.4 0.6 0.3 0.7 0.3 0.6 0.3 0.7 0.3 0.6 0.3 0.7 0.4 0.6 0.4 0.7 0.3 0.6 0.5 0.7 0.4 0.6 0.3 0.7 0.3 0.6 0.4 0.7 0.3 0.6 0.2 0.7 0.4 0.6 0.4 0.7 0.4 0.6 0.3 0.7 0.3 0.7-0.4 0.6-0.4 0.7-0.3 0.6-0.4 0.7-0.3 0.6-0.3 0.7-0.2 0.6-0.3 0.7-0.4 0.6-0.4 0.7-0.4 0.6-0.3 0.7-0.4 0.6-0.5 0.7-0.2 0.6-0.4 0.7-0.3 0.6-0.5 0.7-0.3 0.6-0.3 0.7-0.4 0.6-0.3 0.7-0.3 0.6-0.3 0.7-0.4 0.6-0.4 0.7-0.5 0.6-0.5 0.7-0.4 0.6-0.6 0.7-0.4 0.6-0.6 0.7-0.5 0.6-0.5 0.7-0.6 0.6-0.6 0.7-0.8 0.6-0.7 0.7-0.6 0.7-0.9 0.6-0.8 0.7-0.9 0.6-0.7 0.7-0.7 0.6-1 0.7-0.8 0.6-0.8 0.7-0.8 0.6-1 0.7-1.2 0.6-1 0.7-1.1 0.6-1.1 0.7-0.9 0.6-1.1 0.7-0.9 0.6-0.9 0.7-0.9 0.6-1 0.7-1 0.6-0.8 0.7-0.7 0.6-0.8 0.7-0.7 0.6-0.8 0.7-0.9 0.6-0.9 0.7-1 0.6-0.6 0.7-1 0.6-0.8 0.7-0.8 0.6-0.8 0.7-0.8 0.6-1.2 0.7-0.8 0.6-0.9 0.7-0.6 0.6-0.8 0.7-0.7 0.7-0.8 0.6-0.8 0.7-0.7 0.6-0.8 0.7-0.6 0.6-0.8 0.7-0.7 0.6-0.8 0.7-0.7 0.6-0.8 0.7-0.6 0.6-0.8 0.7-0.4 0.6-0.7 0.7-0.7 0.6-0.5 0.7-0.9 0.6-0.4 0.7-0.8 0.6-0.4 0.7-0.7 0.6-0.7 0.7-0.4 0.6-0.7 0.7-0.4 0.6-0.8 0.7-0.5 0.6-0.5 0.7-0.5 0.6-0.4 0.7-0.4 0.6-0.5 0.7-0.5 0.6-0.6 0.7-0.5 0.6-0.5 0.7-0.2 0.6-0.4 0.7-0.9 0.7-0.2 0.6-0.8 0.7-0.7 0.6-0.7 0.7-0.5 0.6 0 0.7-0.4 0.6-0.5 0.7-0.4 0.6-0.3 0.7-0.7 0.6-0.4 0.7-0.5 0.6-0.2 0.7-0.4 0.6-0.5 0.7 0.1 0.6-1.1 0.7-0.3 0.6-0.3 0.7 0 0.6-0.7 0.7-1 0.6-0.4 0.7-1.2 0.6-0.9 0.7-1.1 0.6-0.4 0.7-0.5 0.6-0.1 0.7 0.1 0.6 0.1 0.7-0.3 0.6-0.8 0.7-0.1 0.6-0.5 0.7 0.2 0.6-0.9 0.7-0.4 0.6-0.2 0.7-0.5 0.7 0 0.6-0.6 0.7-0.2 0.6-0.2 0.7 0.2 0.6-0.2 0.7-0.4 0.6-0.8 0.7-0.1 0.6 0 0.7-0.6 0.6-0.2 0.7-0.7 0.6-0.1 0.7-0.1 0.6-0.5 0.7-0.3 0.6-0.5 0.7 0 0.6-0.2 0.7-0.5 0.6-0.3 0.7-0.1 0.6-0.1 0.7-0.3 0.6-0.2 0.7-0.1 0.6-0.2 0.7-0.5 0.6-0.6 0.7 0.1 0.6-0.8 0.7-0.6 0.6-0.8 0.7-0.2 0.6 0 0.7-0.3 0.6-0.3 0.7-0.5 0.6 0.3 0.7-0.5 0.7-0.7 0.6-0.9 0.7-0.1 0.6-0.2 0.7-0.4 0.6 0 0.7-0.2 0.6-0.1 0.7-0.2 0.6-0.3 0.7-0.7 0.6-0.2 0.7-0.4 0.6-0.5 0.7-0.5 0.6-0.3 0.7 0.3 0.6-1 0.7 0.1 0.6 0 0.7 0.1 0.6-0.3 0.7-0.4 0.6 0.4 0.7-0.3 0.6-0.4 0.7-0.6 0.6 0.1 0.7 0.4 0.6-0.8 0.7-0.9 0.6-0.1 0.7-0.5 0.6-0.6 0.7-0.9 0.6-0.2 0.7 0.1 0.6-0.2 0.7-0.7 0.7-0.8 0.6-0.4 0.7-0.7 0.6-0.1 0.7-0.4 0.6 0 0.7 0.6 0.6 0 0.7 0 0.6 0 0.7-0.8 0.6-0.2 0.7-0.6 0.6-0.8 0.7 0 0.6-0.6 0.7-0.1 0.6-0.4 0.7-0.3 0.6-0.1 0.7-0.4 0.6-0.9 0.7 0.2 0.6 0.1 0.7-0.2 0.6 0 0.7-0.1 0.6 0.2 0.7-0.9 0.6-0.9 0.7-0.6 0.6-0.3 0.7-0.5 0.6-0.5 0.7-0.1 0.6 0.2 0.7-0.4 0.6-0.3 0.7-0.3 0.7-0.4 0.6-0.6 0.7-0.5 0.6-0.3 0.7-0.7 0.6-0.4 0.7-0.3 0.6-0.2 0.7-0.1 0.6-0.7 0.7-0.6 0.6-0.5 0.7-0.5 0.6-0.7 0.7-0.6 0.6-0.1 0.7-0.2 0.6-0.1 0.7 0.1 0.6-0.2 0.7-0.4 0.6-0.6 0.7-0.2 0.6-1 0.7-0.9 0.6-0.7 0.7-0.1 0.6 0 0.7-0.5 0.6-0.2 0.7 0.1 0.6 0.2 0.7-0.2 0.6-1 0.7-0.2 0.6-0.3 0.7-0.4 0.6-0.5 0.7-0.8 0.6 0.2 0.7-0.3 0.7-0.8 0.6-0.7 0.7-0.4 0.6-0.1 0.7-0.4 0.6-0.2 0.7 0.1 0.6 0 0.7-0.1 0.6-0.3 0.7-0.2 0.6-0.5 0.7-0.9 0.6-0.4 0.7-0.1 0.6-0.7 0.7-0.6 0.6-0.8 0.7 0.1 0.6-0.7 0.7-0.6 0.6 0.1 0.7-0.4 0.6-0.1 0.7-0.1 0.6 0.1 0.7-0.4 0.6-0.7 0.7-0.4 0.6-0.3 0.7-1.2 0.6-0.9 0.7-0.4 0.6-0.4 0.7-0.7 0.6-0.1 0.7-0.3 0.6-0.4 0.7-0.3 0.7-0.7 0.6-0.3 0.7-1.1 0.6 0.2 0.7-0.6 0.6-0.8 0.7-0.6 0.6-0.3 0.7 0 0.6-1.3 0.7-0.5 0.6-0.2 0.7-0.3 0.6-0.6 0.7-0.5 0.6 0.3 0.7-0.6 0.6-0.7 0.7-0.4 0.6-0.7 0.7-0.3 0.6-0.6 0.7-0.4 0.6-0.3 0.7-0.5 0.6-0.4 0.7-1 0.6-0.8 0.7-0.5 0.6-0.9 0.7-0.5 0.6-0.3 0.7-0.2 0.6-0.6 0.7-0.2 0.6-0.7 0.7-0.6 0.6-0.5 0.7-0.8 0.6-0.3 0.7-0.6" fill="none" stroke="#e2464a" stroke-width="4" stroke-linejoin="round"/>
<path d="M120.9 895.9l0.7 0.3 0.6-0.4 0.7 0.2 0.6 0.3 0.7-1.3 0.6 1.2 0.7 0 0.6 0.8 0.7 0.8 0.6 1.4 0.7 0 0.6-0.3 0.7 0.9 0.6 0.7 0.7 1.1 0.6-0.6 0.7 0.8 0.6 0 0.7-0.2 0.6-0.8 0.7-1.5 0.6 1.1 0.7-0.6 0.6 1.5 0.7-0.1 0.6 2.2 0.7 0.9 0.6-0.1 0.7 1 0.6 0 0.7 1.4 0.6-0.2 0.7-0.1 0.6 0.4 0.7 0.6 0.6 0.8 0.7-0.5 0.6 0.9 0.7 1.2 0.7 1.1 0.6-0.2 0.7-0.4 0.6 0.4 0.7-0.6 0.6 0.4 0.7-0.4 0.6 0 0.7 0.4 0.6 0.2 0.7 0.6 0.6-0.6 0.7 0.2 0.6 0.6 0.7 0.1 0.6-0.3 0.7 0.5 0.6 1 0.7 0.9 0.6 0.5 0.7 0.8 0.6 1.5 0.7-0.3 0.6-0.5 0.7-0.3 0.6 2 0.7 0.5 0.6 0.5 0.7 1.3 0.6 1.2 0.7-0.4 0.6-0.9 0.7 0.1 0.6-0.6 0.7-0.4 0.6 0 0.7 1.6 0.6 0.2 0.7-0.3 0.6 1.6 0.7 1.2 0.7-0.2 0.6-0.5 0.7 0.5 0.6 1.1 0.7-0.6 0.6 0 0.7 1.1 0.6-0.2 0.7 0 0.6-0.9 0.7 0.3 0.6-0.5 0.7-0.7 0.6 1.9 0.7 0.5 0.6 1 0.7 0 0.6-0.4 0.7 0.7 0.6 0.3 0.7 0.2 0.6 0.7 0.7 0.9 0.6 0 0.7 1.2 0.6-0.7 0.7 0.5 0.6-0.7 0.7-0.4 0.6 1.3 0.7-0.3 0.6-0.2 0.7 0.3 0.6 1.1 0.7 1 0.6-0.4 0.7 0.3 0.6 1.4 0.7 0 0.7-1.5 0.6-0.3 0.7 0.4 0.6-0.1 0.7-0.4 0.6 0.4 0.7 1.7 0.6 0.3 0.7 1.8 0.6-0.9 0.7-0.3 0.6-0.2 0.7 0.1 0.6 0.5 0.7-1.5 0.6 1.6 0.7 0.5 0.6 1 0.7-0.2 0.6-1.2 0.7 0.8 0.6-0.3 0.7 0.4 0.6-1.2 0.7-0.1 0.6 1.2 0.7 0.3 0.6 0.4 0.7 0.2 0.6 1.1 0.7 0.5 0.6 0 0.7 0.3 0.6 0.4 0.7-1.4 0.6-0.5 0.7 0.3 0.6-0.9 0.7-0.1 0.6 1.5 0.7 2.7 0.7 1.4 0.6 0 0.7 1 0.6 1.1 0.7-1.7 0.6-0.2 0.7-0.8 0.6 0.1 0.7 0.4 0.6-1 0.7 0.7 0.6 0.1 0.7 0.2 0.6-0.1 0.7-0.1 0.6-1.2 0.7-0.3 0.6-0.9 0.7-0.5 0.6 0.5 0.7 1.4 0.6 2.7 0.7 0.1 0.6 0.2 0.7 0.6 0.6 0.5 0.7-0.7 0.6-2 0.7 0.6 0.6 1.1 0.7 0.8 0.6-0.7 0.7 0.9 0.6 2.5 0.7 1.5 0.6 0.3 0.7-0.5 0.6 0.9 0.7-0.1 0.7-0.5 0.6-1 0.7-0.5 0.6 0.9 0.7 0.3 0.6 0.2 0.7-1.5 0.6 1.4 0.7 0 0.6 0.3 0.7-0.3 0.6-0.1 0.7 0.9 0.6-1.4 0.7 0.1 0.6-0.9 0.7 1.3 0.6-0.5 0.7 0.5 0.6 0.2 0.7-0.6 0.6 0.1 0.7-1.6 0.6 1.8 0.7 0.6 0.6-0.2 0.7 1.6 0.6 0.9 0.7 0.3 0.6-1.5 0.7 0.2 0.6 0.4 0.7-0.8 0.6 0.1 0.7 1.1 0.6 0.6 0.7 0.4 0.6 0.4 0.7 1 0.6 0 0.7-0.1 0.7 0.8 0.6-1 0.7 0.1 0.6-0.3 0.7 0.1 0.6 0.5 0.7-0.1 0.6 0.5 0.7 0.4 0.6-0.4 0.7 1.8 0.6 0.2 0.7 1 0.6 0.5 0.7 0.1 0.6 0.7 0.7-1.3 0.6-0.1 0.7 0.6 0.6 0.5 0.7-0.4 0.6-0.4 0.7 0.6 0.6 1.1 0.7-2 0.6 0.7 0.7 0.8 0.6 1 0.7 0.1 0.6 0.1 0.7 1.4 0.6-1.1 0.7 0.6 0.6 0.8 0.7 0.3 0.6-0.2 0.7 0.1 0.6 1 0.7-0.2 0.6-0.2 0.7 0.7 0.7 0.2 0.6 0.2 0.7-0.1 0.6 1.1 0.7 0.5 0.6-0.3 0.7 0 0.6 0.1 0.7 0.3 0.6-0.7 0.7-0.3 0.6-0.2 0.7 0.4 0.6 0.6 0.7 0.2 0.6 1.2 0.7 0.6 0.6 1 0.7 0.4 0.6-0.1 0.7 0.4 0.6 0.1 0.7 0.4 0.6 0.4 0.7 0.3 0.6 0.3 0.7 0.6 0.6-0.4 0.7-0.2 0.6 0.1 0.7 0.1 0.6 0.8 0.7 0.2 0.6 0.2 0.7 1.2 0.6 0.3 0.7 0.8 0.6-0.4 0.7-0.2 0.7 0.7 0.6-0.1 0.7 0.8 0.6-0.1 0.7 0.5 0.6 0.3 0.7 0.8 0.6 0.2 0.7-0.2 0.6 1.2 0.7 0.5 0.6 0.7 0.7-0.4 0.6 0.4 0.7 0.3 0.6-0.3 0.7 0.3 0.6 0.4 0.7 0.8 0.6 0.3 0.7 0.3 0.6 0.1 0.7 0.4 0.6 0 0.7 0.1 0.6 0.2 0.7 0.6 0.6 0.9 0.7 0.4 0.6 0.5 0.7 0.4 0.6 0.5 0.7 0.2 0.6 0.1 0.7 0.4 0.6 0.6 0.7 0.4 0.6 0.5 0.7 0.2 0.7 0.6 0.6 0.5 0.7 0.4 0.6 0.3 0.7 0.4 0.6 0.5 0.7 0.6 0.6 0.6 0.7 0.4 0.6 0.5 0.7 0.4 0.6 0.7 0.7 0.4 0.6 0.5 0.7 0.6 0.6 0.6 0.7 0.5 0.6 0.4 0.7 0.5 0.6 0.4 0.7 0.2 0.6 0.2 0.7 0.8 0.6 0.5 0.7 0.4 0.6 0.3 0.7 0.6 0.6 0.5 0.7 0.4 0.6 0.5 0.7 0.4 0.6 0.7 0.7 0.4 0.6 0.7 0.7 0.1 0.6 0.3 0.7 0.4 0.6 0.4 0.7 0.1 0.6 0.3 0.7 0.5 0.7-0.4 0.6-0.5 0.7-0.5 0.6-0.2 0.7-0.3 0.6-0.2 0.7-0.3 0.6-0.3 0.7-0.3 0.6-0.4 0.7-0.4 0.6-0.9 0.7-0.4 0.6-0.3 0.7-0.5 0.6-0.4 0.7-0.7 0.6 0 0.7-0.6 0.6-0.6 0.7-0.5 0.6-0.6 0.7-0.5 0.6-0.7 0.7-0.4 0.6-0.8 0.7-0.6 0.6-0.5 0.7-0.4 0.6-0.6 0.7-0.5 0.6-0.2 0.7-0.2 0.6-0.4 0.7-0.5 0.6-0.4 0.7-0.4 0.6-0.6 0.7-0.5 0.7-0.6 0.6-0.4 0.7-0.2 0.6-0.4 0.7-0.2 0.6-0.4 0.7-0.4 0.6-0.2 0.7-0.3 0.6-0.5 0.7-0.7 0.6-0.8 0.7-0.1 0.6-0.5 0.7-0.7 0.6-0.3 0.7 0.1 0.6-0.1 0.7-0.3 0.6-0.3 0.7-0.2 0.6-0.5 0.7-0.2 0.6-0.4 0.7-0.3 0.6-0.3 0.7-0.2 0.6-1.2 0.7-0.9 0.6-0.6 0.7-0.8 0.6-0.5 0.7-0.6 0.6 0.5 0.7-0.1 0.6-0.2 0.7-0.5 0.6 0.4 0.7-0.2 0.6-0.4 0.7-0.1 0.7-0.1 0.6-0.3 0.7-1.1 0.6-1 0.7-0.1 0.6-0.5 0.7 0 0.6 0.7 0.7-0.2 0.6 0.3 0.7-0.2 0.6 0.2 0.7-0.8 0.6-0.9 0.7-0.4 0.6 0 0.7-0.9 0.6-1.2 0.7-0.2 0.6-0.2 0.7-0.4 0.6-1.1 0.7-0.7 0.6 0.2 0.7 0 0.6 0.3 0.7-1.2 0.6 0.7 0.7 0.4 0.6-0.4 0.7-0.9 0.6-0.7 0.7 1.4 0.6-0.7 0.7-0.1 0.6-0.5 0.7 0.9 0.6-0.5 0.7-0.7 0.7 0.3 0.6 0 0.7-0.1 0.6-0.9 0.7 0.1 0.6-0.5 0.7-1.1 0.6-0.6 0.7-0.2 0.6 0.4 0.7-1.1 0.6-0.3 0.7 0.3 0.6 0 0.7 0.4 0.6-1.5 0.7 0.1 0.6 0.5 0.7-0.5 0.6-0.3 0.7-0.9 0.6 0.7 0.7 0 0.6-0.8 0.7-1.2 0.6-0.4 0.7 0.7 0.6-0.7 0.7-0.1 0.6 0.8 0.7 1.3 0.6 0.3 0.7-1.1 0.6-0.8 0.7-1.1 0.6-1.6 0.7-0.3 0.6-0.6 0.7 0 0.6-0.2 0.7 0.7 0.7 0.6 0.6-1.2 0.7-0.4 0.6 0 0.7 0.5 0.6-0.6 0.7-0.6 0.6 0.2 0.7 0 0.6-0.4 0.7 0.2 0.6 0.9 0.7 0.1 0.6-0.3 0.7-0.1 0.6 0.1 0.7-0.3 0.6-0.6 0.7-0.6 0.6-0.6 0.7-1 0.6-1.1 0.7-0.7 0.6-0.5 0.7 0.7 0.6 0.9 0.7 1 0.6 0 0.7 0.2 0.6 0 0.7-1 0.6-1.7 0.7 0.1 0.6-0.3 0.7-0.4 0.6-0.4 0.7 0.5 0.6 1.4 0.7-0.8 0.6 0 0.7-0.2 0.7-0.3 0.6-0.2 0.7-0.3 0.6 0.2 0.7 0.8 0.6-0.3 0.7 0.4 0.6 0.1 0.7-0.1 0.6 0.6 0.7-0.6 0.6 0 0.7-0.2 0.6-1 0.7-1.2 0.6-2 0.7-0.7 0.6-0.2 0.7-0.1 0.6 0 0.7 1.1 0.6 0.6 0.7 0.3 0.6 0.5 0.7-1.2 0.6 0.3 0.7-0.5 0.6-0.7 0.7-0.1 0.6-0.3 0.7 0.7 0.6-1.7 0.7-0.3 0.6 0.5 0.7-0.5 0.6-0.4 0.7 0.8 0.6 0.8 0.7-0.4 0.7-1 0.6 0.2 0.7 0.5 0.6-1.8 0.7 0 0.6 0 0.7-0.1 0.6-0.4 0.7-0.9 0.6 0.8 0.7 0 0.6 0.2 0.7 0.6 0.6-0.2 0.7 0.9 0.6 0 0.7-0.4 0.6 0.2 0.7-0.1 0.6 0.6 0.7-1.6 0.6-1.6 0.7 0.4 0.6-1.2 0.7 0.3 0.6-0.9 0.7 1.2 0.6 0.5 0.7-0.8 0.6 0.4 0.7-1.7 0.6-0.4 0.7-1.2 0.6 0.4 0.7-0.2 0.6 0.3 0.7 0.6 0.6-0.7 0.7-0.7 0.7-0.8 0.6-0.5 0.7 0.2 0.6-0.5 0.7 1.4 0.6 0.6 0.7-0.3 0.6-0.1 0.7-1.3 0.6-0.3 0.7-1.1 0.6-0.6 0.7-0.8 0.6-0.8 0.7 0.9 0.6-0.2 0.7-0.9 0.6-0.1 0.7 0.3 0.6 0.8 0.7-0.4 0.6-0.3 0.7 0.7 0.6-0.3 0.7 0.6 0.6 0 0.7-0.8 0.6 0 0.7-0.7 0.6 0.2 0.7-1.4 0.6-1.2 0.7-0.4 0.6-0.8 0.7 0 0.6-0.7 0.7 0.1 0.6 0.7 0.7-0.2 0.6-0.4 0.7 0.6 0.7-0.8 0.6 0.1 0.7-0.8 0.6-0.4 0.7 0 0.6-1.8 0.7 0.1 0.6-1.5 0.7-0.5 0.6-0.5 0.7-0.5 0.6 0.7 0.7 0.3 0.6 0.5 0.7-0.7 0.6-0.5 0.7 0.3 0.6-1.6 0.7-0.8 0.6 0.1 0.7-0.6 0.6-0.5 0.7 0 0.6 0.1 0.7 0.3 0.6-0.7 0.7-0.9 0.6-0.4 0.7-1.2 0.6-0.2 0.7-0.6 0.6-0.5 0.7 0.6 0.6 0.9 0.7-0.1 0.6-0.2 0.7-0.9 0.6-0.4 0.7 0.1 0.7-0.3 0.6-0.3 0.7 1 0.6 0.2 0.7-0.7 0.6-1.4 0.7-1.1 0.6 1 0.7-2.1 0.6-1 0.7 0.4 0.6 0.2 0.7-0.4 0.6-1 0.7 1.1 0.6-0.6 0.7 0.8 0.6-0.3 0.7-0.2 0.6-1.5 0.7-1.9 0.6-0.5 0.7-2.4 0.6-0.4 0.7-0.5 0.6-0.3 0.7 0.5 0.6 0.9 0.7 0.5 0.6 0.9 0.7 0.2 0.6-0.8 0.7-0.7 0.6-0.7 0.7 0 0.6-0.3 0.7-0.3 0.6 1.1 0.7-0.1 0.6-0.4 0.7-0.6" fill="none" stroke="#3d6db5" stroke-width="4" stroke-linejoin="round"/>
<path d="M120.9 909.9l0.7 3.5 0.6 0.7 0.7-0.9 0.6 1 0.7-1.2 0.6-2.4 0.7-1.8 0.6-2.8 0.7 2.6 0.6 0 0.7-2 0.6 1.6 0.7-0.7 0.6 3.7 0.7-0.9 0.6 2.9 0.7 4 0.6-1.6 0.7 0.2 0.6 0.1 0.7 0.3 0.6-2.3 0.7-0.5 0.6 1.5 0.7 2.3 0.6-0.5 0.7 1.4 0.6-0.1 0.7 0.6 0.6 2 0.7-1.4 0.6 2 0.7-1.4 0.6 1.2 0.7-0.6 0.6 0.4 0.7-1.4 0.6-0.4 0.7-0.1 0.7-0.6 0.6 2.4 0.7-1.2 0.6 2.6 0.7-0.5 0.6 0.3 0.7 0.5 0.6-2 0.7 1.9 0.6-0.5 0.7 0.4 0.6 0.6 0.7 1.7 0.6 0.9 0.7-1.4 0.6 2.1 0.7 1.8 0.6 0.9 0.7 0.9 0.6 2.2 0.7-0.2 0.6-1.6 0.7-0.5 0.6 0.6 0.7-0.5 0.6-0.5 0.7 1.7 0.6 0.2 0.7-1.3 0.6 0.9 0.7-0.1 0.6-0.1 0.7 1.2 0.6 0.4 0.7 0.7 0.6 0.7 0.7-0.7 0.6 0.7 0.7-2.3 0.6-0.7 0.7 1.6 0.7 1.4 0.6 1.6 0.7 1.1 0.6 2.8 0.7 1.9 0.6-1.6 0.7-1.8 0.6 0.2 0.7 0.7 0.6-0.5 0.7 1.5 0.6 1.1 0.7 0.8 0.6 0 0.7-1.6 0.6-0.2 0.7-2.2 0.6 0.2 0.7 0.1 0.6 0 0.7-0.3 0.6-1.4 0.7 1.1 0.6-0.8 0.7 0.6 0.6 0.6 0.7 2.4 0.6 0.9 0.7 1.4 0.6 2.9 0.7-1.3 0.6 0.6 0.7-0.5 0.6 0.1 0.7-0.7 0.6-1.8 0.7 1.6 0.6-1.1 0.7-1.7 0.7 1.2 0.6-1.9 0.7 1.6 0.6 0.1 0.7 0.9 0.6 0.3 0.7 0.7 0.6 2.6 0.7-0.5 0.6-1.3 0.7 0.8 0.6 2.6 0.7 0.1 0.6-0.8 0.7 1 0.6 1.5 0.7 1.7 0.6-1.1 0.7 0 0.6 0.3 0.7-0.7 0.6-0.4 0.7-0.7 0.6-0.4 0.7 2.1 0.6 1.5 0.7-0.6 0.6 0.1 0.7 1.2 0.6 0.3 0.7-1 0.6 0.4 0.7 1.2 0.6 1 0.7-3.2 0.6 2.3 0.7 0.3 0.6-0.5 0.7 2.4 0.6-0.9 0.7-0.1 0.7-0.7 0.6-0.6 0.7 0.4 0.6-2 0.7 2.1 0.6 1.2 0.7 0.8 0.6-0.8 0.7-0.5 0.6-2.1 0.7 1.3 0.6 1.1 0.7 0.4 0.6 1.8 0.7 0.1 0.6 3.7 0.7-0.1 0.6 1.9 0.7-1.4 0.6-1.3 0.7-0.6 0.6-0.8 0.7-0.3 0.6-1.3 0.7 2 0.6 3.1 0.7 0.3 0.6 0.5 0.7-1.2 0.6 0.1 0.7-2.9 0.6-3 0.7 2.1 0.6 0.2 0.7 1.2 0.6-1.5 0.7 0.2 0.6 1.9 0.7-3.1 0.7-0.2 0.6 0.7 0.7 3.6 0.6 1.6 0.7-0.5 0.6 3.2 0.7-0.3 0.6-2.4 0.7-1.9 0.6-0.9 0.7-1.3 0.6-1.1 0.7 1.2 0.6 0.9 0.7-0.5 0.6-1.3 0.7 2.4 0.6 2.2 0.7-0.8 0.6 0.3 0.7 1.1 0.6 1.8 0.7-0.7 0.6-2.8 0.7 1.3 0.6 1.2 0.7-0.3 0.6 1.3 0.7-0.9 0.6 0.8 0.7-0.7 0.6-2.2 0.7-0.5 0.6-1.4 0.7 0.6 0.6 0.9 0.7 0.2 0.6 1.8 0.7 1.8 0.6 1.5 0.7 0.1 0.7-0.3 0.6 1 0.7-2.3 0.6 0.1 0.7-0.9 0.6 0.3 0.7-0.8 0.6 0.1 0.7 2.5 0.6-0.7 0.7-0.4 0.6 0.5 0.7 1 0.6-1.2 0.7-1.7 0.6-0.7 0.7 0.4 0.6 1.4 0.7-0.1 0.6 1.8 0.7 1.1 0.6 0.6 0.7 1.7 0.6 0.4 0.7 0.8 0.6-1.1 0.7 1.4 0.6 0.6 0.7-0.4 0.6-0.4 0.7 0.2 0.6 0 0.7-1.4 0.6-0.6 0.7 0.3 0.6-1.6 0.7-0.9 0.6 0.6 0.7 0.4 0.6 1.1 0.7 0.3 0.7 2 0.6-0.2 0.7-0.2 0.6 0.7 0.7-0.2 0.6-0.1 0.7-0.8 0.6 0.9 0.7-1.1 0.6 1 0.7-0.9 0.6-0.5 0.7 1.7 0.6 0 0.7 0.4 0.6-1.1 0.7 1.1 0.6 0.5 0.7 0.4 0.6 0.7 0.7 1.1 0.6 1.5 0.7 0.2 0.6 0.7 0.7-2.4 0.6 1.1 0.7 0.9 0.6 1 0.7 0.6 0.6-0.3 0.7 1.6 0.6-0.1 0.7-0.8 0.6-1.1 0.7-0.6 0.6 0.4 0.7 1.2 0.6 0 0.7 1.3 0.7 0 0.6 1.1 0.7 0.4 0.6-0.6 0.7 0.9 0.6 0 0.7 0.2 0.6 0.3 0.7 0.2 0.6 0.2 0.7-0.1 0.6 0.2 0.7 0.5 0.6 0.2 0.7 0.2 0.6 0.4 0.7 0.4 0.6 0.7 0.7-0.4 0.6-0.4 0.7 0.4 0.6-0.1 0.7-0.5 0.6-0.6 0.7 1.2 0.6 1.3 0.7 0.7 0.6 0.7 0.7 0.2 0.6 0.1 0.7 0.3 0.6 0 0.7-0.5 0.6-0.4 0.7 1 0.6 0.7 0.7 0.2 0.6 0.3 0.7 0.8 0.7 0.9 0.6 0.1 0.7 0.8 0.6 0.3 0.7 0 0.6 0.1 0.7 0 0.6 0.3 0.7-0.1 0.6 0 0.7 0.5 0.6 0.5 0.7 0.2 0.6 0.4 0.7 0.7 0.6 0.9 0.7 0.4 0.6 0.4 0.7 0.7 0.6 0.2 0.7-0.1 0.6 0.1 0.7 0.3 0.6 0.1 0.7 0 0.6 0 0.7 0.6 0.6 0.3 0.7-0.1 0.6 0.6 0.7 0.4 0.6 0.6 0.7 0 0.6 0.4 0.7 0.4 0.6 0.3 0.7-0.1 0.6 0.3 0.7 0.1 0.6 0 0.7 0.1 0.7-0.5 0.6 0 0.7-0.1 0.6-0.1 0.7 0.1 0.6 0 0.7 0.1 0.6 0.1 0.7 0 0.6 0 0.7-0.6 0.6-0.5 0.7-0.3 0.6-0.5 0.7-0.7 0.6-0.9 0.7 0.1 0.6-0.2 0.7-0.2 0.6-0.5 0.7-0.2 0.6 0.1 0.7-0.7 0.6-0.5 0.7 0 0.6 0.1 0.7-0.4 0.6 0 0.7-0.4 0.6-0.5 0.7-0.6 0.6-0.5 0.7-0.4 0.6-1 0.7-0.5 0.6-0.2 0.7-0.4 0.6-0.5 0.7-0.2 0.7 0.3 0.6-0.1 0.7-0.1 0.6-0.4 0.7-0.9 0.6-0.2 0.7-1.1 0.6 0 0.7-0.4 0.6-0.1 0.7 0.6 0.6-0.9 0.7 0.3 0.6 0.3 0.7-0.8 0.6-0.4 0.7-0.4 0.6 0.4 0.7 0.4 0.6-1.6 0.7-0.2 0.6-0.5 0.7-0.6 0.6-0.2 0.7-0.8 0.6 0.5 0.7 0.9 0.6-0.3 0.7 0.2 0.6-1.2 0.7 0.1 0.6-1 0.7-1.2 0.6-0.6 0.7-0.3 0.6-0.2 0.7-1.7 0.6 0.3 0.7 0.2 0.6-0.3 0.7-1.5 0.7 1.1 0.6 0.5 0.7-0.9 0.6 0.4 0.7-0.1 0.6 0.2 0.7-0.6 0.6-0.1 0.7 1.4 0.6-1.3 0.7 0.4 0.6 0.7 0.7-0.6 0.6 0.1 0.7-1.7 0.6-0.4 0.7-1.3 0.6-1.1 0.7 0.1 0.6 0.9 0.7-0.2 0.6-0.2 0.7 0.4 0.6 1.1 0.7-1.1 0.6-1.4 0.7 0.7 0.6 0.7 0.7-2.2 0.6-0.2 0.7 2.5 0.6-0.4 0.7 0.4 0.6 0.8 0.7 1.6 0.6-0.2 0.7-2.7 0.6 0.1 0.7-1.9 0.7-2.2 0.6-0.1 0.7-1.2 0.6-0.9 0.7-1 0.6 1.9 0.7 0.6 0.6-0.3 0.7-0.5 0.6 1.4 0.7-0.5 0.6-1.3 0.7-0.1 0.6 0.2 0.7 1 0.6-0.2 0.7 0.6 0.6 0.4 0.7 0.8 0.6-0.2 0.7-0.3 0.6 0.2 0.7-0.2 0.6-1.2 0.7-2.6 0.6 1.1 0.7-1.9 0.6 1.8 0.7 1.9 0.6 0 0.7 2.5 0.6-1.2 0.7 2.3 0.6-1.1 0.7-0.4 0.6 0.5 0.7-1.4 0.6-1 0.7-0.7 0.6-1.1 0.7-2.8 0.7 1.7 0.6 0.2 0.7-0.8 0.6-1.6 0.7-1.8 0.6-0.3 0.7-3.4 0.6-0.3 0.7 3.5 0.6 2.1 0.7 1.4 0.6-0.4 0.7 1.4 0.6 0.3 0.7-3.1 0.6 0.3 0.7-0.4 0.6 0.9 0.7-0.2 0.6-0.5 0.7 2.4 0.6 0.2 0.7 0.2 0.6-0.8 0.7 0.2 0.6 0.8 0.7-1.2 0.6-2.1 0.7 1.1 0.6 0.9 0.7-0.3 0.6-1.1 0.7-0.2 0.6 0.4 0.7-3 0.6 0.3 0.7 0 0.6 2.7 0.7-1.4 0.6 0.6 0.7 0.9 0.7-0.6 0.6 0.2 0.7-2.2 0.6 1.8 0.7-2.9 0.6-0.7 0.7-1 0.6-2.2 0.7-2.3 0.6-2.5 0.7 0.9 0.6-1.9 0.7 2.5 0.6 0.9 0.7 1.9 0.6 0.6 0.7 3.5 0.6 3.5 0.7-2.8 0.6 1.3 0.7-1.4 0.6 0.7 0.7-2.7 0.6 0.3 0.7 1.3 0.6 0 0.7-0.2 0.6 0.8 0.7-0.8 0.6-1.2 0.7-0.7 0.6-3.3 0.7 0.6 0.6-1.4 0.7 0.1 0.6-1.6 0.7 0.2 0.6-0.6 0.7-0.7 0.7-0.5 0.6 0.4 0.7 0.6 0.6-1.4 0.7 0.5 0.6-0.2 0.7 0 0.6-0.9 0.7 1.8 0.6-0.9 0.7 0 0.6 0 0.7-1.6 0.6 0.7 0.7-4.3 0.6 1 0.7 1 0.6-2.8 0.7 1.3 0.6-1.9 0.7 2.3 0.6 0 0.7-0.5 0.6 2.4 0.7-2.9 0.6-1 0.7-0.6 0.6-3.4 0.7-0.5 0.6-0.7 0.7 0.9 0.6 2 0.7-2.3 0.6 3.2 0.7 1.1 0.6-1.5 0.7 1.1 0.6-1 0.7 2.5 0.7-0.7 0.6-1.6 0.7 3.5 0.6-1.1 0.7 0.4 0.6-2.9 0.7-2.8 0.6-0.6 0.7-3.3 0.6-1.4 0.7-2.2 0.6 2.8 0.7 3.3 0.6 0.8 0.7 1.9 0.6 1.3 0.7 0.8 0.6-0.9 0.7-2 0.6-2.2 0.7-1.8 0.6-1 0.7-0.1 0.6-1 0.7 0.8 0.6 2.5 0.7-0.8 0.6-0.9 0.7-0.2 0.6-0.5 0.7 0.7 0.6-1.2 0.7 0 0.6 1 0.7-0.3 0.6 0.9 0.7-0.4 0.6-0.2 0.7-1.5 0.6 0.1 0.7 1.3 0.7-0.6 0.6-1.4 0.7-1.7 0.6 0.1 0.7 0.2 0.6-0.8 0.7-0.7 0.6-0.5 0.7 2.1 0.6-0.2 0.7-0.6 0.6-1.6 0.7-0.3 0.6-0.9 0.7-1.1 0.6 0.4 0.7-2 0.6-0.3 0.7-1.9 0.6 1.5 0.7-0.2 0.6 1.1 0.7 2.4 0.6 0 0.7-0.7 0.6-1.9 0.7-1.5 0.6 0.6 0.7-2 0.6 0.9 0.7 1.4 0.6-1.1 0.7 1.2 0.6-3.4 0.7 0.8 0.6-1.6 0.7 0.6 0.6 0.7 0.7-0.6 0.7 3.1 0.6-0.7 0.7 0.3 0.6-2.6 0.7 2.3 0.6-0.5 0.7-3.4 0.6-2.7 0.7-2.2 0.6 1.5 0.7-4.4 0.6-0.1 0.7 0.7 0.6 2 0.7 1.4 0.6-2 0.7 2.9 0.6 1.1 0.7-1.5 0.6-1.2 0.7-1.6 0.6 1.6 0.7-2.7 0.6-1.7 0.7 1.2 0.6 0.6 0.7 0.4 0.6-0.7 0.7 0.8 0.6-2.2 0.7-1.3 0.6-0.5 0.7 1.2 0.6-0.2 0.7 0.9 0.6 2.3 0.7 1.3 0.6 0.2 0.7-1.9 0.6-0.6 0.7-2.3" fill="none" stroke="#53ae6e" stroke-width="4" stroke-linejoin="round"/>
<line x1="284.9" y1="732.8" x2="137.2" y2="979.65" stroke="#e0301e" stroke-width="4.3"/>
<polyline points="141.96,957.04 136.17,981.36 154.86,964.76" fill="none" stroke="#e0301e" stroke-width="4.3" stroke-linejoin="miter" stroke-miterlimit="10"/>
<rect x="120.9" y="606" width="521" height="434.2" fill="none" stroke="#000" stroke-width="2.2"/>
<line x1="120.9" y1="1040.2" x2="120.9" y2="1032.2" stroke="#000" stroke-width="2"/>
<line x1="173" y1="1040.2" x2="173" y2="1032.2" stroke="#000" stroke-width="2"/>
<line x1="225.1" y1="1040.2" x2="225.1" y2="1032.2" stroke="#000" stroke-width="2"/>
<line x1="277.2" y1="1040.2" x2="277.2" y2="1032.2" stroke="#000" stroke-width="2"/>
<line x1="329.3" y1="1040.2" x2="329.3" y2="1032.2" stroke="#000" stroke-width="2"/>
<line x1="381.4" y1="1040.2" x2="381.4" y2="1032.2" stroke="#000" stroke-width="2"/>
<line x1="433.5" y1="1040.2" x2="433.5" y2="1032.2" stroke="#000" stroke-width="2"/>
<line x1="485.6" y1="1040.2" x2="485.6" y2="1032.2" stroke="#000" stroke-width="2"/>
<line x1="537.7" y1="1040.2" x2="537.7" y2="1032.2" stroke="#000" stroke-width="2"/>
<line x1="589.8" y1="1040.2" x2="589.8" y2="1032.2" stroke="#000" stroke-width="2"/>
<line x1="641.9" y1="1040.2" x2="641.9" y2="1032.2" stroke="#000" stroke-width="2"/>
<line x1="146.95" y1="1040.2" x2="146.95" y2="1036.2" stroke="#000" stroke-width="2"/>
<line x1="199.05" y1="1040.2" x2="199.05" y2="1036.2" stroke="#000" stroke-width="2"/>
<line x1="251.15" y1="1040.2" x2="251.15" y2="1036.2" stroke="#000" stroke-width="2"/>
<line x1="303.25" y1="1040.2" x2="303.25" y2="1036.2" stroke="#000" stroke-width="2"/>
<line x1="355.35" y1="1040.2" x2="355.35" y2="1036.2" stroke="#000" stroke-width="2"/>
<line x1="407.45" y1="1040.2" x2="407.45" y2="1036.2" stroke="#000" stroke-width="2"/>
<line x1="459.55" y1="1040.2" x2="459.55" y2="1036.2" stroke="#000" stroke-width="2"/>
<line x1="511.65" y1="1040.2" x2="511.65" y2="1036.2" stroke="#000" stroke-width="2"/>
<line x1="563.75" y1="1040.2" x2="563.75" y2="1036.2" stroke="#000" stroke-width="2"/>
<line x1="615.85" y1="1040.2" x2="615.85" y2="1036.2" stroke="#000" stroke-width="2"/>
<line x1="120.9" y1="1000.73" x2="128.9" y2="1000.73" stroke="#000" stroke-width="2"/>
<line x1="120.9" y1="902.05" x2="128.9" y2="902.05" stroke="#000" stroke-width="2"/>
<line x1="120.9" y1="803.36" x2="128.9" y2="803.36" stroke="#000" stroke-width="2"/>
<line x1="120.9" y1="704.68" x2="128.9" y2="704.68" stroke="#000" stroke-width="2"/>
<line x1="120.9" y1="606" x2="128.9" y2="606" stroke="#000" stroke-width="2"/>
<line x1="120.9" y1="951.39" x2="124.9" y2="951.39" stroke="#000" stroke-width="2"/>
<line x1="120.9" y1="852.7" x2="124.9" y2="852.7" stroke="#000" stroke-width="2"/>
<line x1="120.9" y1="754.02" x2="124.9" y2="754.02" stroke="#000" stroke-width="2"/>
<line x1="120.9" y1="655.34" x2="124.9" y2="655.34" stroke="#000" stroke-width="2"/>
<text x="120.9" y="1074" font-size="31" text-anchor="middle">-5</text>
<text x="173" y="1074" font-size="31" text-anchor="middle">-4</text>
<text x="225.1" y="1074" font-size="31" text-anchor="middle">-3</text>
<text x="277.2" y="1074" font-size="31" text-anchor="middle">-2</text>
<text x="317.69" y="1074" font-size="31">-</text>
<use href="#g1" transform="translate(328.01 1074) scale(0.01514 -0.01514)"/>
<text x="381.4" y="1074" font-size="31" text-anchor="middle">0</text>
<use href="#g1" transform="translate(426.03 1074) scale(0.01514 -0.01514)"/>
<text x="485.6" y="1074" font-size="31" text-anchor="middle">2</text>
<text x="537.7" y="1074" font-size="31" text-anchor="middle">3</text>
<text x="589.8" y="1074" font-size="31" text-anchor="middle">4</text>
<text x="641.9" y="1074" font-size="31" text-anchor="middle">5</text>
<text x="111" y="1011.73" font-size="31" text-anchor="end">0</text>
<text x="111" y="913.05" font-size="31" text-anchor="end">50</text>
<use href="#g1" transform="translate(59.29 814.36) scale(0.01514 -0.01514)"/>
<text x="76.53" y="814.36" font-size="31">00</text>
<use href="#g1" transform="translate(59.29 715.68) scale(0.01514 -0.01514)"/>
<text x="76.53" y="715.68" font-size="31">50</text>
<text x="111" y="617" font-size="31" text-anchor="end">200</text>
<text x="348.4" y="1111.3" font-size="31" font-style="italic">B</text>
<text x="377.4" y="1111.3" font-size="31">(T)</text>
<g transform="translate(41.6 892.5) rotate(-90)">
<text x="0" y="0" font-size="31" font-style="italic">MR</text>
<text x="45.5" y="6.5" font-size="18">drag</text>
<text x="90" y="0" font-size="31">(%)</text>
</g>
<text x="281.5" y="645.8" font-size="29.5">Inter-layer drag</text>
<line x1="324.7" y1="687.9" x2="409" y2="687.9" stroke="#464244" stroke-width="4"/>
<use href="#g1" transform="translate(416.5 701.3) scale(0.01709 -0.01709)" fill="#464244"/>
<line x1="324.7" y1="733.9" x2="409" y2="733.9" stroke="#e2464a" stroke-width="4"/>
<text x="416.5" y="747.3" font-size="35" fill="#e2464a">2</text>
<line x1="324.7" y1="779.3" x2="409" y2="779.3" stroke="#3d6db5" stroke-width="4"/>
<text x="416.5" y="792.7" font-size="35" fill="#3d6db5">3</text>
<line x1="324.7" y1="824.4" x2="409" y2="824.4" stroke="#53ae6e" stroke-width="4"/>
<text x="416.5" y="837.8" font-size="35" fill="#53ae6e">4</text>
<text x="-1" y="643.8" font-size="52" font-weight="bold">c</text>
<line x1="820.5" y1="761.53" x2="1341" y2="761.53" stroke="#000" stroke-width="2.1" stroke-dasharray="10.3 9.7" stroke-dashoffset="12.2"/>
<path d="M820.5 640.1l0.7 0.9 0.6 0.8 0.7 0.9 0.6 0.8 0.7 0.9 0.6 0.9 0.7 0.8 0.6 0.8 0.7 0.7 0.6 0.8 0.7 0.9 0.6 0.9 0.7 0.8 0.6 0.7 0.7 0.6 0.6 0.8 0.7 0.9 0.6 0.8 0.7 0.8 0.6 0.8 0.7 0.8 0.6 0.8 0.7 0.8 0.6 0.7 0.7 0.7 0.6 0.7 0.7 0.8 0.6 0.8 0.7 0.8 0.6 0.7 0.7 0.8 0.6 0.7 0.7 0.7 0.6 0.6 0.7 0.8 0.6 0.8 0.7 0.6 0.6 0.8 0.7 0.7 0.6 0.6 0.7 0.7 0.6 0.7 0.7 0.8 0.6 0.7 0.7 0.7 0.6 0.7 0.7 0.7 0.6 0.6 0.7 0.7 0.6 0.6 0.7 0.6 0.6 0.7 0.7 0.7 0.6 0.8 0.7 0.6 0.6 0.7 0.7 0.6 0.6 0.7 0.7 0.7 0.6 0.6 0.7 0.7 0.6 0.6 0.7 0.6 0.6 0.6 0.7 0.6 0.6 0.7 0.7 0.7 0.6 0.6 0.7 0.7 0.6 0.7 0.7 0.5 0.6 0.7 0.7 0.6 0.6 0.6 0.7 0.6 0.6 0.6 0.7 0.6 0.6 0.7 0.7 0.7 0.6 0.6 0.7 0.6 0.7 0.6 0.6 0.5 0.7 0.7 0.6 0.7 0.7 0.6 0.6 0.6 0.7 0.6 0.6 0.8 0.7 0.6 0.6 0.6 0.7 0.6 0.6 0.6 0.7 0.6 0.6 0.7 0.7 0.6 0.6 0.7 0.7 0.5 0.6 0.7 0.7 0.6 0.6 0.6 0.7 0.5 0.6 0.6 0.7 0.7 0.6 0.7 0.7 0.5 0.6 0.5 0.7 0.4 0.6 0.6 0.7 0.6 0.6 0.6 0.7 0.6 0.6 0.6 0.7 0.6 0.6 0.5 0.7 0.6 0.6 0.6 0.7 0.6 0.6 0.5 0.7 0.5 0.6 0.6 0.7 0.5 0.6 0.5 0.7 0.5 0.6 0.5 0.7 0.5 0.6 0.7 0.7 0.6 0.6 0.6 0.7 0.5 0.6 0.5 0.7 0.4 0.6 0.6 0.7 0.5 0.6 0.5 0.7 0.5 0.6 0.5 0.7 0.4 0.6 0.5 0.7 0.5 0.6 0.5 0.7 0.5 0.6 0.5 0.7 0.4 0.6 0.6 0.7 0.5 0.6 0.6 0.7 0.5 0.6 0.4 0.7 0.4 0.6 0.5 0.7 0.5 0.6 0.4 0.7 0.5 0.6 0.4 0.7 0.5 0.6 0.5 0.7 0.4 0.6 0.4 0.7 0.5 0.7 0.4 0.6 0.5 0.7 0.4 0.6 0.4 0.7 0.4 0.6 0.4 0.7 0.4 0.6 0.4 0.7 0.4 0.6 0.4 0.7 0.4 0.6 0.4 0.7 0.3 0.6 0.3 0.7 0.4 0.6 0.5 0.7 0.4 0.6 0.3 0.7 0.3 0.6 0.3 0.7 0.3 0.6 0.4 0.7 0.4 0.6 0.4 0.7 0.3 0.6 0.4 0.7 0.3 0.6 0.5 0.7 0.3 0.6 0.2 0.7 0.3 0.6 0.4 0.7 0.4 0.6 0.4 0.7 0.2 0.6 0.3 0.7 0.4 0.6 0.3 0.7 0.4 0.6 0.4 0.7 0.3 0.6 0.4 0.7 0.1 0.6 0.3 0.7 0.3 0.6 0.3 0.7 0.4 0.6 0.3 0.7 0.4 0.6 0.3 0.7 0.2 0.6 0.2 0.7 0.4 0.6 0.2 0.7 0.3 0.6 0.2 0.7 0.3 0.6 0.2 0.7 0.2 0.6 0.3 0.7 0.2 0.6 0.2 0.7 0.3 0.6 0.2 0.7 0.3 0.6 0.2 0.7 0.3 0.6 0.2 0.7 0.2 0.6 0.2 0.7 0.1 0.6 0.2 0.7 0.2 0.6 0.2 0.7 0.2 0.6 0.2 0.7 0.3 0.6 0.3 0.7 0.2 0.6 0.2 0.7 0.2 0.7 0.1 0.6 0.1 0.7 0.2 0.6 0.1 0.7 0.2 0.6 0.2 0.7 0.1 0.6 0.2 0.7 0.1 0.6 0.1 0.7 0.1 0.6 0 0.7 0.1 0.6 0.2 0.7 0.2 0.6 0.2 0.7 0 0.6 0.1 0.7 0.1 0.6 0.2 0.7 0.1 0.6 0.1 0.7 0 0.6 0.2 0.7 0.1 0.6 0.2 0.7 0 0.6 0.1 0.7 0.1 0.6 0.1 0.7 0.1 0.6 0.1 0.7 0 0.6 0.1 0.7 0.1 0.6 0.1 0.7 0 0.6 0.1 0.7 0 0.6 0.1 0.7 0 0.6 0 0.7 0 0.6 0 0.7 0.1 0.6-0.1 0.7 0 0.6 0 0.7 0 0.6-0.1 0.7 0.1 0.6-0.1 0.7 0 0.6 0 0.7-0.1 0.6 0 0.7 0 0.6-0.1 0.7 0 0.6-0.1 0.7 0 0.6 0 0.7 0 0.6-0.1 0.7-0.1 0.6 0 0.7-0.1 0.6 0 0.7-0.1 0.6 0 0.7 0 0.6-0.1 0.7-0.1 0.6 0 0.7-0.1 0.6 0 0.7-0.1 0.6 0 0.7-0.1 0.7 0 0.6-0.1 0.7-0.1 0.6-0.1 0.7-0.1 0.6 0 0.7-0.1 0.6-0.1 0.7 0 0.6 0 0.7-0.1 0.6-0.1 0.7-0.1 0.6-0.1 0.7-0.1 0.6-0.1 0.7-0.1 0.6-0.1 0.7-0.1 0.6-0.1 0.7-0.1 0.6-0.1 0.7-0.1 0.6-0.2 0.7-0.1 0.6-0.1 0.7-0.1 0.6-0.1 0.7-0.1 0.6-0.1 0.7-0.1 0.6-0.2 0.7-0.1 0.6-0.1 0.7-0.1 0.6-0.1 0.7-0.1 0.6-0.1 0.7-0.1 0.6-0.1 0.7-0.1 0.6-0.1 0.7-0.1 0.6-0.1 0.7-0.1 0.6-0.1 0.7-0.1 0.6-0.1 0.7-0.1 0.6-0.1 0.7-0.1 0.6-0.2 0.7-0.1 0.6-0.1 0.7-0.1 0.6-0.1 0.7-0.1 0.6-0.1 0.7-0.2 0.6-0.1 0.7-0.1 0.6-0.1 0.7-0.1 0.6-0.1 0.7-0.1 0.6-0.1 0.7-0.1 0.6-0.1 0.7-0.1 0.6-0.1 0.7-0.1 0.6-0.1 0.7-0.1 0.6 0 0.7-0.1 0.6 0 0.7-0.1 0.6 0 0.7-0.1 0.7 0 0.6 0 0.7 0.1 0.6 0 0.7 0 0.6 0.1 0.7 0 0.6 0.1 0.7 0.1 0.6 0.1 0.7 0.1 0.6 0.1 0.7 0.1 0.6 0.1 0.7 0.1 0.6 0.1 0.7 0.1 0.6 0.1 0.7 0.1 0.6 0.1 0.7 0.1 0.6 0.1 0.7 0.1 0.6 0.2 0.7 0.1 0.6 0.1 0.7 0.1 0.6 0.1 0.7 0.1 0.6 0.2 0.7 0.1 0.6 0.1 0.7 0.1 0.6 0.1 0.7 0.1 0.6 0.1 0.7 0.1 0.6 0.1 0.7 0.1 0.6 0.1 0.7 0.1 0.6 0.1 0.7 0.1 0.6 0.1 0.7 0.1 0.6 0.1 0.7 0.1 0.6 0.1 0.7 0.1 0.6 0.2 0.7 0.1 0.6 0.1 0.7 0.1 0.6 0.1 0.7 0.1 0.6 0.1 0.7 0.1 0.6 0.2 0.7 0.1 0.6 0.1 0.7 0.1 0.6 0.1 0.7 0.2 0.6 0.1 0.7 0.1 0.6 0 0.7 0.2 0.6 0 0.7 0.1 0.6 0 0.7 0.2 0.6 0.1 0.7 0.1 0.6 0 0.7 0 0.6 0.1 0.7 0 0.6 0.1 0.7 0.1 0.6 0 0.7 0.1 0.7 0 0.6 0.1 0.7 0.1 0.6 0 0.7 0.1 0.6 0 0.7 0.1 0.6 0 0.7 0.1 0.6 0 0.7 0.1 0.6 0 0.7 0.1 0.6 0.1 0.7 0 0.6 0 0.7 0.1 0.6 0 0.7 0.1 0.6 0 0.7 0 0.6 0.1 0.7 0 0.6 0 0.7 0 0.6 0.1 0.7 0.1 0.6 0 0.7 0 0.6 0 0.7 0 0.6 0 0.7 0 0.6 0 0.7 0 0.6 0 0.7-0.1 0.6 0.1 0.7 0 0.6-0.1 0.7-0.1 0.6 0 0.7 0 0.6-0.1 0.7-0.2 0.6 0 0.7 0 0.6-0.1 0.7-0.1 0.6-0.1 0.7-0.2 0.6-0.1 0.7 0 0.6-0.1 0.7 0 0.6-0.2 0.7-0.2 0.6-0.1 0.7-0.1 0.6 0 0.7-0.1 0.6-0.1 0.7-0.2 0.6-0.1 0.7-0.2 0.6 0 0.7-0.1 0.6-0.2 0.7-0.2 0.6-0.2 0.7 0 0.6-0.1 0.7-0.2 0.6-0.1 0.7-0.3 0.6-0.1 0.7-0.2 0.6 0 0.7-0.2 0.6-0.2 0.7-0.3 0.7-0.1 0.6-0.1 0.7-0.2 0.6-0.3 0.7-0.2 0.6-0.3 0.7-0.2 0.6-0.2 0.7-0.2 0.6-0.1 0.7-0.2 0.6-0.2 0.7-0.4 0.6-0.3 0.7-0.2 0.6-0.1 0.7-0.2 0.6-0.2 0.7-0.4 0.6-0.2 0.7-0.3 0.6-0.3 0.7-0.3 0.6-0.2 0.7-0.2 0.6-0.3 0.7-0.2 0.6-0.3 0.7-0.3 0.6-0.3 0.7-0.3 0.6-0.3 0.7-0.3 0.6-0.2 0.7-0.3 0.6-0.3 0.7-0.4 0.6-0.3 0.7-0.3 0.6-0.2 0.7-0.4 0.6-0.4 0.7-0.5 0.6-0.2 0.7-0.2 0.6-0.3 0.7-0.5 0.6-0.4 0.7-0.4 0.6-0.2 0.7-0.3 0.6-0.3 0.7-0.4 0.6-0.4 0.7-0.3 0.6-0.4 0.7-0.3 0.6-0.4 0.7-0.4 0.6-0.3 0.7-0.3 0.6-0.4 0.7-0.4 0.6-0.3 0.7-0.4 0.6-0.3 0.7-0.4 0.6-0.4 0.7-0.5 0.6-0.4 0.7-0.3 0.6-0.4 0.7-0.3 0.6-0.6 0.7-0.3 0.6-0.5 0.7-0.4 0.6-0.5 0.7-0.3 0.7-0.5 0.6-0.4 0.7-0.4 0.6-0.5 0.7-0.4 0.6-0.5 0.7-0.4 0.6-0.5 0.7-0.5 0.6-0.5 0.7-0.4 0.6-0.4 0.7-0.5 0.6-0.6 0.7-0.5 0.6-0.5 0.7-0.4 0.6-0.5 0.7-0.5 0.6-0.5 0.7-0.6 0.6-0.5 0.7-0.5 0.6-0.4 0.7-0.6 0.6-0.5 0.7-0.7 0.6-0.5 0.7-0.4 0.6-0.4 0.7-0.5 0.6-0.6 0.7-0.5 0.6-0.6 0.7-0.6 0.6-0.5 0.7-0.5 0.6-0.6 0.7-0.6 0.6-0.4 0.7-0.5 0.6-0.5 0.7-0.6 0.6-0.5 0.7-0.6 0.6-0.6 0.7-0.7 0.6-0.5 0.7-0.7 0.6-0.5 0.7-0.6 0.6-0.5 0.7-0.6 0.6-0.6 0.7-0.5 0.6-0.6 0.7-0.5 0.6-0.7 0.7-0.6 0.6-0.6 0.7-0.5 0.6-0.8 0.7-0.6 0.6-0.6 0.7-0.5 0.6-0.7 0.7-0.6 0.6-0.6 0.7-0.7 0.6-0.6 0.7-0.7 0.6-0.6 0.7-0.6 0.6-0.5 0.7-0.7 0.6-0.6 0.7-0.7 0.6-0.6 0.7-0.7 0.7-0.6 0.6-0.6 0.7-0.5 0.6-0.7 0.7-0.7 0.6-0.6 0.7-0.7 0.6-0.6 0.7-0.6 0.6-0.6 0.7-0.7 0.6-0.6 0.7-0.6 0.6-0.6 0.7-0.7 0.6-0.6 0.7-0.6 0.6-0.7 0.7-0.6 0.6-0.7 0.7-0.7 0.6-0.5 0.7-0.7 0.6-0.6 0.7-0.8 0.6-0.7 0.7-0.7 0.6-0.6 0.7-0.8 0.6-0.6 0.7-0.6 0.6-0.7 0.7-0.7 0.6-0.7 0.7-0.6 0.6-0.7 0.7-0.7 0.6-0.7 0.7-0.7 0.6-0.7 0.7-0.7 0.6-0.7 0.7-0.7 0.6-0.7 0.7-0.7 0.6-0.7 0.7-0.6 0.6-0.8 0.7-0.6 0.6-0.8 0.7-0.8 0.6-0.8 0.7-0.9 0.6-0.7 0.7-0.7 0.6-0.6 0.7-0.8 0.6-0.7 0.7-0.8 0.6-0.8 0.7-0.9 0.6-0.8 0.7-0.7 0.6-0.8 0.7-0.7 0.6-0.7 0.7-0.8 0.6-0.9 0.7-0.9 0.6-0.8 0.7-0.7 0.6-0.8 0.7-0.8 0.6-0.9 0.7-0.8 0.6-0.9 0.7-0.8 0.6-0.7 0.7-0.9 0.6-1 0.7-0.9" fill="none" stroke="#464244" stroke-width="4" stroke-linejoin="round"/>
<path d="M820.5 709.5l0.7 0.5 0.6 0.4 0.7 0.6 0.6 0.4 0.7 0.6 0.6 0.5 0.7 0.5 0.6 0.4 0.7 0.4 0.6 0.4 0.7 0.6 0.6 0.5 0.7 0.5 0.6 0.3 0.7 0.4 0.6 0.4 0.7 0.6 0.6 0.5 0.7 0.5 0.6 0.4 0.7 0.6 0.6 0.5 0.7 0.4 0.6 0.4 0.7 0.5 0.6 0.4 0.7 0.5 0.6 0.5 0.7 0.5 0.6 0.5 0.7 0.5 0.6 0.5 0.7 0.4 0.6 0.4 0.7 0.5 0.6 0.5 0.7 0.5 0.6 0.5 0.7 0.4 0.6 0.4 0.7 0.5 0.6 0.4 0.7 0.6 0.6 0.4 0.7 0.6 0.6 0.4 0.7 0.5 0.6 0.4 0.7 0.5 0.6 0.4 0.7 0.4 0.6 0.5 0.7 0.5 0.6 0.5 0.7 0.5 0.6 0.5 0.7 0.4 0.6 0.5 0.7 0.5 0.6 0.4 0.7 0.5 0.6 0.4 0.7 0.5 0.6 0.4 0.7 0.4 0.6 0.5 0.7 0.5 0.6 0.5 0.7 0.4 0.6 0.5 0.7 0.5 0.6 0.4 0.7 0.4 0.6 0.5 0.7 0.4 0.6 0.4 0.7 0.5 0.6 0.5 0.7 0.5 0.6 0.5 0.7 0.4 0.7 0.4 0.6 0.4 0.7 0.5 0.6 0.5 0.7 0.4 0.6 0.4 0.7 0.5 0.6 0.6 0.7 0.5 0.6 0.4 0.7 0.5 0.6 0.4 0.7 0.5 0.6 0.5 0.7 0.5 0.6 0.5 0.7 0.4 0.6 0.5 0.7 0.5 0.6 0.5 0.7 0.3 0.6 0.5 0.7 0.6 0.6 0.5 0.7 0.4 0.6 0.3 0.7 0.3 0.6 0.4 0.7 0.5 0.6 0.4 0.7 0.4 0.6 0.4 0.7 0.4 0.6 0.3 0.7 0.4 0.6 0.4 0.7 0.4 0.6 0.4 0.7 0.3 0.6 0.4 0.7 0.3 0.6 0.3 0.7 0.2 0.6 0.3 0.7 0.4 0.6 0.4 0.7 0.4 0.6 0.4 0.7 0.3 0.6 0.3 0.7 0.3 0.6 0.3 0.7 0.3 0.6 0.4 0.7 0.3 0.6 0.2 0.7 0.3 0.6 0.2 0.7 0.4 0.6 0.3 0.7 0.3 0.6 0.3 0.7 0.2 0.6 0.4 0.7 0.4 0.6 0.3 0.7 0.3 0.6 0.2 0.7 0.3 0.6 0.2 0.7 0.3 0.6 0.3 0.7 0.2 0.6 0.2 0.7 0.4 0.6 0.2 0.7 0.3 0.6 0.2 0.7 0.2 0.7 0.3 0.6 0.3 0.7 0.1 0.6 0.2 0.7 0.2 0.6 0.3 0.7 0.2 0.6 0.2 0.7 0.2 0.6 0.2 0.7 0.2 0.6 0.2 0.7 0.2 0.6 0.2 0.7 0.2 0.6 0.3 0.7 0.3 0.6 0.1 0.7 0.2 0.6 0.1 0.7 0.2 0.6 0.2 0.7 0.2 0.6 0.2 0.7 0.2 0.6 0.1 0.7 0.2 0.6 0.3 0.7 0.1 0.6 0.1 0.7 0.1 0.6 0.2 0.7 0.2 0.6 0.1 0.7 0.1 0.6 0.1 0.7 0.2 0.6 0.1 0.7 0.2 0.6 0.1 0.7 0.2 0.6 0.1 0.7 0 0.6 0 0.7 0.1 0.6 0.1 0.7 0.1 0.6 0.1 0.7 0.2 0.6 0.1 0.7 0 0.6 0.1 0.7 0.2 0.6 0.1 0.7 0.1 0.6 0 0.7 0.1 0.6 0.1 0.7 0 0.6 0 0.7 0.1 0.6 0.1 0.7 0.1 0.6 0.1 0.7 0 0.6 0.1 0.7 0.1 0.6 0.1 0.7 0 0.6 0 0.7 0 0.6 0 0.7 0 0.6 0.1 0.7 0 0.6 0 0.7 0.1 0.6 0.1 0.7 0.1 0.6 0 0.7 0 0.7 0 0.6-0.1 0.7 0 0.6 0 0.7 0 0.6 0 0.7 0 0.6 0 0.7-0.1 0.6 0 0.7-0.1 0.6 0 0.7-0.1 0.6 0 0.7 0 0.6 0 0.7-0.1 0.6-0.1 0.7 0 0.6-0.1 0.7 0 0.6-0.1 0.7-0.1 0.6-0.1 0.7 0 0.6 0 0.7-0.1 0.6-0.1 0.7-0.1 0.6 0 0.7-0.1 0.6-0.1 0.7-0.1 0.6 0 0.7-0.1 0.6-0.1 0.7-0.1 0.6 0 0.7-0.1 0.6 0 0.7-0.1 0.6-0.2 0.7-0.1 0.6 0 0.7-0.1 0.6-0.2 0.7 0 0.6-0.1 0.7-0.1 0.6-0.1 0.7-0.1 0.6-0.1 0.7-0.1 0.6-0.1 0.7-0.2 0.6-0.1 0.7-0.1 0.6-0.2 0.7-0.1 0.6-0.2 0.7-0.1 0.6-0.1 0.7-0.2 0.6-0.1 0.7-0.2 0.6-0.2 0.7-0.1 0.6-0.2 0.7-0.2 0.6-0.1 0.7-0.2 0.6-0.2 0.7-0.2 0.6-0.1 0.7-0.2 0.6-0.2 0.7-0.2 0.6-0.1 0.7-0.2 0.7-0.2 0.6-0.2 0.7-0.3 0.6-0.2 0.7-0.3 0.6-0.2 0.7-0.2 0.6-0.3 0.7-0.2 0.6-0.2 0.7-0.3 0.6-0.2 0.7-0.3 0.6-0.3 0.7-0.3 0.6-0.2 0.7-0.3 0.6-0.3 0.7-0.2 0.6-0.3 0.7-0.3 0.6-0.2 0.7-0.3 0.6-0.4 0.7-0.2 0.6-0.3 0.7-0.2 0.6-0.3 0.7-0.2 0.6-0.3 0.7-0.3 0.6-0.3 0.7-0.2 0.6-0.3 0.7-0.3 0.6-0.2 0.7-0.3 0.6-0.2 0.7-0.2 0.6-0.2 0.7-0.2 0.6-0.3 0.7-0.2 0.6-0.3 0.7-0.2 0.6-0.2 0.7-0.2 0.6-0.2 0.7-0.2 0.6-0.3 0.7-0.2 0.6-0.2 0.7-0.3 0.6-0.2 0.7-0.2 0.6-0.2 0.7-0.2 0.6-0.2 0.7-0.2 0.6-0.3 0.7-0.2 0.6-0.2 0.7-0.2 0.6-0.1 0.7-0.2 0.6-0.2 0.7-0.2 0.6-0.2 0.7-0.2 0.6-0.1 0.7-0.2 0.6-0.1 0.7-0.2 0.6-0.1 0.7-0.1 0.6-0.1 0.7 0 0.6-0.1 0.7-0.1 0.7 0 0.6 0 0.7 0.1 0.6 0 0.7 0.1 0.6 0.1 0.7 0.1 0.6 0.1 0.7 0.2 0.6 0.1 0.7 0.2 0.6 0.1 0.7 0.2 0.6 0.2 0.7 0.1 0.6 0.2 0.7 0.2 0.6 0.2 0.7 0.2 0.6 0.2 0.7 0.2 0.6 0.2 0.7 0.2 0.6 0.3 0.7 0.2 0.6 0.2 0.7 0.2 0.6 0.3 0.7 0.2 0.6 0.2 0.7 0.2 0.6 0.3 0.7 0.2 0.6 0.2 0.7 0.2 0.6 0.3 0.7 0.2 0.6 0.2 0.7 0.3 0.6 0.2 0.7 0.2 0.6 0.3 0.7 0.1 0.6 0.3 0.7 0.2 0.6 0.3 0.7 0.2 0.6 0.3 0.7 0.2 0.6 0.3 0.7 0.3 0.6 0.2 0.7 0.3 0.6 0.2 0.7 0.3 0.6 0.3 0.7 0.3 0.6 0.3 0.7 0.2 0.6 0.3 0.7 0.3 0.6 0.3 0.7 0.3 0.6 0.2 0.7 0.3 0.6 0.3 0.7 0.3 0.6 0.2 0.7 0.3 0.6 0.2 0.7 0.3 0.6 0.3 0.7 0.2 0.6 0.2 0.7 0.2 0.6 0.3 0.7 0.2 0.6 0.2 0.7 0.2 0.6 0.3 0.7 0.1 0.7 0.2 0.6 0.2 0.7 0.2 0.6 0.2 0.7 0.2 0.6 0.1 0.7 0.2 0.6 0.2 0.7 0.1 0.6 0.2 0.7 0.2 0.6 0.2 0.7 0.2 0.6 0.1 0.7 0.2 0.6 0.1 0.7 0.2 0.6 0.1 0.7 0.2 0.6 0.1 0.7 0.1 0.6 0.2 0.7 0.1 0.6 0.1 0.7 0.1 0.6 0.2 0.7 0.1 0.6 0.2 0.7 0 0.6 0.1 0.7 0.1 0.6 0.1 0.7 0.1 0.6 0.1 0.7 0 0.6 0.1 0.7 0 0.6 0.2 0.7 0.1 0.6 0.1 0.7 0 0.6 0.1 0.7 0.1 0.6 0.1 0.7 0 0.6 0.1 0.7 0.1 0.6 0.1 0.7 0.1 0.6 0 0.7 0 0.6 0.1 0.7 0.1 0.6 0.1 0.7 0.1 0.6 0 0.7 0 0.6 0.1 0.7 0.1 0.6 0.1 0.7 0.1 0.6 0.1 0.7 0 0.6 0 0.7 0 0.6 0.1 0.7 0.1 0.6-0.1 0.7 0 0.6 0 0.7 0.1 0.6 0 0.7 0.1 0.6 0 0.7-0.1 0.6 0 0.7 0 0.6 0.2 0.7-0.1 0.6 0 0.7-0.1 0.7 0.1 0.6 0 0.7 0 0.6-0.1 0.7 0 0.6-0.2 0.7 0 0.6-0.1 0.7 0 0.6 0.1 0.7-0.1 0.6 0 0.7-0.2 0.6-0.1 0.7-0.1 0.6 0.1 0.7-0.1 0.6 0 0.7-0.2 0.6 0 0.7-0.2 0.6-0.1 0.7-0.1 0.6-0.1 0.7 0 0.6-0.1 0.7 0 0.6-0.1 0.7-0.1 0.6-0.1 0.7-0.2 0.6 0 0.7-0.2 0.6 0 0.7 0 0.6-0.1 0.7-0.1 0.6-0.2 0.7 0 0.6 0 0.7-0.2 0.6-0.2 0.7-0.3 0.6 0 0.7 0 0.6-0.2 0.7-0.2 0.6-0.3 0.7-0.1 0.6-0.1 0.7-0.1 0.6-0.2 0.7-0.2 0.6-0.1 0.7-0.2 0.6-0.2 0.7-0.1 0.6-0.2 0.7-0.3 0.6-0.2 0.7-0.1 0.6-0.2 0.7-0.3 0.6-0.1 0.7-0.3 0.6-0.1 0.7-0.2 0.6-0.2 0.7-0.4 0.6-0.2 0.7-0.1 0.6-0.2 0.7-0.2 0.6-0.3 0.7-0.1 0.6-0.4 0.7-0.1 0.6-0.3 0.7-0.2 0.7-0.2 0.6-0.2 0.7-0.3 0.6-0.2 0.7-0.2 0.6-0.3 0.7-0.2 0.6-0.3 0.7-0.4 0.6-0.3 0.7-0.2 0.6-0.2 0.7-0.3 0.6-0.4 0.7-0.3 0.6-0.3 0.7-0.2 0.6-0.4 0.7-0.2 0.6-0.4 0.7-0.3 0.6-0.4 0.7-0.3 0.6-0.2 0.7-0.4 0.6-0.3 0.7-0.5 0.6-0.3 0.7-0.2 0.6-0.2 0.7-0.3 0.6-0.3 0.7-0.4 0.6-0.4 0.7-0.3 0.6-0.3 0.7-0.4 0.6-0.3 0.7-0.4 0.6-0.2 0.7-0.3 0.6-0.3 0.7-0.4 0.6-0.3 0.7-0.5 0.6-0.4 0.7-0.5 0.6-0.3 0.7-0.5 0.6-0.4 0.7-0.4 0.6-0.3 0.7-0.4 0.6-0.5 0.7-0.4 0.6-0.4 0.7-0.4 0.6-0.6 0.7-0.5 0.6-0.4 0.7-0.4 0.6-0.6 0.7-0.5 0.6-0.4 0.7-0.4 0.6-0.5 0.7-0.5 0.6-0.5 0.7-0.4 0.6-0.5 0.7-0.5 0.6-0.5 0.7-0.4 0.6-0.4 0.7-0.4 0.6-0.6 0.7-0.5 0.6-0.4 0.7-0.5 0.7-0.5 0.6-0.4 0.7-0.3 0.6-0.5 0.7-0.5 0.6-0.5 0.7-0.5 0.6-0.4 0.7-0.5 0.6-0.4 0.7-0.5 0.6-0.4 0.7-0.5 0.6-0.4 0.7-0.5 0.6-0.4 0.7-0.5 0.6-0.5 0.7-0.4 0.6-0.5 0.7-0.4 0.6-0.4 0.7-0.5 0.6-0.5 0.7-0.5 0.6-0.5 0.7-0.5 0.6-0.5 0.7-0.5 0.6-0.4 0.7-0.4 0.6-0.5 0.7-0.5 0.6-0.5 0.7-0.4 0.6-0.5 0.7-0.4 0.6-0.4 0.7-0.5 0.6-0.5 0.7-0.5 0.6-0.4 0.7-0.5 0.6-0.5 0.7-0.4 0.6-0.5 0.7-0.4 0.6-0.5 0.7-0.4 0.6-0.5 0.7-0.5 0.6-0.5 0.7-0.6 0.6-0.5 0.7-0.4 0.6-0.3 0.7-0.5 0.6-0.5 0.7-0.5 0.6-0.5 0.7-0.5 0.6-0.5 0.7-0.5 0.6-0.4 0.7-0.4 0.6-0.4 0.7-0.5 0.6-0.6 0.7-0.5 0.6-0.4 0.7-0.4 0.6-0.5 0.7-0.4 0.6-0.5 0.7-0.5 0.6-0.5 0.7-0.4 0.6-0.4 0.7-0.6 0.6-0.5 0.7-0.5" fill="none" stroke="#e2464a" stroke-width="4" stroke-linejoin="round"/>
<path d="M820.5 754.1l0.7 0.5 0.6 0.5 0.7 0.5 0.6 0.4 0.7 0.5 0.6 0.5 0.7 0.4 0.6 0.4 0.7 0.4 0.6 0.4 0.7 0.5 0.6 0.5 0.7 0.4 0.6 0.3 0.7 0.3 0.6 0.4 0.7 0.5 0.6 0.5 0.7 0.4 0.6 0.3 0.7 0.5 0.6 0.4 0.7 0.4 0.6 0.4 0.7 0.3 0.6 0.3 0.7 0.5 0.6 0.3 0.7 0.5 0.6 0.3 0.7 0.5 0.6 0.3 0.7 0.3 0.6 0.3 0.7 0.3 0.6 0.4 0.7 0.4 0.6 0.3 0.7 0.3 0.6 0.3 0.7 0.3 0.6 0.3 0.7 0.4 0.6 0.3 0.7 0.4 0.6 0.2 0.7 0.3 0.6 0.2 0.7 0.3 0.6 0.2 0.7 0.2 0.6 0.4 0.7 0.2 0.6 0.4 0.7 0.3 0.6 0.3 0.7 0.2 0.6 0.2 0.7 0.3 0.6 0.2 0.7 0.3 0.6 0.2 0.7 0.2 0.6 0.2 0.7 0.2 0.6 0.3 0.7 0.3 0.6 0.2 0.7 0.3 0.6 0.2 0.7 0.2 0.6 0.3 0.7 0.1 0.6 0.3 0.7 0.2 0.6 0.2 0.7 0.2 0.6 0.3 0.7 0.3 0.6 0.2 0.7 0.2 0.7 0.2 0.6 0.2 0.7 0.3 0.6 0.2 0.7 0.3 0.6 0.2 0.7 0.3 0.6 0.3 0.7 0.2 0.6 0.3 0.7 0.2 0.6 0.2 0.7 0.3 0.6 0.2 0.7 0.3 0.6 0.3 0.7 0.1 0.6 0.3 0.7 0.3 0.6 0.3 0.7 0.1 0.6 0.2 0.7 0.4 0.6 0.3 0.7 0.2 0.6 0.1 0.7 0.1 0.6 0.2 0.7 0.3 0.6 0.3 0.7 0.2 0.6 0.2 0.7 0.3 0.6 0.1 0.7 0.3 0.6 0.2 0.7 0.3 0.6 0.2 0.7 0.2 0.6 0.2 0.7 0.2 0.6 0.2 0.7 0.1 0.6 0.2 0.7 0.3 0.6 0.3 0.7 0.3 0.6 0.3 0.7 0.2 0.6 0.2 0.7 0.2 0.6 0.2 0.7 0.2 0.6 0.3 0.7 0.2 0.6 0.1 0.7 0.1 0.6 0.2 0.7 0.2 0.6 0.2 0.7 0.2 0.6 0.2 0.7 0.1 0.6 0.2 0.7 0.3 0.6 0.2 0.7 0.2 0.6 0 0.7 0.2 0.6 0.1 0.7 0.1 0.6 0.1 0.7 0.1 0.6 0.1 0.7 0.2 0.6 0.1 0.7 0.1 0.6 0 0.7 0.1 0.7 0.2 0.6 0.1 0.7 0 0.6 0.1 0.7 0.1 0.6 0.1 0.7 0.1 0.6 0.1 0.7 0.1 0.6 0.1 0.7 0 0.6 0.1 0.7 0 0.6 0.1 0.7 0.1 0.6 0.2 0.7 0.1 0.6 0.1 0.7 0 0.6 0 0.7 0.1 0.6 0.1 0.7 0.1 0.6 0.1 0.7 0 0.6 0.1 0.7 0.1 0.6 0.1 0.7 0.1 0.6 0 0.7 0 0.6 0.1 0.7 0.1 0.6 0.1 0.7-0.1 0.6 0.1 0.7 0.1 0.6 0 0.7 0.1 0.6 0.1 0.7 0.1 0.6 0.1 0.7-0.1 0.6-0.1 0.7 0.1 0.6 0.1 0.7 0 0.6 0.1 0.7 0.1 0.6 0 0.7 0 0.6-0.1 0.7 0.2 0.6 0 0.7 0 0.6-0.1 0.7 0.1 0.6 0 0.7-0.1 0.6 0 0.7 0 0.6 0 0.7 0 0.6 0 0.7 0 0.6 0 0.7 0 0.6 0 0.7-0.1 0.6-0.1 0.7-0.1 0.6-0.1 0.7 0 0.6-0.1 0.7 0 0.6-0.1 0.7 0 0.6 0.1 0.7 0 0.6-0.1 0.7-0.1 0.7-0.1 0.6-0.1 0.7-0.1 0.6 0 0.7-0.1 0.6 0 0.7-0.1 0.6 0 0.7-0.1 0.6-0.1 0.7-0.1 0.6-0.1 0.7-0.1 0.6 0 0.7 0 0.6-0.1 0.7-0.1 0.6-0.2 0.7 0 0.6-0.1 0.7-0.1 0.6-0.1 0.7-0.2 0.6 0 0.7-0.1 0.6 0 0.7-0.2 0.6-0.1 0.7-0.2 0.6 0 0.7-0.1 0.6-0.2 0.7-0.1 0.6-0.1 0.7-0.1 0.6-0.1 0.7-0.2 0.6-0.1 0.7-0.1 0.6 0 0.7-0.2 0.6-0.2 0.7-0.1 0.6-0.1 0.7-0.2 0.6-0.1 0.7-0.1 0.6-0.2 0.7-0.1 0.6-0.2 0.7-0.1 0.6-0.2 0.7-0.1 0.6-0.2 0.7-0.2 0.6-0.2 0.7-0.1 0.6-0.2 0.7-0.2 0.6-0.2 0.7-0.2 0.6-0.1 0.7-0.2 0.6-0.2 0.7-0.2 0.6-0.2 0.7-0.3 0.6-0.1 0.7-0.3 0.6-0.2 0.7-0.2 0.6-0.2 0.7-0.2 0.6-0.3 0.7-0.2 0.6-0.2 0.7-0.3 0.6-0.2 0.7-0.2 0.7-0.3 0.6-0.3 0.7-0.3 0.6-0.3 0.7-0.3 0.6-0.3 0.7-0.4 0.6-0.3 0.7-0.3 0.6-0.3 0.7-0.4 0.6-0.3 0.7-0.4 0.6-0.4 0.7-0.3 0.6-0.4 0.7-0.4 0.6-0.3 0.7-0.4 0.6-0.4 0.7-0.4 0.6-0.4 0.7-0.4 0.6-0.4 0.7-0.4 0.6-0.3 0.7-0.4 0.6-0.4 0.7-0.4 0.6-0.4 0.7-0.4 0.6-0.4 0.7-0.4 0.6-0.4 0.7-0.4 0.6-0.3 0.7-0.4 0.6-0.4 0.7-0.3 0.6-0.4 0.7-0.4 0.6-0.3 0.7-0.4 0.6-0.4 0.7-0.4 0.6-0.4 0.7-0.3 0.6-0.4 0.7-0.3 0.6-0.4 0.7-0.4 0.6-0.4 0.7-0.4 0.6-0.3 0.7-0.4 0.6-0.4 0.7-0.4 0.6-0.3 0.7-0.4 0.6-0.4 0.7-0.4 0.6-0.3 0.7-0.4 0.6-0.3 0.7-0.4 0.6-0.3 0.7-0.3 0.6-0.4 0.7-0.3 0.6-0.3 0.7-0.3 0.6-0.3 0.7-0.2 0.6-0.2 0.7-0.2 0.6-0.2 0.7-0.1 0.6-0.2 0.7 0 0.7-0.1 0.6 0 0.7 0.1 0.6 0.1 0.7 0.2 0.6 0.1 0.7 0.2 0.6 0.3 0.7 0.2 0.6 0.3 0.7 0.3 0.6 0.3 0.7 0.3 0.6 0.3 0.7 0.4 0.6 0.3 0.7 0.4 0.6 0.3 0.7 0.4 0.6 0.4 0.7 0.3 0.6 0.4 0.7 0.3 0.6 0.4 0.7 0.4 0.6 0.4 0.7 0.4 0.6 0.4 0.7 0.3 0.6 0.4 0.7 0.4 0.6 0.4 0.7 0.3 0.6 0.4 0.7 0.4 0.6 0.4 0.7 0.3 0.6 0.4 0.7 0.4 0.6 0.4 0.7 0.3 0.6 0.4 0.7 0.3 0.6 0.4 0.7 0.4 0.6 0.4 0.7 0.4 0.6 0.3 0.7 0.4 0.6 0.4 0.7 0.4 0.6 0.4 0.7 0.3 0.6 0.4 0.7 0.5 0.6 0.4 0.7 0.3 0.6 0.4 0.7 0.4 0.6 0.4 0.7 0.4 0.6 0.4 0.7 0.4 0.6 0.4 0.7 0.3 0.6 0.4 0.7 0.4 0.6 0.3 0.7 0.4 0.6 0.3 0.7 0.4 0.6 0.4 0.7 0.3 0.6 0.3 0.7 0.3 0.6 0.3 0.7 0.3 0.6 0.3 0.7 0.3 0.6 0.3 0.7 0.2 0.7 0.3 0.6 0.2 0.7 0.3 0.6 0.2 0.7 0.2 0.6 0.3 0.7 0.2 0.6 0.2 0.7 0.2 0.6 0.2 0.7 0.2 0.6 0.3 0.7 0.2 0.6 0.2 0.7 0.2 0.6 0.2 0.7 0.2 0.6 0.2 0.7 0.1 0.6 0.2 0.7 0.2 0.6 0.2 0.7 0.1 0.6 0.1 0.7 0.2 0.6 0.2 0.7 0.3 0.6 0.1 0.7 0.1 0.6 0.1 0.7 0.2 0.6 0.1 0.7 0.2 0.6 0.1 0.7 0.1 0.6 0.1 0.7 0.1 0.6 0.2 0.7 0.2 0.6 0.1 0.7 0.1 0.6 0.1 0.7 0.2 0.6 0.1 0.7 0 0.6 0.2 0.7 0.1 0.6 0.2 0.7 0.1 0.6 0 0.7 0.1 0.6 0.1 0.7 0.2 0.6 0.1 0.7 0.1 0.6 0.1 0.7 0 0.6 0.1 0.7 0.1 0.6 0.2 0.7 0.1 0.6 0.1 0.7 0.1 0.6 0 0.7 0.1 0.6 0.2 0.7 0 0.6 0 0.7 0 0.6 0.1 0.7 0.1 0.6 0.1 0.7 0 0.6 0.2 0.7-0.1 0.6 0 0.7 0.1 0.6 0.3 0.7 0 0.6 0 0.7-0.1 0.7 0.2 0.6 0.1 0.7 0.1 0.6 0 0.7 0 0.6 0 0.7 0 0.6 0.1 0.7 0 0.6 0.2 0.7 0 0.6 0.1 0.7-0.1 0.6 0 0.7 0 0.6 0.1 0.7 0.1 0.6 0 0.7-0.1 0.6 0 0.7-0.1 0.6 0 0.7 0 0.6 0 0.7 0 0.6 0 0.7 0 0.6 0 0.7 0 0.6 0 0.7-0.1 0.6 0 0.7-0.1 0.6 0 0.7 0.1 0.6-0.1 0.7-0.1 0.6 0 0.7 0 0.6 0 0.7-0.1 0.6-0.1 0.7-0.2 0.6 0 0.7 0.1 0.6-0.1 0.7-0.1 0.6-0.2 0.7-0.1 0.6 0.1 0.7 0 0.6-0.1 0.7-0.1 0.6-0.1 0.7 0 0.6-0.1 0.7-0.1 0.6 0 0.7-0.1 0.6-0.1 0.7-0.1 0.6 0 0.7-0.2 0.6 0 0.7-0.1 0.6-0.1 0.7-0.1 0.6 0 0.7-0.2 0.6-0.1 0.7-0.1 0.6-0.1 0.7 0 0.6-0.2 0.7 0.1 0.6-0.3 0.7 0 0.6-0.1 0.7-0.1 0.7-0.1 0.6-0.1 0.7 0 0.6-0.2 0.7 0 0.6-0.1 0.7-0.1 0.6-0.1 0.7-0.2 0.6-0.2 0.7-0.1 0.6 0 0.7-0.2 0.6-0.2 0.7-0.2 0.6-0.2 0.7-0.1 0.6-0.3 0.7-0.1 0.6-0.2 0.7-0.2 0.6-0.3 0.7-0.2 0.6-0.1 0.7-0.3 0.6-0.2 0.7-0.4 0.6-0.2 0.7-0.1 0.6-0.1 0.7-0.2 0.6-0.2 0.7-0.3 0.6-0.3 0.7-0.2 0.6-0.2 0.7-0.3 0.6-0.2 0.7-0.2 0.6-0.2 0.7-0.1 0.6-0.2 0.7-0.2 0.6-0.2 0.7-0.3 0.6-0.2 0.7-0.3 0.6-0.2 0.7-0.3 0.6-0.2 0.7-0.3 0.6-0.1 0.7-0.2 0.6-0.3 0.7-0.2 0.6-0.2 0.7-0.2 0.6-0.3 0.7-0.3 0.6-0.2 0.7-0.2 0.6-0.4 0.7-0.2 0.6-0.2 0.7-0.2 0.6-0.2 0.7-0.3 0.6-0.2 0.7-0.3 0.6-0.2 0.7-0.3 0.6-0.3 0.7-0.2 0.6-0.1 0.7-0.3 0.6-0.3 0.7-0.3 0.6-0.2 0.7-0.3 0.7-0.2 0.6-0.2 0.7-0.1 0.6-0.3 0.7-0.3 0.6-0.2 0.7-0.3 0.6-0.2 0.7-0.2 0.6-0.2 0.7-0.3 0.6-0.2 0.7-0.2 0.6-0.2 0.7-0.3 0.6-0.2 0.7-0.2 0.6-0.3 0.7-0.2 0.6-0.3 0.7-0.2 0.6-0.2 0.7-0.2 0.6-0.3 0.7-0.4 0.6-0.2 0.7-0.3 0.6-0.3 0.7-0.3 0.6-0.2 0.7-0.2 0.6-0.3 0.7-0.3 0.6-0.3 0.7-0.3 0.6-0.3 0.7-0.3 0.6-0.3 0.7-0.3 0.6-0.3 0.7-0.3 0.6-0.3 0.7-0.4 0.6-0.3 0.7-0.3 0.6-0.3 0.7-0.3 0.6-0.4 0.7-0.3 0.6-0.4 0.7-0.4 0.6-0.4 0.7-0.5 0.6-0.3 0.7-0.4 0.6-0.2 0.7-0.4 0.6-0.4 0.7-0.4 0.6-0.4 0.7-0.5 0.6-0.4 0.7-0.4 0.6-0.4 0.7-0.3 0.6-0.3 0.7-0.5 0.6-0.5 0.7-0.5 0.6-0.4 0.7-0.3 0.6-0.5 0.7-0.4 0.6-0.4 0.7-0.5 0.6-0.5 0.7-0.4 0.6-0.3 0.7-0.6 0.6-0.5 0.7-0.5" fill="none" stroke="#3d6db5" stroke-width="4" stroke-linejoin="round"/>
<path d="M820.5 787.1l0.7 0.4 0.6 0.3 0.7 0.3 0.6 0.3 0.7 0.4 0.6 0.3 0.7 0.3 0.6 0.3 0.7 0.2 0.6 0.2 0.7 0.4 0.6 0.4 0.7 0.2 0.6 0.2 0.7 0.1 0.6 0.3 0.7 0.4 0.6 0.3 0.7 0.3 0.6 0.2 0.7 0.4 0.6 0.3 0.7 0.2 0.6 0.2 0.7 0.3 0.6 0.1 0.7 0.4 0.6 0.2 0.7 0.3 0.6 0.2 0.7 0.3 0.6 0.2 0.7 0.2 0.6 0.2 0.7 0.3 0.6 0.2 0.7 0.2 0.6 0.3 0.7 0.2 0.6 0.2 0.7 0.2 0.6 0.1 0.7 0.3 0.6 0.2 0.7 0.3 0.6 0.1 0.7 0.2 0.6 0.1 0.7 0.2 0.6 0.2 0.7 0.1 0.6 0.2 0.7 0.2 0.6 0.2 0.7 0.2 0.6 0.2 0.7 0.1 0.6 0.2 0.7 0.2 0.6 0.1 0.7 0.2 0.6 0.1 0.7 0.1 0.6 0.1 0.7 0.1 0.6 0.2 0.7 0.2 0.6 0.2 0.7 0.2 0.6 0.1 0.7 0.2 0.6 0.1 0.7 0.1 0.6 0.2 0.7 0.1 0.6 0.1 0.7 0.2 0.6 0.2 0.7 0.2 0.6 0.1 0.7 0.1 0.7 0.2 0.6 0.1 0.7 0.2 0.6 0.2 0.7 0.1 0.6 0.2 0.7 0.2 0.6 0.3 0.7 0.2 0.6 0.2 0.7 0.2 0.6 0.2 0.7 0.2 0.6 0.2 0.7 0.2 0.6 0.3 0.7 0.1 0.6 0.2 0.7 0.2 0.6 0.3 0.7 0 0.6 0.2 0.7 0.3 0.6 0.2 0.7 0.1 0.6 0 0.7 0 0.6 0.1 0.7 0.1 0.6 0.2 0.7 0.1 0.6 0 0.7 0.1 0.6 0.1 0.7 0.1 0.6 0.1 0.7 0.1 0.6 0.1 0.7 0.1 0.6 0.1 0.7 0 0.6 0 0.7 0 0.6 0.1 0.7 0.1 0.6 0.1 0.7 0.2 0.6 0.2 0.7 0 0.6 0 0.7 0.1 0.6 0 0.7 0.1 0.6 0.1 0.7 0.1 0.6 0 0.7 0 0.6 0 0.7 0.1 0.6 0 0.7 0.1 0.6 0 0.7 0.1 0.6 0.1 0.7 0.1 0.6 0.1 0.7 0 0.6 0 0.7 0 0.6 0 0.7 0.1 0.6 0 0.7 0.1 0.6-0.1 0.7 0.2 0.6 0 0.7 0 0.6 0 0.7 0 0.7 0.1 0.6 0.1 0.7-0.1 0.6 0 0.7 0.1 0.6 0 0.7 0.1 0.6-0.1 0.7 0.1 0.6 0 0.7 0 0.6 0 0.7-0.1 0.6 0 0.7 0.1 0.6 0 0.7 0.1 0.6 0 0.7-0.1 0.6-0.1 0.7 0 0.6 0 0.7 0 0.6 0.1 0.7-0.1 0.6 0 0.7 0 0.6 0 0.7 0 0.6-0.2 0.7-0.1 0.6 0 0.7 0.1 0.6-0.1 0.7-0.1 0.6-0.1 0.7 0 0.6 0 0.7 0 0.6 0 0.7 0 0.6-0.1 0.7-0.2 0.6-0.1 0.7 0 0.6-0.1 0.7 0 0.6-0.1 0.7 0.1 0.6-0.1 0.7-0.1 0.6-0.2 0.7 0.1 0.6-0.1 0.7-0.1 0.6-0.1 0.7-0.1 0.6 0 0.7-0.2 0.6-0.1 0.7-0.1 0.6 0 0.7-0.1 0.6-0.1 0.7 0 0.6-0.1 0.7-0.1 0.6 0 0.7-0.2 0.6-0.1 0.7-0.2 0.6-0.1 0.7-0.1 0.6 0 0.7-0.1 0.6-0.1 0.7 0 0.6 0 0.7-0.1 0.6 0 0.7-0.2 0.7-0.1 0.6-0.1 0.7-0.1 0.6-0.1 0.7-0.1 0.6-0.1 0.7-0.1 0.6 0 0.7-0.2 0.6-0.1 0.7-0.2 0.6-0.1 0.7-0.2 0.6 0 0.7-0.1 0.6-0.1 0.7-0.1 0.6-0.2 0.7-0.1 0.6-0.1 0.7-0.2 0.6-0.2 0.7-0.2 0.6-0.1 0.7-0.1 0.6 0 0.7-0.2 0.6-0.2 0.7-0.2 0.6-0.1 0.7-0.1 0.6-0.2 0.7-0.2 0.6-0.1 0.7-0.2 0.6-0.1 0.7-0.2 0.6-0.2 0.7-0.1 0.6-0.1 0.7-0.2 0.6-0.2 0.7-0.2 0.6-0.1 0.7-0.2 0.6-0.2 0.7-0.2 0.6-0.2 0.7-0.1 0.6-0.3 0.7-0.1 0.6-0.2 0.7-0.2 0.6-0.2 0.7-0.2 0.6-0.2 0.7-0.2 0.6-0.3 0.7-0.2 0.6-0.2 0.7-0.2 0.6-0.2 0.7-0.2 0.6-0.2 0.7-0.3 0.6-0.2 0.7-0.3 0.6-0.2 0.7-0.3 0.6-0.2 0.7-0.2 0.6-0.3 0.7-0.3 0.6-0.2 0.7-0.3 0.6-0.2 0.7-0.3 0.6-0.3 0.7-0.3 0.7-0.3 0.6-0.3 0.7-0.3 0.6-0.4 0.7-0.4 0.6-0.3 0.7-0.4 0.6-0.3 0.7-0.4 0.6-0.3 0.7-0.4 0.6-0.4 0.7-0.4 0.6-0.4 0.7-0.4 0.6-0.4 0.7-0.4 0.6-0.4 0.7-0.5 0.6-0.4 0.7-0.4 0.6-0.4 0.7-0.5 0.6-0.5 0.7-0.4 0.6-0.4 0.7-0.5 0.6-0.4 0.7-0.5 0.6-0.4 0.7-0.5 0.6-0.5 0.7-0.4 0.6-0.5 0.7-0.5 0.6-0.4 0.7-0.5 0.6-0.4 0.7-0.5 0.6-0.4 0.7-0.5 0.6-0.5 0.7-0.5 0.6-0.4 0.7-0.5 0.6-0.5 0.7-0.5 0.6-0.5 0.7-0.5 0.6-0.4 0.7-0.6 0.6-0.5 0.7-0.5 0.6-0.5 0.7-0.5 0.6-0.5 0.7-0.5 0.6-0.5 0.7-0.5 0.6-0.5 0.7-0.6 0.6-0.5 0.7-0.4 0.6-0.5 0.7-0.5 0.6-0.5 0.7-0.5 0.6-0.4 0.7-0.5 0.6-0.4 0.7-0.5 0.6-0.3 0.7-0.4 0.6-0.3 0.7-0.3 0.6-0.3 0.7-0.2 0.6-0.1 0.7-0.1 0.7-0.1 0.6 0.1 0.7 0.1 0.6 0.1 0.7 0.2 0.6 0.3 0.7 0.2 0.6 0.4 0.7 0.4 0.6 0.4 0.7 0.4 0.6 0.4 0.7 0.4 0.6 0.5 0.7 0.5 0.6 0.4 0.7 0.5 0.6 0.5 0.7 0.5 0.6 0.6 0.7 0.4 0.6 0.6 0.7 0.5 0.6 0.5 0.7 0.5 0.6 0.5 0.7 0.5 0.6 0.5 0.7 0.5 0.6 0.6 0.7 0.5 0.6 0.4 0.7 0.5 0.6 0.5 0.7 0.5 0.6 0.5 0.7 0.5 0.6 0.5 0.7 0.5 0.6 0.4 0.7 0.5 0.6 0.5 0.7 0.4 0.6 0.4 0.7 0.5 0.6 0.5 0.7 0.4 0.6 0.5 0.7 0.4 0.6 0.5 0.7 0.5 0.6 0.4 0.7 0.4 0.6 0.5 0.7 0.5 0.6 0.4 0.7 0.5 0.6 0.4 0.7 0.4 0.6 0.5 0.7 0.4 0.6 0.4 0.7 0.5 0.6 0.4 0.7 0.4 0.6 0.4 0.7 0.5 0.6 0.3 0.7 0.4 0.6 0.4 0.7 0.4 0.6 0.4 0.7 0.4 0.6 0.3 0.7 0.3 0.6 0.4 0.7 0.3 0.6 0.3 0.7 0.4 0.6 0.3 0.7 0.3 0.7 0.3 0.6 0.3 0.7 0.3 0.6 0.2 0.7 0.3 0.6 0.2 0.7 0.3 0.6 0.2 0.7 0.3 0.6 0.2 0.7 0.3 0.6 0.2 0.7 0.3 0.6 0.2 0.7 0.3 0.6 0.2 0.7 0.2 0.6 0.2 0.7 0.2 0.6 0.2 0.7 0.3 0.6 0.2 0.7 0.2 0.6 0.1 0.7 0.2 0.6 0.3 0.7 0.2 0.6 0.2 0.7 0.2 0.6 0.1 0.7 0.3 0.6 0.1 0.7 0.2 0.6 0.2 0.7 0.1 0.6 0.2 0.7 0.1 0.6 0.2 0.7 0.3 0.6 0.1 0.7 0.1 0.6 0.2 0.7 0.2 0.6 0.1 0.7 0.1 0.6 0.2 0.7 0.2 0.6 0.2 0.7 0.1 0.6 0.1 0.7 0.1 0.6 0.1 0.7 0.2 0.6 0.2 0.7 0.2 0.6 0.1 0.7 0.1 0.6 0.1 0.7 0.2 0.6 0.2 0.7 0.2 0.6 0.1 0.7 0.1 0.6 0.1 0.7 0.1 0.6 0.2 0.7 0.1 0.6 0.1 0.7 0 0.6 0.1 0.7 0.1 0.6 0.2 0.7 0.1 0.6 0.1 0.7 0 0.6 0.1 0.7 0.1 0.6 0.2 0.7 0.1 0.6 0 0.7 0 0.7 0.2 0.6 0.1 0.7 0.2 0.6 0 0.7 0.1 0.6-0.1 0.7 0.1 0.6 0.1 0.7 0.1 0.6 0.2 0.7 0.1 0.6 0.2 0.7-0.1 0.6 0 0.7 0.1 0.6 0.2 0.7 0.1 0.6 0.2 0.7-0.1 0.6 0.1 0.7 0 0.6 0.1 0.7 0 0.6 0.1 0.7 0.2 0.6 0 0.7 0.1 0.6 0.1 0.7 0 0.6 0.1 0.7 0 0.6 0.1 0.7 0.1 0.6 0.1 0.7 0.1 0.6 0.1 0.7 0 0.6 0 0.7 0.2 0.6 0.1 0.7 0 0.6-0.1 0.7 0 0.6 0.1 0.7 0.2 0.6 0 0.7-0.1 0.6 0 0.7 0 0.6 0.2 0.7 0 0.6 0.1 0.7 0 0.6 0 0.7 0 0.6 0 0.7 0.1 0.6 0 0.7 0 0.6 0 0.7 0 0.6 0 0.7 0 0.6 0 0.7 0 0.6 0 0.7 0 0.6 0 0.7-0.1 0.6 0 0.7 0 0.6 0 0.7 0.1 0.6-0.2 0.7 0.1 0.6-0.1 0.7 0 0.6-0.1 0.7 0.1 0.7-0.1 0.6 0 0.7 0 0.6-0.1 0.7 0.1 0.6-0.1 0.7 0 0.6-0.1 0.7-0.1 0.6 0 0.7 0 0.6 0 0.7 0 0.6-0.1 0.7-0.1 0.6-0.1 0.7 0 0.6-0.1 0.7 0 0.6-0.1 0.7 0 0.6-0.2 0.7 0 0.6 0 0.7-0.1 0.6-0.1 0.7-0.2 0.6 0 0.7-0.1 0.6 0.1 0.7 0 0.6-0.1 0.7-0.1 0.6-0.2 0.7-0.1 0.6 0 0.7-0.1 0.6-0.1 0.7-0.1 0.6 0 0.7 0 0.6 0 0.7-0.2 0.6 0 0.7-0.1 0.6-0.1 0.7-0.2 0.6-0.1 0.7-0.2 0.6 0 0.7-0.1 0.6 0 0.7-0.1 0.6-0.2 0.7-0.1 0.6-0.1 0.7-0.1 0.6-0.3 0.7-0.2 0.6-0.1 0.7-0.2 0.6-0.3 0.7-0.2 0.6-0.2 0.7-0.1 0.6-0.2 0.7-0.2 0.6-0.2 0.7-0.3 0.6-0.2 0.7-0.2 0.6-0.2 0.7-0.2 0.6-0.1 0.7-0.1 0.6-0.3 0.7-0.2 0.6-0.1 0.7-0.3 0.7-0.1 0.6-0.1 0.7-0.1 0.6-0.1 0.7-0.3 0.6-0.2 0.7-0.1 0.6-0.2 0.7-0.1 0.6-0.1 0.7-0.2 0.6-0.1 0.7-0.1 0.6-0.2 0.7-0.1 0.6-0.2 0.7-0.1 0.6-0.2 0.7-0.1 0.6-0.2 0.7-0.2 0.6 0 0.7-0.2 0.6-0.2 0.7-0.2 0.6-0.2 0.7-0.2 0.6-0.2 0.7-0.2 0.6-0.1 0.7-0.1 0.6-0.2 0.7-0.2 0.6-0.2 0.7-0.2 0.6-0.2 0.7-0.2 0.6-0.1 0.7-0.2 0.6-0.3 0.7-0.1 0.6-0.3 0.7-0.2 0.6-0.2 0.7-0.2 0.6-0.2 0.7-0.2 0.6-0.2 0.7-0.2 0.6-0.3 0.7-0.3 0.6-0.2 0.7-0.4 0.6-0.2 0.7-0.3 0.6-0.1 0.7-0.3 0.6-0.2 0.7-0.3 0.6-0.3 0.7-0.3 0.6-0.3 0.7-0.3 0.6-0.2 0.7-0.2 0.6-0.2 0.7-0.3 0.6-0.4 0.7-0.3 0.6-0.3 0.7-0.2 0.6-0.3 0.7-0.2 0.6-0.4 0.7-0.3 0.6-0.3 0.7-0.3 0.6-0.2 0.7-0.3 0.6-0.4 0.7-0.4" fill="none" stroke="#53ae6e" stroke-width="4" stroke-linejoin="round"/>
<line x1="922" y1="703.1" x2="832.12" y2="812.24" stroke="#e0301e" stroke-width="4.3"/>
<polyline points="840.2,790.6 830.85,813.78 851.81,800.16" fill="none" stroke="#e0301e" stroke-width="4.3" stroke-linejoin="miter" stroke-miterlimit="10"/>
<line x1="820.5" y1="992.4" x2="1341" y2="992.4" stroke="#000" stroke-width="2.1" stroke-dasharray="10.3 9.7" stroke-dashoffset="12.2"/>
<path d="M820.5 835.9l0.7 0.8 0.6 0.7 0.7 0.6 0.6 0.7 0.7 0.7 0.6 0.7 0.7 0.7 0.6 0.8 0.7 0.7 0.6 0.7 0.7 0.6 0.6 0.7 0.7 0.7 0.6 0.8 0.7 0.8 0.6 0.9 0.7 0.7 0.6 0.7 0.7 0.7 0.6 0.7 0.7 0.7 0.6 0.7 0.7 0.7 0.6 0.8 0.7 0.6 0.6 0.7 0.7 0.7 0.6 0.8 0.7 0.7 0.6 0.7 0.7 0.6 0.6 0.7 0.7 0.8 0.6 0.7 0.7 0.8 0.6 0.7 0.7 0.8 0.6 0.6 0.7 0.7 0.6 0.6 0.7 0.8 0.6 0.7 0.7 0.6 0.6 0.6 0.7 0.7 0.6 0.7 0.7 0.7 0.6 0.8 0.7 0.8 0.6 0.7 0.7 0.8 0.6 0.7 0.7 0.8 0.6 0.8 0.7 0.7 0.6 0.8 0.7 0.8 0.6 0.6 0.7 0.7 0.6 0.7 0.7 0.7 0.6 0.7 0.7 0.8 0.6 0.7 0.7 0.7 0.6 0.7 0.7 0.7 0.6 0.6 0.7 0.7 0.6 0.6 0.7 0.8 0.6 0.7 0.7 0.7 0.6 0.7 0.7 0.8 0.6 0.7 0.7 0.7 0.6 0.6 0.7 0.7 0.6 0.6 0.7 0.7 0.7 0.9 0.6 0.6 0.7 0.6 0.6 0.6 0.7 0.7 0.6 0.7 0.7 0.5 0.6 0.6 0.7 0.6 0.6 0.6 0.7 0.6 0.6 0.7 0.7 0.6 0.6 0.6 0.7 0.6 0.6 0.6 0.7 0.6 0.6 0.7 0.7 0.6 0.6 0.6 0.7 0.5 0.6 0.6 0.7 0.6 0.6 0.6 0.7 0.5 0.6 0.6 0.7 0.6 0.6 0.6 0.7 0.5 0.6 0.6 0.7 0.6 0.6 0.7 0.7 0.5 0.6 0.6 0.7 0.6 0.6 0.7 0.7 0.6 0.6 0.6 0.7 0.5 0.6 0.5 0.7 0.5 0.6 0.5 0.7 0.6 0.6 0.6 0.7 0.5 0.6 0.5 0.7 0.6 0.6 0.6 0.7 0.5 0.6 0.6 0.7 0.4 0.6 0.6 0.7 0.5 0.6 0.6 0.7 0.4 0.6 0.5 0.7 0.6 0.6 0.5 0.7 0.6 0.6 0.4 0.7 0.6 0.6 0.5 0.7 0.6 0.6 0.6 0.7 0.5 0.6 0.5 0.7 0.5 0.6 0.5 0.7 0.5 0.6 0.6 0.7 0.5 0.6 0.6 0.7 0.5 0.6 0.5 0.7 0.5 0.6 0.4 0.7 0.6 0.6 0.5 0.7 0.6 0.7 0.5 0.6 0.5 0.7 0.5 0.6 0.5 0.7 0.3 0.6 0.5 0.7 0.5 0.6 0.4 0.7 0.4 0.6 0.6 0.7 0.5 0.6 0.5 0.7 0.5 0.6 0.4 0.7 0.4 0.6 0.4 0.7 0.5 0.6 0.5 0.7 0.5 0.6 0.5 0.7 0.4 0.6 0.4 0.7 0.4 0.6 0.4 0.7 0.3 0.6 0.5 0.7 0.4 0.6 0.6 0.7 0.4 0.6 0.4 0.7 0.4 0.6 0.4 0.7 0.5 0.6 0.4 0.7 0.4 0.6 0.3 0.7 0.4 0.6 0.4 0.7 0.4 0.6 0.4 0.7 0.4 0.6 0.4 0.7 0.4 0.6 0.5 0.7 0.3 0.6 0.4 0.7 0.3 0.6 0.4 0.7 0.4 0.6 0.4 0.7 0.4 0.6 0.4 0.7 0.4 0.6 0.4 0.7 0.4 0.6 0.4 0.7 0.3 0.6 0.2 0.7 0.4 0.6 0.3 0.7 0.5 0.6 0.3 0.7 0.4 0.6 0.3 0.7 0.3 0.6 0.3 0.7 0.4 0.6 0.4 0.7 0.4 0.6 0.4 0.7 0.4 0.6 0.3 0.7 0.3 0.6 0.2 0.7 0.5 0.6 0.3 0.7 0.4 0.6 0.2 0.7 0.4 0.6 0.3 0.7 0.4 0.7 0.3 0.6 0.4 0.7 0.4 0.6 0.2 0.7 0.4 0.6 0.3 0.7 0.3 0.6 0.3 0.7 0.4 0.6 0.4 0.7 0.3 0.6 0.3 0.7 0.2 0.6 0.2 0.7 0.3 0.6 0.3 0.7 0.3 0.6 0.3 0.7 0.3 0.6 0.3 0.7 0.1 0.6 0.3 0.7 0.2 0.6 0.3 0.7 0.2 0.6 0.2 0.7 0.2 0.6 0.3 0.7 0.3 0.6 0.3 0.7 0.1 0.6 0.2 0.7 0.1 0.6 0.3 0.7 0.2 0.6 0.3 0.7 0.3 0.6 0.2 0.7 0.2 0.6 0.2 0.7 0.3 0.6 0.2 0.7 0.1 0.6 0.2 0.7 0.2 0.6 0.2 0.7 0.1 0.6 0.2 0.7 0.3 0.6 0.2 0.7 0.1 0.6 0.2 0.7 0.2 0.6 0.2 0.7 0.1 0.6 0.2 0.7 0.2 0.6 0.2 0.7 0.2 0.6 0.1 0.7 0.2 0.6 0.2 0.7 0.1 0.6 0.1 0.7 0.1 0.6 0.2 0.7 0.1 0.6 0.1 0.7 0.1 0.6 0.3 0.7 0.1 0.6 0.1 0.7 0.1 0.6 0.1 0.7 0.2 0.6 0.1 0.7 0.1 0.6 0.1 0.7 0.2 0.7 0.1 0.6 0.2 0.7 0 0.6 0.1 0.7 0.1 0.6 0.2 0.7 0.1 0.6 0.1 0.7 0.1 0.6 0.1 0.7 0.1 0.6 0.1 0.7 0.1 0.6 0.2 0.7 0.1 0.6 0.2 0.7 0 0.6 0.1 0.7 0.1 0.6 0.1 0.7 0 0.6 0.1 0.7 0.1 0.6 0.1 0.7 0 0.6 0.1 0.7 0.1 0.6 0 0.7 0.1 0.6 0.1 0.7 0.2 0.6 0 0.7 0 0.6 0 0.7 0.1 0.6 0 0.7 0.1 0.6 0 0.7 0.1 0.6 0.1 0.7 0 0.6 0 0.7 0.1 0.6 0.1 0.7 0 0.6 0.1 0.7 0 0.6 0.1 0.7 0 0.6 0 0.7 0.1 0.6 0 0.7 0 0.6 0.1 0.7 0 0.6 0.1 0.7 0 0.6 0 0.7 0.1 0.6 0 0.7 0 0.6 0 0.7 0 0.6 0.1 0.7 0 0.6 0 0.7 0 0.6 0 0.7 0 0.6 0 0.7 0.1 0.6 0 0.7 0 0.6 0 0.7 0 0.6 0 0.7 0 0.6 0 0.7 0 0.7 0 0.6 0 0.7 0 0.6 0 0.7 0 0.6 0 0.7 0 0.6 0 0.7 0 0.6 0 0.7 0 0.6 0 0.7-0.1 0.6 0 0.7 0 0.6 0 0.7 0 0.6-0.1 0.7 0 0.6 0 0.7 0 0.6-0.1 0.7 0 0.6 0 0.7-0.1 0.6 0 0.7 0 0.6-0.1 0.7 0 0.6 0 0.7-0.1 0.6 0 0.7-0.1 0.6 0 0.7-0.1 0.6 0 0.7-0.1 0.6 0 0.7-0.1 0.6 0 0.7 0 0.6-0.1 0.7-0.1 0.6 0 0.7-0.1 0.6 0 0.7 0 0.6-0.1 0.7 0 0.6-0.1 0.7 0 0.6-0.1 0.7 0 0.6-0.1 0.7-0.1 0.6-0.1 0.7 0 0.6-0.1 0.7-0.1 0.6-0.1 0.7-0.1 0.6-0.1 0.7-0.1 0.6-0.1 0.7-0.1 0.6-0.1 0.7-0.1 0.6-0.2 0.7 0 0.6-0.1 0.7-0.1 0.6-0.2 0.7-0.1 0.6-0.1 0.7-0.1 0.6-0.1 0.7-0.2 0.6-0.1 0.7-0.1 0.6-0.1 0.7-0.1 0.7-0.1 0.6-0.2 0.7-0.2 0.6-0.1 0.7-0.1 0.6-0.1 0.7-0.1 0.6-0.2 0.7-0.1 0.6-0.2 0.7-0.1 0.6-0.1 0.7-0.2 0.6-0.1 0.7-0.1 0.6-0.1 0.7-0.2 0.6-0.2 0.7-0.1 0.6-0.2 0.7-0.2 0.6-0.1 0.7-0.2 0.6-0.2 0.7-0.2 0.6-0.2 0.7-0.1 0.6-0.2 0.7-0.2 0.6-0.1 0.7-0.2 0.6-0.1 0.7-0.2 0.6-0.3 0.7-0.3 0.6-0.2 0.7-0.1 0.6-0.2 0.7-0.2 0.6-0.3 0.7-0.3 0.6-0.2 0.7-0.1 0.6-0.2 0.7-0.1 0.6-0.3 0.7-0.3 0.6-0.3 0.7-0.2 0.6-0.3 0.7-0.1 0.6-0.3 0.7-0.1 0.6-0.3 0.7-0.1 0.6-0.2 0.7-0.2 0.6-0.3 0.7-0.3 0.6-0.3 0.7-0.2 0.6-0.3 0.7-0.3 0.6-0.2 0.7-0.4 0.6-0.3 0.7-0.4 0.6-0.3 0.7-0.4 0.6-0.2 0.7-0.2 0.6-0.2 0.7-0.5 0.6-0.3 0.7-0.3 0.6-0.3 0.7-0.3 0.6-0.3 0.7-0.4 0.6-0.5 0.7-0.4 0.7-0.3 0.6-0.4 0.7-0.3 0.6-0.3 0.7-0.3 0.6-0.4 0.7-0.4 0.6-0.4 0.7-0.2 0.6-0.4 0.7-0.3 0.6-0.3 0.7-0.2 0.6-0.5 0.7-0.3 0.6-0.3 0.7-0.4 0.6-0.4 0.7-0.4 0.6-0.3 0.7-0.3 0.6-0.4 0.7-0.3 0.6-0.4 0.7-0.4 0.6-0.5 0.7-0.3 0.6-0.3 0.7-0.4 0.6-0.4 0.7-0.4 0.6-0.4 0.7-0.3 0.6-0.4 0.7-0.4 0.6-0.3 0.7-0.5 0.6-0.3 0.7-0.5 0.6-0.4 0.7-0.5 0.6-0.4 0.7-0.4 0.6-0.3 0.7-0.5 0.6-0.4 0.7-0.5 0.6-0.4 0.7-0.4 0.6-0.4 0.7-0.5 0.6-0.4 0.7-0.3 0.6-0.4 0.7-0.4 0.6-0.5 0.7-0.5 0.6-0.5 0.7-0.4 0.6-0.3 0.7-0.5 0.6-0.4 0.7-0.5 0.6-0.4 0.7-0.5 0.6-0.5 0.7-0.4 0.6-0.4 0.7-0.5 0.6-0.5 0.7-0.6 0.6-0.4 0.7-0.5 0.6-0.4 0.7-0.6 0.6-0.4 0.7-0.5 0.6-0.5 0.7-0.6 0.7-0.4 0.6-0.3 0.7-0.5 0.6-0.6 0.7-0.6 0.6-0.5 0.7-0.5 0.6-0.6 0.7-0.5 0.6-0.5 0.7-0.6 0.6-0.5 0.7-0.5 0.6-0.5 0.7-0.6 0.6-0.4 0.7-0.4 0.6-0.5 0.7-0.6 0.6-0.5 0.7-0.6 0.6-0.7 0.7-0.5 0.6-0.7 0.7-0.4 0.6-0.5 0.7-0.5 0.6-0.7 0.7-0.6 0.6-0.4 0.7-0.4 0.6-0.5 0.7-0.6 0.6-0.6 0.7-0.7 0.6-0.6 0.7-0.6 0.6-0.4 0.7-0.6 0.6-0.6 0.7-0.5 0.6-0.6 0.7-0.5 0.6-0.8 0.7-0.5 0.6-0.4 0.7-0.4 0.6-0.6 0.7-0.6 0.6-0.6 0.7-0.7 0.6-0.5 0.7-0.6 0.6-0.5 0.7-0.6 0.6-0.5 0.7-0.6 0.6-0.6 0.7-0.7 0.6-0.7 0.7-0.6 0.6-0.5 0.7-0.6 0.6-0.6 0.7-0.6 0.6-0.6 0.7-0.7 0.6-0.6 0.7-0.6 0.6-0.6 0.7-0.7 0.6-0.7 0.7-0.7 0.6-0.5 0.7-0.6 0.6-0.7 0.7-0.6 0.6-0.6 0.7-0.7 0.7-0.7 0.6-0.7 0.7-0.5 0.6-0.8 0.7-0.7 0.6-0.6 0.7-0.6 0.6-0.7 0.7-0.7 0.6-0.9 0.7-0.6 0.6-0.7 0.7-0.8 0.6-0.7 0.7-0.7 0.6-0.6 0.7-0.8 0.6-0.7 0.7-0.8 0.6-0.8 0.7-0.7 0.6-0.7 0.7-0.7 0.6-0.7 0.7-0.7 0.6-0.8 0.7-0.7 0.6-0.7 0.7-0.6 0.6-0.7 0.7-0.8 0.6-0.8 0.7-0.7 0.6-0.8 0.7-0.8 0.6-0.7 0.7-0.5 0.6-0.6 0.7-0.7 0.6-0.7 0.7-0.8 0.6-0.8 0.7-0.7 0.6-0.7 0.7-0.7 0.6-0.8 0.7-0.8 0.6-0.8 0.7-0.6 0.6-0.7 0.7-0.7 0.6-0.8 0.7-0.7 0.6-0.6 0.7-0.7 0.6-0.7 0.7-0.7 0.6-0.7 0.7-0.7 0.6-0.7 0.7-0.7 0.6-0.8 0.7-0.7 0.6-0.7 0.7-0.7 0.6-0.7 0.7-0.7 0.6-0.8 0.7-0.7 0.6-0.7 0.7-0.6 0.6-0.9 0.7-0.7 0.6-0.8 0.7-0.6 0.6-0.7 0.7-0.7 0.6-0.8 0.7-0.7 0.6-0.7 0.7-0.8" fill="none" stroke="#464244" stroke-width="4" stroke-linejoin="round"/>
<path d="M820.5 919.5l0.7 0.6 0.6 0.4 0.7 0.4 0.6 0.5 0.7 0.4 0.6 0.5 0.7 0.5 0.6 0.5 0.7 0.6 0.6 0.4 0.7 0.3 0.6 0.5 0.7 0.5 0.6 0.6 0.7 0.5 0.6 0.7 0.7 0.5 0.6 0.4 0.7 0.4 0.6 0.5 0.7 0.4 0.6 0.5 0.7 0.5 0.6 0.5 0.7 0.4 0.6 0.4 0.7 0.5 0.6 0.6 0.7 0.4 0.6 0.5 0.7 0.3 0.6 0.5 0.7 0.6 0.6 0.4 0.7 0.6 0.6 0.4 0.7 0.5 0.6 0.5 0.7 0.4 0.6 0.4 0.7 0.5 0.6 0.4 0.7 0.4 0.6 0.4 0.7 0.4 0.6 0.5 0.7 0.4 0.6 0.5 0.7 0.5 0.6 0.5 0.7 0.4 0.6 0.5 0.7 0.5 0.6 0.5 0.7 0.5 0.6 0.4 0.7 0.5 0.6 0.4 0.7 0.4 0.6 0.4 0.7 0.5 0.6 0.4 0.7 0.5 0.6 0.5 0.7 0.4 0.6 0.4 0.7 0.4 0.6 0.4 0.7 0.4 0.6 0.3 0.7 0.5 0.6 0.4 0.7 0.5 0.6 0.6 0.7 0.4 0.6 0.5 0.7 0.5 0.6 0.5 0.7 0.4 0.6 0.4 0.7 0.5 0.7 0.6 0.6 0.3 0.7 0.4 0.6 0.4 0.7 0.5 0.6 0.4 0.7 0.2 0.6 0.4 0.7 0.3 0.6 0.4 0.7 0.3 0.6 0.4 0.7 0.3 0.6 0.4 0.7 0.3 0.6 0.4 0.7 0.3 0.6 0.4 0.7 0.4 0.6 0.3 0.7 0.3 0.6 0.3 0.7 0.3 0.6 0.3 0.7 0.3 0.6 0.2 0.7 0.4 0.6 0.3 0.7 0.3 0.6 0.3 0.7 0.3 0.6 0.4 0.7 0.3 0.6 0.3 0.7 0.3 0.6 0.4 0.7 0.3 0.6 0.4 0.7 0.2 0.6 0.3 0.7 0.2 0.6 0.2 0.7 0.3 0.6 0.3 0.7 0.3 0.6 0.3 0.7 0.2 0.6 0.4 0.7 0.2 0.6 0.3 0.7 0.2 0.6 0.3 0.7 0.2 0.6 0.3 0.7 0.2 0.6 0.1 0.7 0.3 0.6 0.3 0.7 0.2 0.6 0.2 0.7 0.2 0.6 0.3 0.7 0.3 0.6 0.3 0.7 0.2 0.6 0.1 0.7 0.3 0.6 0.3 0.7 0.2 0.6 0.3 0.7 0.2 0.6 0.4 0.7 0.3 0.6 0.3 0.7 0.2 0.6 0.2 0.7 0.4 0.6 0.3 0.7 0.4 0.7 0.3 0.6 0.4 0.7 0.2 0.6 0.3 0.7 0.2 0.6 0.3 0.7 0.3 0.6 0.2 0.7 0.3 0.6 0.3 0.7 0.4 0.6 0.3 0.7 0.3 0.6 0.3 0.7 0.2 0.6 0.2 0.7 0.3 0.6 0.3 0.7 0.3 0.6 0.2 0.7 0.3 0.6 0.2 0.7 0.2 0.6 0.1 0.7 0.2 0.6 0.2 0.7 0.2 0.6 0.4 0.7 0.2 0.6 0.2 0.7 0.2 0.6 0.2 0.7 0.3 0.6 0.2 0.7 0.1 0.6 0.1 0.7 0.2 0.6 0.2 0.7 0.2 0.6 0.2 0.7 0.2 0.6 0.2 0.7 0.3 0.6 0.2 0.7 0.1 0.6 0.2 0.7 0.2 0.6 0.1 0.7 0.2 0.6 0.2 0.7 0.3 0.6 0.1 0.7 0.2 0.6 0.1 0.7 0.3 0.6 0.1 0.7 0.1 0.6 0 0.7 0.1 0.6 0.1 0.7 0.2 0.6 0.1 0.7 0.1 0.6 0 0.7 0.1 0.6 0 0.7 0.2 0.6 0.1 0.7 0.2 0.6 0.2 0.7 0.1 0.6 0 0.7 0 0.6 0 0.7 0.2 0.6 0.1 0.7 0.1 0.6 0 0.7 0.1 0.6 0 0.7 0.2 0.7 0.1 0.6 0.1 0.7 0.1 0.6 0 0.7 0.1 0.6 0 0.7 0.1 0.6 0 0.7 0.2 0.6 0.1 0.7 0 0.6 0.1 0.7-0.1 0.6 0.1 0.7 0 0.6 0.1 0.7 0 0.6 0.1 0.7 0 0.6 0.1 0.7-0.1 0.6 0.1 0.7 0 0.6 0.1 0.7 0 0.6 0 0.7 0 0.6 0.1 0.7 0 0.6 0.2 0.7-0.1 0.6 0 0.7-0.1 0.6 0 0.7 0 0.6 0.2 0.7 0.1 0.6 0 0.7 0 0.6 0 0.7 0.1 0.6 0 0.7-0.1 0.6 0 0.7 0 0.6 0 0.7 0 0.6 0 0.7 0.1 0.6 0 0.7-0.1 0.6 0 0.7 0 0.6 0.1 0.7-0.1 0.6 0 0.7 0.1 0.6 0 0.7-0.1 0.6 0 0.7 0 0.6 0 0.7 0 0.6-0.1 0.7 0 0.6 0 0.7-0.1 0.6 0 0.7 0 0.6 0 0.7 0 0.6 0 0.7-0.1 0.6 0 0.7 0 0.6 0 0.7-0.1 0.6 0 0.7 0 0.7 0 0.6 0 0.7-0.1 0.6-0.1 0.7 0 0.6 0 0.7 0 0.6-0.1 0.7 0 0.6-0.1 0.7 0 0.6 0 0.7-0.1 0.6 0 0.7 0 0.6 0 0.7 0 0.6-0.1 0.7-0.1 0.6 0 0.7-0.1 0.6 0 0.7-0.1 0.6 0 0.7 0 0.6-0.1 0.7-0.1 0.6 0 0.7 0 0.6 0 0.7 0 0.6-0.1 0.7-0.1 0.6-0.1 0.7 0 0.6-0.1 0.7 0 0.6-0.1 0.7 0 0.6-0.1 0.7 0 0.6-0.1 0.7-0.1 0.6 0 0.7-0.1 0.6-0.1 0.7-0.1 0.6 0 0.7-0.1 0.6-0.1 0.7-0.1 0.6-0.1 0.7-0.1 0.6 0 0.7-0.1 0.6-0.1 0.7-0.1 0.6-0.1 0.7-0.1 0.6-0.1 0.7-0.1 0.6-0.1 0.7-0.1 0.6 0 0.7-0.1 0.6-0.1 0.7-0.1 0.6-0.1 0.7-0.1 0.6 0 0.7-0.1 0.6-0.1 0.7-0.1 0.6 0 0.7-0.1 0.6 0 0.7-0.1 0.6 0 0.7 0 0.7 0 0.6 0 0.7 0 0.6 0.1 0.7 0 0.6 0 0.7 0.1 0.6 0.1 0.7 0 0.6 0.1 0.7 0.1 0.6 0.1 0.7 0 0.6 0.1 0.7 0.1 0.6 0.1 0.7 0.1 0.6 0.1 0.7 0 0.6 0.1 0.7 0.1 0.6 0.1 0.7 0.1 0.6 0.1 0.7 0.1 0.6 0 0.7 0.1 0.6 0.1 0.7 0.1 0.6 0.1 0.7 0.1 0.6 0.1 0.7 0 0.6 0.1 0.7 0.1 0.6 0.1 0.7 0 0.6 0.1 0.7 0.1 0.6 0.1 0.7 0 0.6 0.1 0.7 0 0.6 0.1 0.7 0 0.6 0.1 0.7 0.1 0.6 0 0.7 0.1 0.6 0.1 0.7 0 0.6 0.1 0.7 0 0.6 0 0.7 0.1 0.6 0 0.7 0.1 0.6 0 0.7 0.1 0.6 0 0.7 0.1 0.6 0 0.7 0 0.6 0 0.7 0.1 0.6 0 0.7 0 0.6 0 0.7 0.1 0.6 0.1 0.7 0 0.6 0 0.7 0 0.6 0.1 0.7 0 0.6 0 0.7 0 0.6 0.1 0.7 0 0.6 0.1 0.7 0 0.7 0 0.6 0 0.7 0 0.6 0 0.7 0.1 0.6 0 0.7 0 0.6 0 0.7 0.1 0.6 0 0.7 0 0.6 0 0.7 0 0.6 0.1 0.7 0 0.6 0.1 0.7-0.1 0.6 0 0.7 0.1 0.6 0 0.7 0 0.6 0 0.7 0 0.6-0.1 0.7 0 0.6 0.1 0.7 0 0.6 0.1 0.7 0 0.6 0 0.7 0 0.6 0 0.7 0 0.6 0 0.7-0.1 0.6 0 0.7 0 0.6 0 0.7 0 0.6-0.1 0.7-0.1 0.6 0 0.7 0 0.6 0.1 0.7 0 0.6-0.1 0.7 0 0.6-0.1 0.7-0.1 0.6 0 0.7 0 0.6 0 0.7 0 0.6 0 0.7 0.1 0.6-0.1 0.7 0.1 0.6-0.1 0.7 0 0.6-0.2 0.7 0.1 0.6-0.1 0.7 0 0.6 0 0.7-0.2 0.6-0.1 0.7-0.1 0.6-0.1 0.7-0.1 0.6 0.1 0.7 0 0.6 0 0.7-0.1 0.6-0.1 0.7-0.1 0.6 0 0.7 0 0.6-0.1 0.7-0.2 0.6-0.2 0.7-0.1 0.7-0.1 0.6-0.1 0.7 0 0.6 0 0.7-0.1 0.6-0.2 0.7 0 0.6-0.2 0.7 0 0.6-0.2 0.7 0 0.6 0 0.7 0 0.6-0.2 0.7-0.1 0.6 0 0.7-0.1 0.6-0.2 0.7-0.2 0.6 0 0.7-0.1 0.6-0.1 0.7-0.1 0.6-0.1 0.7-0.2 0.6-0.3 0.7-0.1 0.6-0.1 0.7-0.1 0.6-0.2 0.7-0.3 0.6-0.1 0.7-0.2 0.6-0.1 0.7-0.2 0.6-0.2 0.7-0.3 0.6-0.1 0.7-0.3 0.6-0.2 0.7-0.3 0.6-0.2 0.7-0.2 0.6-0.1 0.7-0.2 0.6-0.2 0.7-0.3 0.6-0.2 0.7-0.2 0.6-0.2 0.7-0.3 0.6-0.2 0.7-0.1 0.6-0.1 0.7-0.2 0.6-0.3 0.7-0.3 0.6-0.3 0.7-0.2 0.6-0.2 0.7-0.3 0.6-0.2 0.7-0.2 0.6-0.3 0.7-0.3 0.6-0.3 0.7-0.2 0.6-0.2 0.7-0.3 0.6-0.4 0.7-0.4 0.6-0.2 0.7-0.3 0.6-0.2 0.7-0.4 0.6-0.2 0.7-0.4 0.6-0.3 0.7-0.3 0.7-0.2 0.6-0.2 0.7-0.3 0.6-0.4 0.7-0.3 0.6-0.3 0.7-0.3 0.6-0.3 0.7-0.3 0.6-0.3 0.7-0.2 0.6-0.3 0.7-0.2 0.6-0.2 0.7-0.3 0.6-0.2 0.7-0.1 0.6-0.1 0.7-0.3 0.6-0.3 0.7-0.3 0.6-0.3 0.7-0.3 0.6-0.4 0.7-0.1 0.6-0.2 0.7-0.2 0.6-0.4 0.7-0.3 0.6-0.2 0.7-0.2 0.6-0.1 0.7-0.4 0.6-0.3 0.7-0.4 0.6-0.3 0.7-0.3 0.6-0.2 0.7-0.3 0.6-0.3 0.7-0.3 0.6-0.3 0.7-0.3 0.6-0.5 0.7-0.2 0.6-0.2 0.7-0.1 0.6-0.3 0.7-0.3 0.6-0.4 0.7-0.4 0.6-0.2 0.7-0.4 0.6-0.2 0.7-0.3 0.6-0.2 0.7-0.3 0.6-0.4 0.7-0.4 0.6-0.4 0.7-0.4 0.6-0.2 0.7-0.3 0.6-0.4 0.7-0.3 0.6-0.4 0.7-0.3 0.6-0.4 0.7-0.3 0.6-0.4 0.7-0.4 0.6-0.5 0.7-0.4 0.6-0.2 0.7-0.4 0.6-0.4 0.7-0.4 0.6-0.4 0.7-0.5 0.7-0.4 0.6-0.5 0.7-0.3 0.6-0.6 0.7-0.4 0.6-0.5 0.7-0.3 0.6-0.5 0.7-0.5 0.6-0.5 0.7-0.4 0.6-0.4 0.7-0.6 0.6-0.4 0.7-0.5 0.6-0.2 0.7-0.5 0.6-0.5 0.7-0.6 0.6-0.4 0.7-0.4 0.6-0.4 0.7-0.5 0.6-0.4 0.7-0.5 0.6-0.4 0.7-0.4 0.6-0.5 0.7-0.3 0.6-0.5 0.7-0.5 0.6-0.5 0.7-0.5 0.6-0.4 0.7-0.5 0.6-0.5 0.7-0.3 0.6-0.3 0.7-0.4 0.6-0.5 0.7-0.6 0.6-0.5 0.7-0.5 0.6-0.4 0.7-0.4 0.6-0.6 0.7-0.5 0.6-0.6 0.7-0.3 0.6-0.5 0.7-0.5 0.6-0.6 0.7-0.4 0.6-0.4 0.7-0.4 0.6-0.4 0.7-0.6 0.6-0.4 0.7-0.5 0.6-0.4 0.7-0.5 0.6-0.5 0.7-0.5 0.6-0.5 0.7-0.4 0.6-0.5 0.7-0.5 0.6-0.5 0.7-0.5 0.6-0.4 0.7-0.4 0.6-0.6 0.7-0.5 0.6-0.6 0.7-0.4 0.6-0.4 0.7-0.6 0.6-0.5 0.7-0.5 0.6-0.5 0.7-0.5" fill="none" stroke="#e2464a" stroke-width="4" stroke-linejoin="round"/>
<path d="M820.5 960.3l0.7 0.5 0.6 0.4 0.7 0.2 0.6 0.4 0.7 0.4 0.6 0.4 0.7 0.3 0.6 0.5 0.7 0.4 0.6 0.3 0.7 0.3 0.6 0.3 0.7 0.4 0.6 0.5 0.7 0.5 0.6 0.5 0.7 0.4 0.6 0.4 0.7 0.3 0.6 0.4 0.7 0.3 0.6 0.4 0.7 0.3 0.6 0.5 0.7 0.2 0.6 0.4 0.7 0.3 0.6 0.5 0.7 0.3 0.6 0.4 0.7 0.2 0.6 0.4 0.7 0.5 0.6 0.3 0.7 0.5 0.6 0.3 0.7 0.4 0.6 0.3 0.7 0.3 0.6 0.3 0.7 0.4 0.6 0.4 0.7 0.3 0.6 0.2 0.7 0.3 0.6 0.4 0.7 0.3 0.6 0.4 0.7 0.4 0.6 0.4 0.7 0.4 0.6 0.4 0.7 0.4 0.6 0.4 0.7 0.4 0.6 0.4 0.7 0.4 0.6 0.3 0.7 0.3 0.6 0.3 0.7 0.4 0.6 0.3 0.7 0.4 0.6 0.4 0.7 0.3 0.6 0.3 0.7 0.3 0.6 0.3 0.7 0.3 0.6 0.2 0.7 0.4 0.6 0.3 0.7 0.4 0.6 0.4 0.7 0.3 0.6 0.3 0.7 0.4 0.6 0.3 0.7 0.2 0.6 0.3 0.7 0.3 0.7 0.5 0.6 0.2 0.7 0.3 0.6 0.2 0.7 0.3 0.6 0.3 0.7 0.1 0.6 0.3 0.7 0.2 0.6 0.3 0.7 0.2 0.6 0.3 0.7 0.2 0.6 0.3 0.7 0.2 0.6 0.2 0.7 0.2 0.6 0.3 0.7 0.3 0.6 0.2 0.7 0.1 0.6 0.3 0.7 0.1 0.6 0.3 0.7 0.1 0.6 0.2 0.7 0.2 0.6 0.2 0.7 0.2 0.6 0.2 0.7 0.2 0.6 0.3 0.7 0.2 0.6 0.2 0.7 0.2 0.6 0.3 0.7 0.2 0.6 0.3 0.7 0.1 0.6 0.2 0.7 0.1 0.6 0.1 0.7 0.2 0.6 0.2 0.7 0.2 0.6 0.2 0.7 0.2 0.6 0.2 0.7 0.1 0.6 0.3 0.7 0 0.6 0.2 0.7 0.2 0.6 0.2 0.7 0.1 0.6 0.1 0.7 0.2 0.6 0.2 0.7 0.2 0.6 0.1 0.7 0.1 0.6 0.2 0.7 0.3 0.6 0.2 0.7 0.1 0.6 0.1 0.7 0.2 0.6 0.2 0.7 0.1 0.6 0.2 0.7 0.1 0.6 0.3 0.7 0.2 0.6 0.1 0.7 0.1 0.6 0.1 0.7 0.2 0.6 0.2 0.7 0.2 0.7 0.1 0.6 0.2 0.7 0.1 0.6 0.2 0.7 0 0.6 0.1 0.7 0.1 0.6 0.1 0.7 0 0.6 0.2 0.7 0.2 0.6 0.2 0.7 0.1 0.6 0.1 0.7 0 0.6 0.1 0.7 0.2 0.6 0.2 0.7 0.1 0.6 0.1 0.7 0.2 0.6 0 0.7 0.1 0.6 0 0.7 0 0.6 0.1 0.7 0.1 0.6 0.3 0.7 0.1 0.6 0.1 0.7 0 0.6 0.1 0.7 0.2 0.6 0.1 0.7 0 0.6 0 0.7 0.1 0.6 0.1 0.7 0.1 0.6 0 0.7 0.1 0.6 0.1 0.7 0.1 0.6 0.1 0.7 0 0.6 0 0.7 0.1 0.6 0 0.7 0 0.6 0.1 0.7 0.1 0.6 0.1 0.7 0 0.6 0.1 0.7 0.1 0.6 0 0.7 0.1 0.6-0.2 0.7 0.1 0.6 0 0.7 0.1 0.6 0.1 0.7 0 0.6 0 0.7 0 0.6 0 0.7 0.1 0.6 0.1 0.7 0.1 0.6 0.1 0.7 0 0.6 0 0.7 0 0.6-0.1 0.7 0.2 0.6 0 0.7 0.1 0.6-0.2 0.7 0.1 0.6 0 0.7 0.1 0.7 0 0.6 0.1 0.7 0 0.6 0 0.7 0 0.6 0 0.7 0 0.6 0 0.7 0.1 0.6 0 0.7 0 0.6 0 0.7-0.1 0.6 0 0.7-0.1 0.6 0.1 0.7-0.1 0.6 0 0.7 0 0.6 0 0.7-0.2 0.6 0 0.7-0.1 0.6 0 0.7-0.1 0.6 0 0.7-0.1 0.6 0 0.7 0 0.6 0 0.7-0.1 0.6-0.1 0.7-0.2 0.6-0.1 0.7-0.1 0.6 0.1 0.7 0 0.6-0.1 0.7-0.1 0.6-0.1 0.7 0 0.6-0.1 0.7-0.1 0.6-0.2 0.7 0 0.6-0.1 0.7-0.2 0.6 0 0.7-0.1 0.6 0 0.7-0.2 0.6-0.1 0.7-0.1 0.6 0 0.7-0.1 0.6-0.1 0.7-0.1 0.6 0 0.7-0.2 0.6-0.1 0.7-0.1 0.6 0 0.7-0.1 0.6-0.2 0.7-0.1 0.6-0.1 0.7-0.1 0.6-0.2 0.7 0 0.6-0.1 0.7-0.1 0.6-0.1 0.7-0.2 0.6-0.1 0.7-0.1 0.6-0.1 0.7-0.2 0.6-0.1 0.7-0.1 0.7-0.2 0.6-0.1 0.7-0.2 0.6-0.2 0.7-0.1 0.6-0.1 0.7-0.2 0.6-0.1 0.7-0.2 0.6-0.2 0.7-0.1 0.6-0.2 0.7-0.2 0.6-0.1 0.7-0.1 0.6-0.1 0.7-0.3 0.6-0.1 0.7-0.3 0.6-0.1 0.7-0.2 0.6-0.2 0.7-0.2 0.6-0.2 0.7-0.2 0.6-0.2 0.7-0.2 0.6-0.2 0.7-0.1 0.6-0.2 0.7-0.1 0.6-0.2 0.7-0.3 0.6-0.2 0.7-0.2 0.6-0.2 0.7-0.2 0.6-0.2 0.7-0.1 0.6-0.2 0.7-0.2 0.6-0.3 0.7-0.2 0.6-0.1 0.7-0.3 0.6-0.1 0.7-0.3 0.6-0.1 0.7-0.2 0.6-0.2 0.7-0.2 0.6-0.2 0.7-0.2 0.6-0.2 0.7-0.2 0.6-0.1 0.7-0.2 0.6-0.2 0.7-0.2 0.6-0.2 0.7-0.1 0.6-0.2 0.7-0.2 0.6-0.1 0.7-0.2 0.6-0.2 0.7-0.1 0.6-0.2 0.7-0.1 0.6-0.1 0.7-0.2 0.6-0.1 0.7-0.1 0.6-0.1 0.7-0.1 0.6 0 0.7-0.1 0.6-0.1 0.7 0 0.7 0 0.6 0 0.7 0.1 0.6 0 0.7 0 0.6 0.1 0.7 0.1 0.6 0.1 0.7 0.1 0.6 0.2 0.7 0.1 0.6 0.1 0.7 0.2 0.6 0.1 0.7 0.2 0.6 0.1 0.7 0.2 0.6 0.1 0.7 0.2 0.6 0.2 0.7 0.1 0.6 0.2 0.7 0.2 0.6 0.1 0.7 0.2 0.6 0.2 0.7 0.2 0.6 0.2 0.7 0.2 0.6 0.2 0.7 0.2 0.6 0.2 0.7 0.1 0.6 0.2 0.7 0.2 0.6 0.3 0.7 0.1 0.6 0.2 0.7 0.2 0.6 0.3 0.7 0.2 0.6 0.2 0.7 0.1 0.6 0.2 0.7 0.2 0.6 0.2 0.7 0.2 0.6 0.3 0.7 0.1 0.6 0.2 0.7 0.2 0.6 0.3 0.7 0.1 0.6 0.2 0.7 0.2 0.6 0.2 0.7 0.2 0.6 0.2 0.7 0.2 0.6 0.2 0.7 0.1 0.6 0.2 0.7 0.1 0.6 0.2 0.7 0.2 0.6 0.2 0.7 0.1 0.6 0.2 0.7 0.2 0.6 0.1 0.7 0.2 0.6 0.1 0.7 0.1 0.6 0.2 0.7 0.2 0.6 0.1 0.7 0.1 0.6 0.2 0.7 0.2 0.6 0.2 0.7 0.1 0.7 0.1 0.6 0.2 0.7 0 0.6 0.2 0.7 0.1 0.6 0.2 0.7 0.1 0.6 0 0.7 0.2 0.6 0 0.7 0.2 0.6 0 0.7 0.1 0.6 0.2 0.7 0.1 0.6 0.1 0.7 0.1 0.6 0.1 0.7 0.1 0.6 0.1 0.7 0.1 0.6 0 0.7 0.1 0.6 0.1 0.7 0.1 0.6 0.1 0.7 0.1 0.6 0.1 0.7 0.1 0.6 0.1 0.7 0.2 0.6 0.1 0.7 0.1 0.6 0 0.7 0 0.6 0.1 0.7 0.1 0.6 0.1 0.7 0.1 0.6 0 0.7 0 0.6 0.1 0.7 0.1 0.6 0.2 0.7 0.1 0.6 0 0.7 0.1 0.6-0.1 0.7 0.1 0.6 0 0.7 0.2 0.6 0 0.7 0.1 0.6 0.1 0.7 0.1 0.6 0.1 0.7 0.1 0.6 0 0.7 0 0.6 0 0.7 0.1 0.6 0 0.7 0 0.6 0.1 0.7-0.1 0.6 0 0.7-0.1 0.6 0 0.7 0 0.6 0.1 0.7 0.1 0.6 0 0.7-0.1 0.6 0.1 0.7-0.1 0.6 0 0.7 0.1 0.6-0.1 0.7 0 0.6-0.2 0.7-0.1 0.7 0 0.6 0 0.7 0 0.6 0 0.7 0 0.6-0.1 0.7 0 0.6-0.1 0.7 0 0.6-0.1 0.7 0.1 0.6 0 0.7 0.1 0.6-0.2 0.7 0 0.6 0 0.7 0 0.6-0.2 0.7-0.1 0.6 0 0.7 0.1 0.6 0 0.7 0 0.6-0.1 0.7-0.1 0.6-0.2 0.7 0.1 0.6 0 0.7 0 0.6-0.1 0.7-0.1 0.6 0 0.7-0.1 0.6 0 0.7-0.1 0.6 0 0.7-0.1 0.6 0 0.7-0.2 0.6-0.1 0.7-0.2 0.6 0 0.7-0.1 0.6 0 0.7-0.1 0.6-0.1 0.7-0.2 0.6 0 0.7-0.1 0.6-0.1 0.7-0.2 0.6-0.1 0.7 0 0.6 0 0.7 0 0.6-0.2 0.7-0.2 0.6-0.2 0.7 0 0.6-0.1 0.7-0.1 0.6-0.1 0.7-0.1 0.6-0.1 0.7-0.2 0.6-0.1 0.7 0 0.6 0 0.7-0.2 0.6-0.2 0.7-0.3 0.6 0 0.7-0.1 0.6 0 0.7-0.3 0.6 0 0.7-0.2 0.6-0.2 0.7-0.1 0.7-0.1 0.6 0 0.7-0.1 0.6-0.3 0.7-0.2 0.6-0.2 0.7-0.1 0.6-0.2 0.7-0.2 0.6-0.2 0.7-0.1 0.6-0.2 0.7-0.1 0.6-0.2 0.7-0.2 0.6-0.1 0.7 0 0.6-0.1 0.7-0.2 0.6-0.3 0.7-0.2 0.6-0.2 0.7-0.3 0.6-0.3 0.7 0 0.6-0.1 0.7-0.2 0.6-0.3 0.7-0.2 0.6 0 0.7-0.1 0.6-0.1 0.7-0.3 0.6-0.2 0.7-0.3 0.6-0.2 0.7-0.2 0.6-0.1 0.7-0.2 0.6-0.2 0.7-0.2 0.6-0.2 0.7-0.2 0.6-0.4 0.7-0.1 0.6-0.1 0.7 0.1 0.6-0.2 0.7-0.3 0.6-0.2 0.7-0.3 0.6-0.2 0.7-0.2 0.6-0.1 0.7-0.2 0.6-0.2 0.7-0.2 0.6-0.2 0.7-0.3 0.6-0.3 0.7-0.3 0.6-0.1 0.7-0.2 0.6-0.2 0.7-0.2 0.6-0.3 0.7-0.3 0.6-0.2 0.7-0.2 0.6-0.3 0.7-0.3 0.6-0.4 0.7-0.2 0.6-0.2 0.7-0.2 0.6-0.3 0.7-0.2 0.6-0.3 0.7-0.3 0.7-0.3 0.6-0.3 0.7-0.2 0.6-0.4 0.7-0.3 0.6-0.3 0.7-0.2 0.6-0.3 0.7-0.4 0.6-0.4 0.7-0.3 0.6-0.3 0.7-0.5 0.6-0.3 0.7-0.4 0.6-0.1 0.7-0.4 0.6-0.4 0.7-0.5 0.6-0.3 0.7-0.4 0.6-0.3 0.7-0.4 0.6-0.3 0.7-0.3 0.6-0.4 0.7-0.4 0.6-0.3 0.7-0.3 0.6-0.3 0.7-0.5 0.6-0.3 0.7-0.4 0.6-0.4 0.7-0.4 0.6-0.4 0.7-0.2 0.6-0.2 0.7-0.3 0.6-0.3 0.7-0.5 0.6-0.5 0.7-0.3 0.6-0.4 0.7-0.3 0.6-0.5 0.7-0.4 0.6-0.4 0.7-0.2 0.6-0.4 0.7-0.4 0.6-0.4 0.7-0.4 0.6-0.3 0.7-0.3 0.6-0.3 0.7-0.5 0.6-0.3 0.7-0.3 0.6-0.4 0.7-0.4 0.6-0.4 0.7-0.4 0.6-0.4 0.7-0.3 0.6-0.4 0.7-0.3 0.6-0.5 0.7-0.3 0.6-0.4 0.7-0.3 0.6-0.5 0.7-0.4 0.6-0.5 0.7-0.3 0.6-0.3 0.7-0.4 0.6-0.4 0.7-0.5 0.6-0.3 0.7-0.5" fill="none" stroke="#3d6db5" stroke-width="4" stroke-linejoin="round"/>
<path d="M820.5 988.2l0.7 0.4 0.6 0.3 0.7 0.2 0.6 0.4 0.7 0.3 0.6 0.3 0.7 0.3 0.6 0.4 0.7 0.4 0.6 0.2 0.7 0.2 0.6 0.3 0.7 0.4 0.6 0.4 0.7 0.4 0.6 0.5 0.7 0.4 0.6 0.3 0.7 0.2 0.6 0.3 0.7 0.3 0.6 0.3 0.7 0.3 0.6 0.4 0.7 0.2 0.6 0.3 0.7 0.3 0.6 0.5 0.7 0.2 0.6 0.3 0.7 0.2 0.6 0.3 0.7 0.4 0.6 0.3 0.7 0.4 0.6 0.2 0.7 0.4 0.6 0.3 0.7 0.2 0.6 0.2 0.7 0.4 0.6 0.2 0.7 0.3 0.6 0.1 0.7 0.3 0.6 0.3 0.7 0.3 0.6 0.3 0.7 0.3 0.6 0.4 0.7 0.3 0.6 0.3 0.7 0.4 0.6 0.3 0.7 0.3 0.6 0.3 0.7 0.4 0.6 0.2 0.7 0.3 0.6 0.2 0.7 0.3 0.6 0.3 0.7 0.3 0.6 0.3 0.7 0.3 0.6 0.2 0.7 0.3 0.6 0.1 0.7 0.3 0.6 0.2 0.7 0.3 0.6 0.2 0.7 0.3 0.6 0.3 0.7 0.3 0.6 0.2 0.7 0.3 0.6 0.2 0.7 0.2 0.6 0.2 0.7 0.3 0.7 0.3 0.6 0.2 0.7 0.2 0.6 0.2 0.7 0.2 0.6 0.2 0.7 0.1 0.6 0.2 0.7 0.1 0.6 0.2 0.7 0.1 0.6 0.2 0.7 0.1 0.6 0.3 0.7 0.1 0.6 0.2 0.7 0.1 0.6 0.2 0.7 0.2 0.6 0.1 0.7 0.1 0.6 0.2 0.7 0.1 0.6 0.1 0.7 0.1 0.6 0.1 0.7 0.2 0.6 0.1 0.7 0.1 0.6 0.2 0.7 0.1 0.6 0.3 0.7 0.1 0.6 0.1 0.7 0.2 0.6 0.2 0.7 0.2 0.6 0.1 0.7 0.1 0.6 0.1 0.7 0 0.6 0.1 0.7 0.2 0.6 0.1 0.7 0.1 0.6 0.1 0.7 0.2 0.6 0.1 0.7 0.1 0.6 0.2 0.7 0 0.6 0.1 0.7 0.1 0.6 0.2 0.7 0 0.6 0 0.7 0.2 0.6 0.1 0.7 0.2 0.6 0 0.7 0.1 0.6 0.2 0.7 0.1 0.6 0.2 0.7 0.1 0.6 0 0.7 0.2 0.6 0.1 0.7 0.1 0.6 0.2 0.7 0.1 0.6 0.2 0.7 0.2 0.6 0 0.7 0.1 0.6 0.1 0.7 0.2 0.6 0.2 0.7 0.2 0.7 0.1 0.6 0.2 0.7 0.1 0.6 0.1 0.7 0.1 0.6 0.1 0.7 0 0.6 0.1 0.7 0 0.6 0.1 0.7 0.2 0.6 0.1 0.7 0.1 0.6 0 0.7 0.1 0.6 0 0.7 0.1 0.6 0.1 0.7 0.1 0.6 0.1 0.7 0.1 0.6 0 0.7 0 0.6 0 0.7 0 0.6 0.1 0.7 0 0.6 0.2 0.7 0.1 0.6 0.1 0.7 0 0.6 0 0.7 0.2 0.6 0 0.7 0.1 0.6-0.1 0.7 0 0.6 0.1 0.7 0 0.6 0.1 0.7 0 0.6 0.1 0.7 0 0.6 0.1 0.7 0 0.6 0 0.7 0 0.6 0 0.7 0.1 0.6 0 0.7 0.1 0.6 0 0.7 0.1 0.6 0 0.7 0.1 0.6 0 0.7 0 0.6-0.1 0.7 0 0.6 0 0.7 0.1 0.6 0 0.7 0 0.6-0.1 0.7 0 0.6 0 0.7 0 0.6 0 0.7 0.1 0.6 0.1 0.7 0 0.6-0.1 0.7-0.1 0.6-0.1 0.7 0.1 0.6 0 0.7 0 0.6-0.2 0.7 0 0.6-0.1 0.7 0.1 0.7-0.1 0.6 0 0.7 0 0.6-0.1 0.7-0.1 0.6 0 0.7-0.1 0.6 0 0.7-0.1 0.6 0 0.7 0 0.6-0.1 0.7-0.2 0.6-0.1 0.7-0.1 0.6 0 0.7-0.1 0.6-0.1 0.7 0 0.6-0.1 0.7-0.2 0.6-0.1 0.7-0.1 0.6 0 0.7-0.1 0.6-0.2 0.7-0.1 0.6 0 0.7-0.1 0.6 0.1 0.7-0.3 0.6-0.1 0.7-0.2 0.6-0.1 0.7-0.1 0.6 0 0.7 0 0.6-0.1 0.7-0.2 0.6-0.1 0.7 0 0.6-0.1 0.7-0.2 0.6-0.1 0.7-0.1 0.6-0.2 0.7-0.1 0.6-0.1 0.7-0.1 0.6 0 0.7-0.2 0.6-0.2 0.7-0.1 0.6-0.1 0.7-0.2 0.6-0.2 0.7-0.1 0.6-0.1 0.7-0.2 0.6-0.2 0.7-0.2 0.6-0.1 0.7-0.3 0.6-0.2 0.7-0.2 0.6-0.2 0.7-0.3 0.6-0.2 0.7-0.2 0.6-0.1 0.7-0.3 0.6-0.2 0.7-0.2 0.6-0.3 0.7-0.2 0.6-0.2 0.7-0.3 0.6-0.3 0.7-0.2 0.7-0.3 0.6-0.2 0.7-0.3 0.6-0.3 0.7-0.3 0.6-0.3 0.7-0.2 0.6-0.3 0.7-0.3 0.6-0.3 0.7-0.3 0.6-0.3 0.7-0.3 0.6-0.3 0.7-0.3 0.6-0.3 0.7-0.3 0.6-0.3 0.7-0.4 0.6-0.3 0.7-0.4 0.6-0.3 0.7-0.4 0.6-0.3 0.7-0.4 0.6-0.4 0.7-0.3 0.6-0.4 0.7-0.3 0.6-0.4 0.7-0.3 0.6-0.4 0.7-0.4 0.6-0.4 0.7-0.4 0.6-0.4 0.7-0.4 0.6-0.4 0.7-0.3 0.6-0.4 0.7-0.5 0.6-0.4 0.7-0.5 0.6-0.4 0.7-0.5 0.6-0.4 0.7-0.5 0.6-0.3 0.7-0.4 0.6-0.3 0.7-0.4 0.6-0.3 0.7-0.3 0.6-0.3 0.7-0.3 0.6-0.4 0.7-0.3 0.6-0.3 0.7-0.3 0.6-0.2 0.7-0.3 0.6-0.3 0.7-0.2 0.6-0.3 0.7-0.2 0.6-0.2 0.7-0.2 0.6-0.2 0.7-0.2 0.6-0.2 0.7-0.1 0.6-0.1 0.7-0.2 0.6-0.1 0.7-0.1 0.6 0 0.7-0.1 0.6-0.1 0.7 0 0.7 0 0.6 0 0.7 0.1 0.6 0 0.7 0 0.6 0.1 0.7 0.1 0.6 0.1 0.7 0.1 0.6 0.2 0.7 0.1 0.6 0.2 0.7 0.2 0.6 0.2 0.7 0.2 0.6 0.2 0.7 0.2 0.6 0.3 0.7 0.2 0.6 0.3 0.7 0.3 0.6 0.2 0.7 0.3 0.6 0.3 0.7 0.3 0.6 0.3 0.7 0.3 0.6 0.4 0.7 0.3 0.6 0.3 0.7 0.4 0.6 0.3 0.7 0.3 0.6 0.4 0.7 0.5 0.6 0.4 0.7 0.5 0.6 0.4 0.7 0.5 0.6 0.4 0.7 0.5 0.6 0.4 0.7 0.3 0.6 0.4 0.7 0.4 0.6 0.4 0.7 0.4 0.6 0.4 0.7 0.4 0.6 0.4 0.7 0.4 0.6 0.4 0.7 0.3 0.6 0.4 0.7 0.3 0.6 0.4 0.7 0.4 0.6 0.3 0.7 0.4 0.6 0.3 0.7 0.3 0.6 0.3 0.7 0.3 0.6 0.3 0.7 0.4 0.6 0.3 0.7 0.3 0.6 0.3 0.7 0.3 0.6 0.3 0.7 0.3 0.6 0.3 0.7 0.3 0.6 0.3 0.7 0.2 0.6 0.3 0.7 0.3 0.6 0.3 0.7 0.3 0.6 0.3 0.7 0.2 0.7 0.3 0.6 0.2 0.7 0.2 0.6 0.3 0.7 0.2 0.6 0.3 0.7 0.2 0.6 0.2 0.7 0.2 0.6 0.2 0.7 0.2 0.6 0.2 0.7 0.2 0.6 0.3 0.7 0.2 0.6 0.2 0.7 0.1 0.6 0.2 0.7 0.2 0.6 0.2 0.7 0.2 0.6 0.1 0.7 0.2 0.6 0.1 0.7 0.1 0.6 0.2 0.7 0.2 0.6 0.2 0.7 0.1 0.6 0.1 0.7 0.2 0.6 0.2 0.7 0.1 0.6 0 0.7 0 0.6 0.1 0.7 0.2 0.6 0.1 0.7 0.1 0.6 0 0.7 0.1 0.6 0.1 0.7 0.2 0.6 0.1 0.7 0.2 0.6 0 0.7 0.1 0.6 0 0.7 0.1 0.6 0.1 0.7 0.2 0.6 0.1 0.7 0.1 0.6 0.1 0.7 0.2 0.6 0.1 0.7 0.1 0.6 0.1 0.7 0.1 0.6 0 0.7 0.1 0.6 0.1 0.7 0.1 0.6 0.1 0.7 0 0.6 0 0.7 0 0.6 0.1 0.7 0 0.6 0.2 0.7 0.1 0.6 0.2 0.7-0.1 0.6 0.1 0.7 0 0.6 0.1 0.7 0.1 0.6 0 0.7 0 0.6-0.1 0.7 0 0.7 0.1 0.6 0 0.7 0.1 0.6 0 0.7 0.1 0.6-0.1 0.7 0.1 0.6-0.1 0.7 0.1 0.6 0 0.7 0.1 0.6 0.1 0.7 0 0.6-0.1 0.7 0 0.6 0.1 0.7 0 0.6-0.1 0.7-0.1 0.6 0 0.7 0.1 0.6 0 0.7 0 0.6 0 0.7-0.1 0.6-0.1 0.7 0 0.6 0.1 0.7 0 0.6-0.1 0.7-0.1 0.6 0 0.7 0 0.6 0 0.7 0 0.6 0 0.7-0.1 0.6 0 0.7-0.2 0.6 0 0.7-0.2 0.6 0 0.7 0 0.6 0 0.7-0.1 0.6 0 0.7-0.2 0.6 0 0.7 0 0.6-0.1 0.7-0.1 0.6-0.1 0.7 0.1 0.6 0 0.7 0 0.6-0.2 0.7-0.1 0.6-0.1 0.7 0 0.6 0 0.7-0.1 0.6 0 0.7-0.1 0.6-0.1 0.7-0.1 0.6-0.1 0.7 0 0.6 0 0.7-0.1 0.6-0.1 0.7-0.2 0.6-0.1 0.7-0.1 0.6 0 0.7-0.2 0.6 0 0.7-0.2 0.6-0.2 0.7-0.1 0.7-0.1 0.6 0 0.7-0.1 0.6-0.2 0.7-0.2 0.6-0.2 0.7-0.1 0.6-0.2 0.7-0.1 0.6-0.1 0.7-0.2 0.6-0.1 0.7-0.1 0.6-0.1 0.7-0.2 0.6 0 0.7 0 0.6 0 0.7-0.2 0.6-0.2 0.7-0.1 0.6-0.2 0.7-0.2 0.6-0.2 0.7 0 0.6-0.1 0.7-0.1 0.6-0.2 0.7-0.2 0.6 0 0.7 0 0.6 0 0.7-0.2 0.6-0.2 0.7-0.2 0.6-0.2 0.7-0.1 0.6 0 0.7-0.2 0.6-0.1 0.7-0.1 0.6-0.2 0.7-0.1 0.6-0.3 0.7-0.1 0.6 0 0.7 0.1 0.6-0.1 0.7-0.2 0.6-0.2 0.7-0.2 0.6-0.1 0.7-0.2 0.6 0 0.7-0.1 0.6-0.1 0.7-0.1 0.6-0.2 0.7-0.2 0.6-0.3 0.7-0.1 0.6-0.2 0.7-0.1 0.6-0.1 0.7-0.1 0.6-0.3 0.7-0.1 0.6-0.2 0.7-0.1 0.6-0.2 0.7-0.2 0.6-0.3 0.7-0.2 0.6-0.1 0.7-0.2 0.6-0.2 0.7-0.1 0.6-0.2 0.7-0.3 0.7-0.2 0.6-0.3 0.7-0.1 0.6-0.3 0.7-0.2 0.6-0.2 0.7-0.1 0.6-0.3 0.7-0.3 0.6-0.4 0.7-0.2 0.6-0.2 0.7-0.4 0.6-0.3 0.7-0.3 0.6-0.1 0.7-0.3 0.6-0.3 0.7-0.4 0.6-0.3 0.7-0.3 0.6-0.2 0.7-0.3 0.6-0.3 0.7-0.3 0.6-0.3 0.7-0.2 0.6-0.3 0.7-0.2 0.6-0.3 0.7-0.4 0.6-0.3 0.7-0.3 0.6-0.4 0.7-0.3 0.6-0.3 0.7-0.1 0.6-0.2 0.7-0.2 0.6-0.3 0.7-0.4 0.6-0.4 0.7-0.3 0.6-0.3 0.7-0.2 0.6-0.5 0.7-0.3 0.6-0.4 0.7-0.2 0.6-0.3 0.7-0.3 0.6-0.4 0.7-0.2 0.6-0.3 0.7-0.3 0.6-0.2 0.7-0.4 0.6-0.3 0.7-0.3 0.6-0.3 0.7-0.3 0.6-0.4 0.7-0.3 0.6-0.3 0.7-0.3 0.6-0.3 0.7-0.3 0.6-0.4 0.7-0.3 0.6-0.3 0.7-0.3 0.6-0.4 0.7-0.3 0.6-0.5 0.7-0.2 0.6-0.3 0.7-0.4 0.6-0.3 0.7-0.4 0.6-0.3 0.7-0.4" fill="none" stroke="#53ae6e" stroke-width="4" stroke-linejoin="round"/>
<line x1="930.9" y1="915" x2="836.83" y2="1028.85" stroke="#e0301e" stroke-width="4.3"/>
<polyline points="844.95,1007.22 835.55,1030.39 856.54,1016.8" fill="none" stroke="#e0301e" stroke-width="4.3" stroke-linejoin="miter" stroke-miterlimit="10"/>
<rect x="820.5" y="606.5" width="520.5" height="433.7" fill="none" stroke="#000" stroke-width="2.2"/>
<line x1="820.5" y1="823.3" x2="1341" y2="823.3" stroke="#000" stroke-width="2.2"/>
<line x1="820.5" y1="823.3" x2="820.5" y2="817.8" stroke="#000" stroke-width="2"/>
<line x1="872.55" y1="823.3" x2="872.55" y2="817.8" stroke="#000" stroke-width="2"/>
<line x1="924.6" y1="823.3" x2="924.6" y2="817.8" stroke="#000" stroke-width="2"/>
<line x1="976.65" y1="823.3" x2="976.65" y2="817.8" stroke="#000" stroke-width="2"/>
<line x1="1028.7" y1="823.3" x2="1028.7" y2="817.8" stroke="#000" stroke-width="2"/>
<line x1="1080.75" y1="823.3" x2="1080.75" y2="817.8" stroke="#000" stroke-width="2"/>
<line x1="1132.8" y1="823.3" x2="1132.8" y2="817.8" stroke="#000" stroke-width="2"/>
<line x1="1184.85" y1="823.3" x2="1184.85" y2="817.8" stroke="#000" stroke-width="2"/>
<line x1="1236.9" y1="823.3" x2="1236.9" y2="817.8" stroke="#000" stroke-width="2"/>
<line x1="1288.95" y1="823.3" x2="1288.95" y2="817.8" stroke="#000" stroke-width="2"/>
<line x1="1341" y1="823.3" x2="1341" y2="817.8" stroke="#000" stroke-width="2"/>
<line x1="846.52" y1="823.3" x2="846.52" y2="820.8" stroke="#000" stroke-width="2"/>
<line x1="898.58" y1="823.3" x2="898.58" y2="820.8" stroke="#000" stroke-width="2"/>
<line x1="950.62" y1="823.3" x2="950.62" y2="820.8" stroke="#000" stroke-width="2"/>
<line x1="1002.67" y1="823.3" x2="1002.67" y2="820.8" stroke="#000" stroke-width="2"/>
<line x1="1054.72" y1="823.3" x2="1054.72" y2="820.8" stroke="#000" stroke-width="2"/>
<line x1="1106.78" y1="823.3" x2="1106.78" y2="820.8" stroke="#000" stroke-width="2"/>
<line x1="1158.83" y1="823.3" x2="1158.83" y2="820.8" stroke="#000" stroke-width="2"/>
<line x1="1210.88" y1="823.3" x2="1210.88" y2="820.8" stroke="#000" stroke-width="2"/>
<line x1="1262.92" y1="823.3" x2="1262.92" y2="820.8" stroke="#000" stroke-width="2"/>
<line x1="1314.97" y1="823.3" x2="1314.97" y2="820.8" stroke="#000" stroke-width="2"/>
<line x1="820.5" y1="1040.2" x2="820.5" y2="1034.7" stroke="#000" stroke-width="2"/>
<line x1="872.55" y1="1040.2" x2="872.55" y2="1034.7" stroke="#000" stroke-width="2"/>
<line x1="924.6" y1="1040.2" x2="924.6" y2="1034.7" stroke="#000" stroke-width="2"/>
<line x1="976.65" y1="1040.2" x2="976.65" y2="1034.7" stroke="#000" stroke-width="2"/>
<line x1="1028.7" y1="1040.2" x2="1028.7" y2="1034.7" stroke="#000" stroke-width="2"/>
<line x1="1080.75" y1="1040.2" x2="1080.75" y2="1034.7" stroke="#000" stroke-width="2"/>
<line x1="1132.8" y1="1040.2" x2="1132.8" y2="1034.7" stroke="#000" stroke-width="2"/>
<line x1="1184.85" y1="1040.2" x2="1184.85" y2="1034.7" stroke="#000" stroke-width="2"/>
<line x1="1236.9" y1="1040.2" x2="1236.9" y2="1034.7" stroke="#000" stroke-width="2"/>
<line x1="1288.95" y1="1040.2" x2="1288.95" y2="1034.7" stroke="#000" stroke-width="2"/>
<line x1="1341" y1="1040.2" x2="1341" y2="1034.7" stroke="#000" stroke-width="2"/>
<line x1="846.52" y1="1040.2" x2="846.52" y2="1037.7" stroke="#000" stroke-width="2"/>
<line x1="898.58" y1="1040.2" x2="898.58" y2="1037.7" stroke="#000" stroke-width="2"/>
<line x1="950.62" y1="1040.2" x2="950.62" y2="1037.7" stroke="#000" stroke-width="2"/>
<line x1="1002.67" y1="1040.2" x2="1002.67" y2="1037.7" stroke="#000" stroke-width="2"/>
<line x1="1054.72" y1="1040.2" x2="1054.72" y2="1037.7" stroke="#000" stroke-width="2"/>
<line x1="1106.78" y1="1040.2" x2="1106.78" y2="1037.7" stroke="#000" stroke-width="2"/>
<line x1="1158.83" y1="1040.2" x2="1158.83" y2="1037.7" stroke="#000" stroke-width="2"/>
<line x1="1210.88" y1="1040.2" x2="1210.88" y2="1037.7" stroke="#000" stroke-width="2"/>
<line x1="1262.92" y1="1040.2" x2="1262.92" y2="1037.7" stroke="#000" stroke-width="2"/>
<line x1="1314.97" y1="1040.2" x2="1314.97" y2="1037.7" stroke="#000" stroke-width="2"/>
<line x1="820.5" y1="639.22" x2="828.5" y2="639.22" stroke="#000" stroke-width="2"/>
<line x1="820.5" y1="761.53" x2="828.5" y2="761.53" stroke="#000" stroke-width="2"/>
<line x1="820.5" y1="822.69" x2="828.5" y2="822.69" stroke="#000" stroke-width="2"/>
<line x1="820.5" y1="700.38" x2="824.5" y2="700.38" stroke="#000" stroke-width="2"/>
<line x1="820.5" y1="896.32" x2="828.5" y2="896.32" stroke="#000" stroke-width="2"/>
<line x1="820.5" y1="992.4" x2="828.5" y2="992.4" stroke="#000" stroke-width="2"/>
<line x1="820.5" y1="848.28" x2="824.5" y2="848.28" stroke="#000" stroke-width="2"/>
<line x1="820.5" y1="944.36" x2="824.5" y2="944.36" stroke="#000" stroke-width="2"/>
<text x="820.5" y="1074" font-size="31" text-anchor="middle">-5</text>
<text x="872.55" y="1074" font-size="31" text-anchor="middle">-4</text>
<text x="924.6" y="1074" font-size="31" text-anchor="middle">-3</text>
<text x="976.65" y="1074" font-size="31" text-anchor="middle">-2</text>
<text x="1017.09" y="1074" font-size="31">-</text>
<use href="#g1" transform="translate(1027.41 1074) scale(0.01514 -0.01514)"/>
<text x="1080.75" y="1074" font-size="31" text-anchor="middle">0</text>
<use href="#g1" transform="translate(1125.33 1074) scale(0.01514 -0.01514)"/>
<text x="1184.85" y="1074" font-size="31" text-anchor="middle">2</text>
<text x="1236.9" y="1074" font-size="31" text-anchor="middle">3</text>
<text x="1288.95" y="1074" font-size="31" text-anchor="middle">4</text>
<text x="1341" y="1074" font-size="31" text-anchor="middle">5</text>
<text x="809" y="650.22" font-size="31" text-anchor="end">40</text>
<text x="809" y="772.53" font-size="31" text-anchor="end">0</text>
<text x="809" y="907.32" font-size="31" text-anchor="end">20</text>
<text x="809" y="1003.4" font-size="31" text-anchor="end">0</text>
<text x="1047.8" y="1110.8" font-size="31" font-style="italic">B</text>
<text x="1076.8" y="1110.8" font-size="31">(T)</text>
<g transform="translate(753.5 874.8) rotate(-90)">
<text x="0" y="0" font-size="31" font-style="italic">MR</text>
<text x="52" y="0" font-size="31">(%)</text>
</g>
<text x="1025.5" y="636" font-size="27.5">Top-BLG</text>
<line x1="1046" y1="657.1" x2="1095.5" y2="657.1" stroke="#464244" stroke-width="4"/>
<use href="#g1" transform="translate(1101.5 666.1) scale(0.01245 -0.01245)" fill="#464244"/>
<line x1="1046" y1="686" x2="1095.5" y2="686" stroke="#e2464a" stroke-width="4"/>
<text x="1101.5" y="694.5" font-size="25.5" fill="#e2464a">2</text>
<line x1="1046" y1="714.7" x2="1095.5" y2="714.7" stroke="#3d6db5" stroke-width="4"/>
<text x="1101.5" y="723" font-size="25.5" fill="#3d6db5">3</text>
<line x1="1046" y1="743.1" x2="1095.5" y2="743.1" stroke="#53ae6e" stroke-width="4"/>
<text x="1101.5" y="751.3" font-size="25.5" fill="#53ae6e">4</text>
<text x="1005.5" y="854.8" font-size="27.5">Bottom-BLG</text>
<line x1="1044.2" y1="878.1" x2="1097.8" y2="878.1" stroke="#464244" stroke-width="4"/>
<use href="#g1" transform="translate(1100 887) scale(0.01245 -0.01245)" fill="#464244"/>
<line x1="1044.2" y1="907.1" x2="1097.8" y2="907.1" stroke="#e2464a" stroke-width="4"/>
<text x="1100" y="915.9" font-size="25.5" fill="#e2464a">2</text>
<line x1="1044.2" y1="936" x2="1097.8" y2="936" stroke="#3d6db5" stroke-width="4"/>
<text x="1100" y="944.6" font-size="25.5" fill="#3d6db5">3</text>
<line x1="1044.2" y1="964.7" x2="1097.8" y2="964.7" stroke="#53ae6e" stroke-width="4"/>
<text x="1100" y="973.2" font-size="25.5" fill="#53ae6e">4</text>
<text x="710" y="644.7" font-size="52" font-weight="bold">d</text>
</svg></body></html>
